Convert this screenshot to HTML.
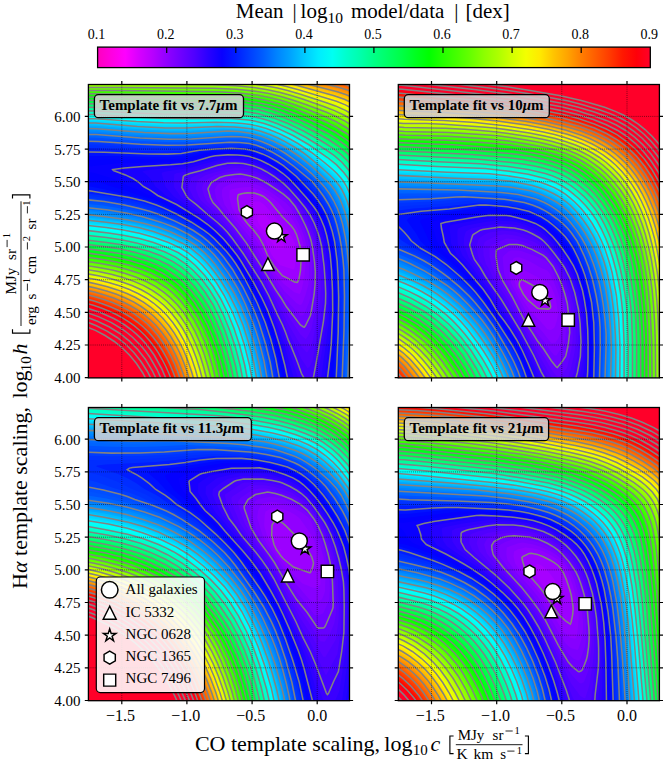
<!DOCTYPE html>
<html><head><meta charset="utf-8"><style>html,body{margin:0;padding:0;background:#fff;}svg{display:block;}</style></head><body>
<svg width="665" height="761" viewBox="0 0 665 761" font-family='"Liberation Serif", serif'>
<rect width="665" height="761" fill="#fff"/>
<defs><linearGradient id="cb" x1="0" x2="1" y1="0" y2="0"><stop offset="0.000" stop-color="#ff00bf"/><stop offset="0.025" stop-color="#ff00e0"/><stop offset="0.050" stop-color="#fe00ff"/><stop offset="0.075" stop-color="#d700ff"/><stop offset="0.100" stop-color="#b700ff"/><stop offset="0.125" stop-color="#9100ff"/><stop offset="0.150" stop-color="#7000ff"/><stop offset="0.175" stop-color="#5000ff"/><stop offset="0.200" stop-color="#2a00ff"/><stop offset="0.225" stop-color="#0900ff"/><stop offset="0.250" stop-color="#001dff"/><stop offset="0.275" stop-color="#003eff"/><stop offset="0.300" stop-color="#005eff"/><stop offset="0.325" stop-color="#0084ff"/><stop offset="0.350" stop-color="#00a5ff"/><stop offset="0.375" stop-color="#00cbff"/><stop offset="0.400" stop-color="#00ecff"/><stop offset="0.425" stop-color="#00fff2"/><stop offset="0.450" stop-color="#00ffcc"/><stop offset="0.475" stop-color="#00ffac"/><stop offset="0.500" stop-color="#00ff86"/><stop offset="0.525" stop-color="#00ff66"/><stop offset="0.550" stop-color="#00ff46"/><stop offset="0.575" stop-color="#00ff20"/><stop offset="0.600" stop-color="#00ff00"/><stop offset="0.625" stop-color="#26ff00"/><stop offset="0.650" stop-color="#46ff00"/><stop offset="0.675" stop-color="#67ff00"/><stop offset="0.700" stop-color="#8dff00"/><stop offset="0.725" stop-color="#adff00"/><stop offset="0.750" stop-color="#d3ff00"/><stop offset="0.775" stop-color="#f3ff00"/><stop offset="0.800" stop-color="#ffea00"/><stop offset="0.825" stop-color="#ffc400"/><stop offset="0.850" stop-color="#ffa400"/><stop offset="0.875" stop-color="#ff7e00"/><stop offset="0.900" stop-color="#ff5e00"/><stop offset="0.925" stop-color="#ff3d00"/><stop offset="0.950" stop-color="#ff1800"/><stop offset="0.975" stop-color="#ff0009"/><stop offset="1.000" stop-color="#ff0029"/></linearGradient><clipPath id="c0"><rect x="88.4" y="84.5" width="261.1" height="293.4"/></clipPath><clipPath id="c1"><rect x="398.3" y="84.5" width="261.1" height="293.4"/></clipPath><clipPath id="c2"><rect x="88.4" y="407.5" width="261.1" height="293.2"/></clipPath><clipPath id="c3"><rect x="398.3" y="407.5" width="261.1" height="293.2"/></clipPath></defs>
<rect x="97.6" y="47.1" width="552.7" height="20.5" fill="url(#cb)" stroke="#000" stroke-width="1.3"/>
<text x="96.6" y="39" font-size="14" text-anchor="middle">0.1</text>
<path d="M166.7 47.1V52.9" stroke="#000" stroke-width="1.2"/>
<text x="165.7" y="39" font-size="14" text-anchor="middle">0.2</text>
<path d="M235.8 47.1V52.9" stroke="#000" stroke-width="1.2"/>
<text x="234.8" y="39" font-size="14" text-anchor="middle">0.3</text>
<path d="M304.9 47.1V52.9" stroke="#000" stroke-width="1.2"/>
<text x="303.9" y="39" font-size="14" text-anchor="middle">0.4</text>
<path d="M373.9 47.1V52.9" stroke="#000" stroke-width="1.2"/>
<text x="372.9" y="39" font-size="14" text-anchor="middle">0.5</text>
<path d="M443.0 47.1V52.9" stroke="#000" stroke-width="1.2"/>
<text x="442" y="39" font-size="14" text-anchor="middle">0.6</text>
<path d="M512.1 47.1V52.9" stroke="#000" stroke-width="1.2"/>
<text x="511.1" y="39" font-size="14" text-anchor="middle">0.7</text>
<path d="M581.2 47.1V52.9" stroke="#000" stroke-width="1.2"/>
<text x="580.2" y="39" font-size="14" text-anchor="middle">0.8</text>
<text x="649.3" y="39" font-size="14" text-anchor="middle">0.9</text>
<g font-size="21">
<text x="235.8" y="18" font-size="21">Mean</text>
<text x="292.6" y="18" font-size="21">|</text>
<text x="300.6" y="18" font-size="21">log</text>
<text x="327.6" y="22.9" font-size="15.5">10</text>
<text x="351" y="18" font-size="21">model/data</text>
<text x="454.2" y="18" font-size="21">|</text>
<text x="465.4" y="18" font-size="21">[dex]</text>
</g>
<g clip-path="url(#c0)">
<g>
<path d="M84.4 80.5H354.4V382.5H84.4Z" fill="#bc00ff"/>
<path d="M84.4 80.5L354.4 80.5L354.4 382.5L84.4 382.5ZM266.4 225L266.2 226.5L267.4 228L268.4 228.3L268.8 227.5L268.2 226.5Z" fill="#b100ff"/>
<path d="M84.4 80.5L354.4 80.5L354.4 382.5L84.4 382.5ZM259.4 213.6L258.6 214.5L257.3 218.5L257.2 219.5L258.7 223.5L265.4 232.4L270.4 240.6L276.4 248.7L284.4 248.8L284.4 246.5L280.3 233.5L277.1 228.5L265.4 214.9L263.4 213.6Z" fill="#a700ff"/>
<path d="M84.4 80.5L354.4 80.5L354.4 382.5L84.4 382.5ZM255.4 201.4L249.4 202.4L248.6 203.5L247.9 213.5L251.4 221.5L259.4 231.1L263.2 236.5L265.8 241.5L271.4 254.2L273.4 257.5L280.4 265.3L293.4 269.6L294.4 268.5L295 266.5L295.8 253.5L294.9 243.5L292.4 237.7L288.2 231.5L279.4 222.3L264.4 204.8L259.4 201.5Z" fill="#9c00ff"/>
<path d="M84.4 80.5L354.4 80.5L354.4 382.5L84.4 382.5ZM242.4 193.4L238.4 194.7L237.5 198.5L239 209.5L244.3 219.5L254.7 231.5L259.2 237.5L263 244.5L269.4 258.9L274.4 266.6L282.4 275.7L294.4 281.9L297.4 282.3L299 278.5L300.5 270.5L301.1 258.5L300.9 250.5L297.8 238.5L294.4 230.1L291.4 226L282.2 216.5L270.6 202.5L263.5 196.5L254.4 193L247.4 192.9Z" fill="#9100ff"/>
<path d="M84.4 80.5L354.4 80.5L354.4 382.5L84.4 382.5ZM241.4 187.4L232.4 189.1L229.6 190.5L229.4 197.5L231.8 207.5L238.5 218.5L242.5 223.5L251.6 233.5L256 239.5L259.4 245.5L267.1 261.5L274.4 272.5L283.4 283.6L294.4 292.3L299.4 294.1L300.4 293.1L301.9 288.5L304.5 276.5L305.6 264.5L305.8 257.5L304.4 248.6L301.4 236.6L297.2 227.5L291.4 217.7L278.2 202.5L273.6 198.5L261.4 190.8L254.4 188.2L250.4 187.1Z" fill="#8600ff"/>
<path d="M84.4 80.5L354.4 80.5L354.4 382.5L84.4 382.5ZM241.4 181.4L237.4 182.1L229.4 184.4L223.4 187.5L221.9 190.5L222.1 196.5L224.5 204.5L233.3 217.5L251.8 239.5L255.5 245.5L265.4 263.8L274.4 277.7L284.4 291.2L296.4 302.9L299.4 304.7L300.4 304.9L301.4 304.6L302.4 303.1L305.3 295.5L308.4 284.5L308.9 277.5L309 260.5L307.3 249.5L304.5 237.5L301.9 230.5L297.7 221.5L290.4 207.8L285.5 202.5L268.3 190.5L260.4 186.1L247.4 181.7Z" fill="#7b00ff"/>
<path d="M84.4 80.5L354.4 80.5L354.4 382.5L84.4 382.5ZM230.4 178.4L226.4 179.7L217.6 184.5L214.7 189.5L215.6 196.5L218.7 203.5L249.1 241.5L270.4 276.5L285.4 299L300.4 315.7L303.4 315.3L309 302.5L310.3 297.5L312 281.5L312 263.5L310.3 250.5L307.6 238.5L303 226.5L294 208.5L291.5 204.5L287.4 200.2L271.4 189.2L259.4 182.4L251.4 179.5L244.4 177.8L237.4 177.7Z" fill="#7000ff"/>
<path d="M84.4 80.5L354.4 80.5L354.4 382.5L84.4 382.5ZM234.4 174.5L221.4 176.9L211.3 182.5L208.1 188.5L210.4 197.5L212.9 202.5L218.6 208.5L224.2 215.5L235.4 228.3L246.4 243.1L286.4 306.8L300.4 324.9L303.4 326.9L304.4 327.1L310.4 315.5L311.1 312.5L314.1 294.5L315.2 278.5L315.3 271.5L314.6 262.5L312.5 247.5L310.1 237.5L305.4 225.5L300.5 215.5L295.2 206.5L289.4 199.4L283.4 194.2L267.4 183.5L257.4 178.2L250.4 176L243.4 174.5L240.4 174.1Z" fill="#6500ff"/>
<path d="M84.4 80.5L354.4 80.5L354.4 382.5L84.4 382.5ZM232.4 171.5L223.4 173L214.6 175.5L205.4 180.5L203 184.5L202 188.5L204.3 196.5L207.1 201.5L213.4 207.6L230.7 226.5L238.6 236.5L262.5 272.5L281.6 304.5L287.4 315.1L300.4 334.5L305.4 339.1L306.4 338.4L308.2 335.5L311.4 329.1L316 305.5L318.1 287.5L318.3 278.5L316.2 252.5L314.2 241.5L309.9 229.5L303.4 216.5L296.8 205.5L287.4 194.7L278.4 187.5L265.4 179.1L256.4 174.7L249.4 172.7L242.4 171.4L237.4 171Z" fill="#5a00ff"/>
<path d="M84.4 80.5L354.4 80.5L354.4 382.5L84.4 382.5ZM231.4 168.4L221.4 170.4L207.4 174.5L204.9 175.5L198.4 179.5L197.2 181.5L195.7 188.5L198.6 196.5L201.1 200.5L209.4 208.1L228.4 227.5L237.3 238.5L244.1 249.5L254.3 263.5L263.8 278.5L281.6 310.5L287.4 322.4L301.4 346.6L306.4 352.3L307.4 352.1L311.4 345.8L312.6 341.5L318.2 312.5L320.1 299.5L321 288.5L320 265.5L318.8 253.5L316.7 242.5L312.7 230.5L306.4 217.5L299.7 206.5L288.4 193.2L278.4 184.8L266.4 176.5L255.4 171.3L248.4 169.5L242.4 168.5L235.4 168Z" fill="#5000ff"/>
<path d="M84.4 80.5L354.4 80.5L354.4 382.5L84.4 382.5ZM231.4 165.5L218.4 168.1L198.4 174.3L191.6 177.5L191 178.5L190 182.5L189.1 187.5L189.3 188.5L192.8 196.5L195 199.5L202.4 205.8L210.3 213.5L221.4 223.3L230.4 232.8L235.6 239.5L254 266.5L262.2 279.5L267.7 289.5L282.4 318.2L287.4 329.8L297.4 349.9L301.4 359L307.4 368.1L309.4 367L312.4 361.2L319.6 324.5L323.5 296.5L323.1 276.5L321.4 257.6L319.5 245.5L315.4 231.6L309.4 218.5L302.7 207.5L289.4 191.7L282.4 185.3L268.8 175.5L262.4 171.8L255.3 168.5L244.4 166.1Z" fill="#4500ff"/>
<path d="M84.4 80.5L354.4 80.5L354.4 382.5L312 382.5L315.9 364.5L323.4 321.6L325.5 304.5L325.7 295.5L324.2 267.5L321.6 246.5L319.7 238.5L317.2 230.5L314.3 223.5L310.3 215.5L303.5 205.5L289.4 189.2L283.4 183.4L274.1 176.5L262.5 169.5L253.4 165.8L243.4 163.5L234.4 163L227.4 163.3L217.4 165.4L200.4 170.7L189.7 173.5L184.5 175.5L183.4 176.5L183.2 177.5L181.9 187.5L186.2 195.5L188.4 198.5L214 219.5L221.9 226.5L227.6 232.5L242.5 252.5L255.6 272.5L266.7 291.5L281.4 322.5L297.2 361.5L301.4 373.3L306.5 382.5L84.4 382.5Z" fill="#3a00ff"/>
<path d="M84.4 80.5L354.4 80.5L354.4 382.5L316.7 382.5L323.4 341.8L325.8 324.5L327.4 311.5L327.6 299.5L326.3 271.5L323.8 248.5L320.4 233.5L317.9 226.5L314.4 218.5L308 208.5L299.1 197.5L287.4 184.6L279.4 177.7L268.4 170.5L256.4 164.8L246.4 162L235.4 160.6L222.4 161.7L213.4 163.8L193.4 169.9L176.4 173.3L174.2 174.5L173.9 180.5L174.2 187.5L181.4 197.5L208.3 217.5L222.1 229.5L232.4 241.6L244 257.5L261.9 286.5L270.4 303.5L284.3 336.5L299.6 382.5L84.4 382.5Z" fill="#2f00ff"/>
<path d="M84.4 80.5L354.4 80.5L354.4 382.5L320.5 382.5L328.7 323.5L329.3 309.5L329.1 291.5L327.9 268.5L325.7 248.5L321.4 230.5L318.4 222.1L315.5 216.5L308.9 206.5L298 193.5L286.4 181.1L278.4 174.5L265.4 166.8L253.4 161.7L242.4 159.3L230.4 158.5L220.4 159.5L190.4 167.8L165.5 171.5L162.2 172.5L161.6 173.5L165.4 186.5L173.8 196.5L203.4 216.4L217.3 227.5L222.4 232.6L229.4 240.5L238.4 252.1L243.4 259.4L261.5 289.5L270.6 308.5L284 343.5L295.1 382.5L84.4 382.5Z" fill="#2400ff"/>
<path d="M84.4 80.5L354.4 80.5L354.4 382.5L324 382.5L329.4 340.1L330.2 330.5L331 310.5L330.6 285.5L329.1 261.5L326.9 245.5L322.7 228.5L321 223.5L317.4 216L311.2 206.5L299.4 192.5L287.3 179.5L278.4 172.2L264.4 164.2L252.7 159.5L242.4 157.4L230.4 156.7L217.4 157.6L196.4 163.5L185.4 166.1L159.4 168.7L145.4 170.5L142.2 171.5L147.2 175.5L150.4 178.8L153.2 182.5L155.4 186.5L160.5 190.5L165.6 195.5L186.4 207.6L202.4 218.2L214.4 227.5L226.3 239.5L239 255.5L244.8 264.5L260.4 291.3L265.4 301.1L269.9 311.5L275.4 325.7L283.5 350.5L291.3 382.5L84.4 382.5Z" fill="#1900ff"/>
<path d="M84.4 80.5L354.4 80.5L354.4 382.5L327 382.5L330.4 353.6L332 330.5L332.7 305.5L332 278.5L330.2 254.5L327.6 239.5L324.4 227.5L318.4 213.9L312 204.5L296.4 186.5L286.6 176.5L277.4 169.4L264.4 162.2L253.4 157.7L244.4 155.7L231.4 154.8L214.4 155.9L194.4 161.5L183.4 163.6L142.4 166.4L112.7 169.5L113.5 170.5L125.4 174.9L133.4 178.8L138.4 182L143.5 186.5L150.4 190.3L157.7 195.5L176.6 204.5L198.4 217.9L207.8 224.5L214.9 230.5L223.4 238.8L232.5 249.5L241.2 261.5L253.4 282.2L262.1 298.5L267.4 309.9L274.4 328.5L280 346.5L284.9 365.5L288.4 382.5L84.4 382.5Z" fill="#0900ff"/>
<path d="M84.4 80.5L354.4 80.5L354.4 382.5L329.9 382.5L332.7 350.5L334.3 315.5L333.8 282.5L331.7 253.5L329.6 240.5L327.6 231.5L322.6 218.5L319.7 212.5L316.4 207.2L304.2 192.5L293.2 180.5L287.4 174.9L274.4 165.5L265.4 160.6L258.4 157.5L250.4 155L243.4 153.7L229.4 153L211.4 154.2L191.4 159.7L179.4 161.5L163.4 162.3L117.4 163.2L91.4 166.2L84.4 166.4ZM84.4 172.5L84.4 171.9L87.4 172L94.4 173.1L111.4 178.3L119.4 181.5L129.1 186.5L138.4 190.1L146.8 194.5L161.4 199.9L170.4 203.9L190.4 215.2L202.4 222.9L210.4 228.9L220.8 238.5L232.4 251.7L240.4 262.9L254.6 287.5L264.5 307.5L270.4 322.3L276.1 339.5L281.4 359.5L286.1 382.5L84.4 382.5Z" fill="#0400ff"/>
<path d="M84.4 80.5L354.4 80.5L354.4 382.5L332.3 382.5L334.9 340.5L335.8 311.5L335.2 279.5L333.2 253.5L330.2 235.5L327.6 226.5L324.4 218.1L321.7 212.5L317.4 205.5L307.6 193.5L295.6 180.5L289.4 174.5L277.4 165.5L271.4 161.7L262.4 157.3L254.4 154.4L246.4 152.5L238.4 151.6L229.4 151.4L211.4 152.4L205.4 153.1L187.4 157.9L173.4 159.3L84.4 160.1ZM84.4 179.5L84.4 178.9L88.4 179.3L97.4 181.3L108.6 185.5L124.4 190.1L136.7 194.5L152.4 199L165.4 204L185.4 214.5L199.4 223.1L210.8 231.5L218.5 238.5L230.4 251.6L239.4 264.1L253.8 289.5L263.1 308.5L269.1 323.5L275.2 342.5L280.3 363.5L283.9 382.5L84.4 382.5Z" fill="#0007ff"/>
<path d="M84.4 80.5L354.4 80.5L354.4 382.5L334.4 382.5L336.7 334.5L337.2 309.5L336.7 279.5L335 255.5L332.5 238.5L329.8 228.5L326.7 219.5L324.2 213.5L320.8 207.5L316.4 201L312 195.5L293.4 175.9L280.3 165.5L271.4 159.9L263.4 156L254.4 152.7L246.4 150.8L231.4 149.9L212.4 150.7L202.4 151.7L185.4 155.6L170.4 156.8L152.4 156.9L110.4 156L84.4 156.1ZM84.4 186.5L84.4 186L91.4 186.7L105.4 189.4L120.4 193.5L142.4 198.3L159.4 203.8L167.4 207.3L179.4 213.4L194.4 222L207.4 230.9L216.2 238.5L228.4 251.5L236.6 262.5L248.3 282.5L258.6 302.5L266.6 321.5L273.1 341.5L277.2 357.5L282.1 382.5L84.4 382.5Z" fill="#0012ff"/>
<path d="M84.4 80.5L354.4 80.5L354.4 382.5L336.1 382.5L338.1 335.5L338.7 306.5L338.1 275.5L336.4 253.5L333.5 236.5L331.1 227.5L328 218.5L322.4 206.8L313.4 194.2L296.5 176.5L287.4 168.8L280.4 163.6L271.4 158.2L264.4 154.7L255.9 151.5L247.4 149.4L235.4 148.4L218.4 148.8L199.4 150.3L181.4 153.4L166.4 154.2L147.4 154L104.4 152.2L84.4 152ZM84.4 190.5L91.4 191L128.4 197.3L143.4 200.8L156.4 205L176.4 214L191.4 222.2L204.4 230.6L214.4 238.9L226.5 251.5L235.6 263.5L245.1 279.5L257.4 303.5L265.2 322.5L270.8 339.5L275.7 358.5L280.2 382.5L84.4 382.5Z" fill="#001dff"/>
<path d="M84.4 80.5L354.4 80.5L354.4 382.5L337.6 382.5L339.6 334.5L340.2 303.5L339.4 271.5L337.4 249L333.8 231.5L328.6 215.5L321.7 202.5L313.4 191.3L298.9 176.5L288.4 167.6L282.4 163.1L273.1 157.5L264.4 153L256.4 150L248.4 148L238.4 146.9L225.4 146.9L198.4 148.8L177.4 151L162.4 151.4L139.4 150.8L99.4 148.2L84.4 148ZM84.4 193.5L102.4 195.2L123.8 198.5L141.4 202.4L155.4 206.9L174.4 215L194.4 226L205.4 233.2L216.4 243L227.1 254.5L235.8 266.5L245.1 282.5L257.1 306.5L265 326.5L270 342.5L274.9 362.5L278.4 382.5L84.4 382.5Z" fill="#002dff"/>
<path d="M84.4 80.5L354.4 80.5L354.4 382.5L339.1 382.5L341 335.5L341.6 305.5L341.1 275.5L339.4 252.5L335.9 233.5L330.7 216.5L327.4 209.2L323.6 202.5L318.4 194.7L313.4 188.4L305.7 180.5L299.1 174.5L290.8 167.5L282.4 161.4L272.5 155.5L263.4 151L256.7 148.5L249.4 146.7L240.4 145.5L227.4 145.4L183.4 148.4L166.4 148.7L147.4 148.3L102.3 145.5L84.4 145.1ZM84.4 196.5L84.4 195.5L91.4 196.1L117.4 199.5L136.4 203.3L152.4 208.1L171.4 215.6L193.4 227.1L204.4 234.4L214.8 243.5L225.4 254.7L234.7 267.5L245.7 286.5L256 307.5L261.9 322.5L268.7 343.5L273.3 362.5L276.8 382.5L84.4 382.5Z" fill="#0033ff"/>
<path d="M84.4 80.5L354.4 80.5L354.4 382.5L340.6 382.5L342.7 327.5L343 289.5L341.7 260.5L338.3 237.5L334.2 221.5L329.4 209.6L322.3 197.5L313.4 185.6L307.2 179.5L296.8 170.5L281.4 159.1L271.7 153.5L263.4 149.5L257.4 147.1L249.4 145.1L240.4 143.9L228.4 143.8L188.4 146.5L168.4 147L142.4 146.1L98.4 143.4L84.4 143.1ZM84.4 198.5L84.4 197.5L94.4 198.4L122.4 202.4L140.4 206.5L159.1 212.5L174.4 219L194.4 229.4L203.4 235.5L214.4 245.2L225 256.5L234.3 269.5L244.7 287.5L254.8 308.5L261.1 324.5L267.4 344.6L271.5 361.5L275.3 382.5L84.4 382.5Z" fill="#003eff"/>
<path d="M84.4 80.5L354.4 80.5L354.4 382.5L342 382.5L344.2 324.5L344.4 285.5L343.4 262.5L341.5 247.5L339.4 235.4L335.3 219.5L330.4 207.9L323 195.5L312.4 181.8L294.4 166.7L280.4 156.8L271.4 151.7L263.4 148L256.4 145.3L249.4 143.6L239.4 142.4L229.4 142.3L187.4 145L166.4 145.3L140.4 144.3L98.4 141.5L84.4 141.2ZM84.4 200.5L84.4 199.5L93.4 200.3L119.4 203.9L136.4 207.6L157.4 213.8L173.4 220.5L192.4 230L202.2 236.5L213.7 246.5L223.9 257.5L232.4 269.2L242.6 286.5L251.4 304.5L259.2 323.5L265.7 344.5L270.2 362.5L273.7 382.5L84.4 382.5Z" fill="#004eff"/>
<path d="M84.4 80.5L354.4 80.5L354.4 382.5L343.5 382.5L345.7 322.5L345.8 283.5L345.4 270.5L344.5 260.5L340.9 235.5L337.3 220.5L332.4 208.2L329.4 202.5L324.4 194.6L314.9 182.5L310.4 178L298.4 168.1L288.5 160.5L280.4 155.1L272 150.5L263.4 146.5L256.4 143.8L250.4 142.3L240.4 141L231.4 140.8L186.4 143.6L165.4 143.6L139.4 142.5L97.4 139.6L84.4 139.3ZM84.4 201.5L103.4 203.5L121.9 206.5L143.4 211.4L157.4 215.7L177.4 224L191.4 231.1L201.4 237.7L212.4 247.2L222.9 258.5L231.4 270.2L241.7 287.5L250.4 305.5L257.7 323.5L262.8 339.5L268.4 361.4L272.2 382.5L84.4 382.5Z" fill="#0053ff"/>
<path d="M84.4 80.5L354.4 80.5L354.4 382.5L344.9 382.5L347.1 322.5L347.3 282.5L345.6 258.5L342.6 236.5L338.8 220.5L333.7 207.5L326.9 195.5L317.7 183.5L311.4 177L303.8 170.5L291.4 160.9L281.4 154.1L273.1 149.5L263.4 145L256.4 142.4L249.4 140.7L239.4 139.5L230.4 139.4L191.4 141.9L171.4 142.2L140.4 140.9L97.4 137.8L84.4 137.5ZM84.4 203.5L103.4 205.5L123.4 208.9L140.4 212.5L155.4 216.9L174.4 224.3L189.4 231.6L201.4 239.5L211.4 248.1L221.8 259.5L230.4 271.3L240.7 288.5L249.3 306.5L256.9 325.5L262 341.5L267.3 363.5L270.7 382.5L84.4 382.5Z" fill="#0064ff"/>
<path d="M84.4 80.5L354.4 80.5L354.4 382.5L346.4 382.5L348.4 324.5L348.8 286.5L347.4 263.3L344.4 239.2L340.8 222.5L336.3 209.5L329.4 196.5L320.5 184.5L311.4 175.2L305.4 169.9L293.4 160.6L283.4 153.7L275.4 149.1L265.7 144.5L256.4 141.1L249.4 139.3L240.4 138.2L231.4 138L191.4 140.4L170.4 140.7L141.4 139.4L97.4 136.2L84.4 135.9ZM84.4 205.5L102.9 207.5L128.4 211.6L144.4 215.4L159.4 220.2L175.4 226.3L189.4 233.3L200.4 240.5L210.4 249L220 259.5L228.8 271.5L238.6 287.5L247 304.5L255.3 325.5L260.5 341.5L265 359.5L269.2 382.5L84.4 382.5Z" fill="#0069ff"/>
<path d="M84.4 80.5L354.4 80.5L354.4 382.5L347.8 382.5L349.7 326.5L350.2 291.5L348.7 264.5L345.7 239.5L342.5 223.5L337.5 208.5L330.7 195.5L326.5 189.5L322.4 184.5L307.1 169.5L297 161.5L285.4 153.4L277.4 148.6L267.4 143.8L258.4 140.4L250.4 138.2L242.4 137L232.4 136.6L190.4 139L168.4 139.2L140.4 137.9L97.4 134.7L84.4 134.4ZM84.4 207.5L106.4 209.8L126.4 213L141.4 216.4L160.4 222.1L175.4 227.8L188.4 234.3L199.4 241.5L209.4 250L218.2 259.5L227.4 271.9L237.1 287.5L245.5 304.5L252.4 321.5L259.4 342.6L264.1 361.5L267.8 382.5L84.4 382.5Z" fill="#0074ff"/>
<path d="M84.4 80.5L354.4 80.5L354.4 382.5L349.1 382.5L351.1 327.5L351.5 297.5L350.2 268.5L347.3 241.5L344.1 224.5L339.1 208.5L332.6 195.5L328.5 189.5L324.4 184.5L308.4 168.8L296.7 159.5L287.4 153L277.4 147.1L270 143.5L260.4 139.7L251.4 137.1L241.4 135.5L232.4 135.2L189.4 137.7L166.4 137.7L138.4 136.4L96.4 133.1L84.4 132.9ZM84.4 209.5L101.4 210.9L123.4 214.2L145.4 219.2L159.4 223.3L174.4 229L187.4 235.4L197.4 241.7L208 250.5L217.4 260.7L228.8 276.5L237.2 290.5L244.6 305.5L252.1 324.5L258.5 344.5L263.1 363.5L266.3 382.5L84.4 382.5Z" fill="#0084ff"/>
<path d="M84.4 80.5L354.4 80.5L354.4 382.5L350.5 382.5L352.4 329.5L352.7 301.5L351.5 271.5L348.7 242.5L345.7 225.5L343.3 216.5L340.6 208.5L337.6 201.5L334.4 195.4L331.2 190.5L326.4 184.5L308.4 167L297.5 158.5L287.4 151.5L277.2 145.5L268.5 141.5L257.7 137.5L250.4 135.6L240.4 134.2L231.4 133.8L189.4 136.3L166.4 136.3L138.4 135L96.4 131.6L84.4 131.4ZM84.4 211.5L84.4 210.9L95.4 212L120.4 215.5L142.4 220L158.4 224.5L173.4 230.1L188.4 237.6L198.4 244.1L207.1 251.5L217.1 262.5L227.8 277.5L236.3 291.5L243.4 306L250.7 324.5L257.4 345.5L261.8 363.5L265.1 382.5L84.4 382.5Z" fill="#008fff"/>
<path d="M84.4 80.5L354.4 80.5L354.4 382.5L351.9 382.5L353.6 331.5L353.8 300.5L352.7 271.5L350.2 244.5L347.3 226.5L342.4 209L336.3 195.5L332.4 189.5L328.4 184.5L308.7 165.5L299.4 158.2L289.7 151.5L280.4 145.9L271.5 141.5L261.4 137.5L252.4 134.9L242.4 133.2L230.4 132.4L188.4 134.9L163.4 134.8L136.4 133.4L96.4 130.2L84.4 129.9ZM84.4 213.5L84.4 212.6L90.4 213.1L119.4 217L139.4 220.8L156.4 225.3L171.4 230.8L186.4 238L196.4 244.3L205.4 251.7L215.4 262.5L226.9 278.5L234.8 291.5L242.3 306.5L250.1 326.5L255.9 345.5L260.7 364.5L263.8 382.5L84.4 382.5Z" fill="#0095ff"/>
<path d="M84.4 80.5L354.4 80.5L354.4 281.8L352.5 254.5L349.9 233.5L346.2 216.5L341.4 202.4L336.4 192.6L329.5 183.5L311.9 166.5L302.4 158.8L287.3 148.5L274.4 141.5L259 135.5L252.4 133.7L245.4 132.4L228.4 131.1L190.4 133.4L168.4 133.5L138.4 132.1L95.4 128.6L84.4 128.5ZM84.4 214.5L99.4 215.8L124.4 219.3L141.4 222.7L156.4 226.8L170.4 231.9L185.4 238.9L195.4 245.1L204.4 252.6L214.4 263.4L226 279.5L233.9 292.5L240.9 306.5L247.3 322.5L253.5 341.5L259.1 363.5L262.5 382.5L84.4 382.5ZM354.4 348.5L354.4 348L354.4 382.5L353.3 382.5Z" fill="#00a0ff"/>
<path d="M84.4 80.5L354.4 80.5L354.4 263L352.5 243.5L349.9 226.5L345.5 209.5L340.3 196.5L334.8 187.5L327.7 179.5L310.4 163.4L297.3 153.5L284.4 145.4L270.4 138.5L256.4 133.5L243.4 131L226.4 129.9L189.4 132L167.4 132.1L137.4 130.7L95.4 127.2L84.4 127ZM84.4 216.5L84.4 215.8L90.4 216.4L122.4 220.4L140.4 223.9L155.4 227.9L169.4 232.9L184.4 239.8L194.4 246L203.5 253.5L213.4 264.3L224.5 279.5L232.5 292.5L240 307.5L246.4 323.5L252.5 342.5L257.8 363.5L261.2 382.5L84.4 382.5Z" fill="#00aaff"/>
<path d="M84.4 80.5L354.4 80.5L354.4 249.1L352 230.5L348.2 213.5L344.2 201.5L338.4 190L335.2 185.5L330.8 180.5L315.9 166.5L304.4 156.9L292 148.5L278.4 140.9L266.4 135.6L253.4 131.6L242.4 129.8L223.4 128.7L188.4 130.7L166.4 130.7L135.4 129.1L95.4 125.8L84.4 125.6ZM84.4 217.5L101.4 218.9L122.4 221.7L139.4 225L154.4 229L167.4 233.6L183.4 240.8L193.4 246.9L202.4 254.3L211.4 263.9L221.6 277.5L231.4 293.3L239 308.5L245.4 324.5L251.5 343.5L256.9 365.5L259.9 382.5L84.4 382.5Z" fill="#00bbff"/>
<path d="M84.4 80.5L354.4 80.5L354.4 238.7L351.5 221.5L347.8 207.5L343.4 196.2L338.4 187.2L334.7 182.5L329.4 176.9L311.4 160.8L302.4 153.8L289.4 145.5L275.4 138.1L264.4 133.7L252.4 130.2L240.6 128.5L221.4 127.6L187.4 129.3L165.4 129.3L136.4 127.8L95.4 124.4L84.4 124.3ZM84.4 219.5L84.4 218.6L118.4 222.5L136.4 225.7L152.4 229.8L169.4 235.9L182 241.5L192.1 247.5L201.4 255.1L211.1 265.5L220.9 278.5L229.5 292.5L238.1 309.5L244.5 325.5L250.5 344.5L255.8 366.5L258.7 382.5L84.4 382.5Z" fill="#00c6ff"/>
<path d="M84.4 80.5L354.4 80.5L354.4 230.3L351.2 214.5L347.9 203.5L342.7 191.5L337.6 183.5L328 173.5L309.5 157.5L299.8 150.5L286.5 142.5L272.4 135.5L262.4 131.8L252.4 129.1L240.4 127.4L217.4 126.5L185.4 128L164.4 127.9L137.4 126.6L95.4 123.1L84.4 123ZM84.4 220.5L84.4 219.9L92.4 220.6L120.4 224.1L137.4 227.3L152.4 231.3L169.4 237.2L182.4 243.2L191.4 248.6L200.4 256L210.3 266.5L220.1 279.5L228.7 293.5L236.7 309.5L243.2 325.5L248.9 343.5L253.8 362.5L257.4 382.5L84.4 382.5Z" fill="#00cbff"/>
<path d="M84.4 80.5L354.4 80.5L354.4 223.5L351.5 210.5L347.4 198.3L343.3 189.5L337.4 180.9L327.4 170.9L308.4 155L299.1 148.5L284.4 140L272.4 134.3L261.8 130.5L251.4 127.9L240.4 126.4L219.4 125.4L182.4 126.7L163.4 126.5L138.4 125.3L96.4 122L84.4 121.8ZM84.4 221.5L84.4 221.2L100.4 222.8L121.4 225.6L137.4 228.7L151.7 232.5L167.4 237.9L181.4 244.1L190.4 249.5L199.4 256.9L208.6 266.5L219.3 280.5L228.4 295.5L235.8 310.5L242.2 326.5L248 344.5L253 364.5L256.2 382.5L84.4 382.5Z" fill="#00d6ff"/>
<path d="M84.4 80.5L354.4 80.5L354.4 217.1L351 204.5L346.5 192.5L342.4 185.1L337.4 178.5L326.9 168.5L308.4 153.4L298.4 146.6L283.4 138.2L271.4 132.7L261.4 129.3L251.4 126.8L239.4 125.3L218.4 124.4L185.4 125.3L163.4 125.2L139.4 124.1L95.4 120.9L84.4 120.7ZM84.4 222.5L106.4 224.8L124.4 227.5L139.4 230.6L155.4 235L169.4 240.1L182.4 246.1L190.4 251.1L199.4 258.7L209.4 269.4L218.4 281.3L227.4 296.3L234.4 310.5L240.9 326.5L246.7 344.5L252 365.5L255 382.5L84.4 382.5Z" fill="#00e1ff"/>
<path d="M84.4 80.5L354.4 80.5L354.4 211.9L350.7 199.5L346.6 189.5L342.4 182.4L336.4 175.2L325.7 165.5L307.4 151.1L297.2 144.5L282.4 136.4L270.4 131.1L260.4 127.9L250.4 125.6L239.4 124.2L217.4 123.3L183.4 124.2L161.4 123.9L134.4 122.6L95.4 119.8L84.4 119.7ZM84.4 224.5L84.4 223.8L90.4 224.4L120.4 228.1L136.4 231.3L153.4 235.8L167.4 240.7L181.4 247L189.4 252L198.4 259.5L208.4 270.1L217.1 281.5L225.4 295.2L233.1 310.5L240 327.5L245.5 344.5L250.8 365.5L253.9 382.5L84.4 382.5Z" fill="#00f1ff"/>
<path d="M84.4 80.5L354.4 80.5L354.4 207.2L350.4 194.9L346.6 186.5L342.4 179.9L336.4 173L325.6 163.5L307.4 149.6L296.2 142.5L281.1 134.5L269.4 129.6L259.4 126.5L250.4 124.5L238.4 123.1L216.4 122.3L182.4 123L162.4 122.8L135.4 121.5L95.4 118.8L84.4 118.6ZM84.4 225.5L84.4 225.1L97.4 226.4L120.4 229.5L138.4 233.1L153.4 237.1L167.4 242.1L180.4 248L188.4 252.9L197.4 260.3L207.9 271.5L216.3 282.5L224.2 295.5L232.2 311.5L239.1 328.5L244.4 345L249.6 365.5L252.7 382.5L84.4 382.5Z" fill="#00fcff"/>
<path d="M84.4 80.5L354.4 80.5L354.4 202.7L350.5 191.5L345.9 182.5L339.4 174L331.6 166.5L312.3 151.5L296.9 141.5L281.4 133.4L265.4 127.1L250.4 123.5L232.4 121.7L214.4 121.2L181.4 121.8L162.4 121.6L135.4 120.4L95.4 117.7L84.4 117.6ZM84.4 226.5L103.4 228.4L121.4 231L138.8 234.5L153.4 238.4L167.5 243.5L179.4 249L188.4 254.5L196.4 261.1L207.2 272.5L215.4 283.4L222.8 295.5L230.9 311.5L237.4 327.5L243.3 345.5L248.4 365.5L251.5 382.5L84.4 382.5Z" fill="#00fffd"/>
<path d="M84.4 80.5L354.4 80.5L354.4 198.4L350.1 187.5L345.6 179.5L338.4 170.7L330.4 163.5L310.4 148.6L295.4 139.3L281.4 132.2L265.4 126L250.4 122.4L232.4 120.7L212.4 120.2L180.4 120.7L161.4 120.5L135.4 119.3L95.4 116.7L84.4 116.5ZM84.4 228.5L84.4 227.6L117.4 231.7L135.4 235L150.4 238.9L165.4 244L177.4 249.4L186.4 254.7L195.4 262L205.5 272.5L214.4 284L222 296.5L230 312.5L236.4 328.1L242.4 346.5L247.2 365.5L250.4 382.5L84.4 382.5Z" fill="#00fff2"/>
<path d="M84.4 80.5L354.4 80.5L354.4 194.4L349.6 183.5L344.4 175.5L337.4 167.6L329 160.5L309.4 146.5L294.5 137.5L280.2 130.5L264.4 124.6L249.4 121.2L232.4 119.7L213.4 119.2L161.4 119.3L135.4 118.2L95.4 115.6L84.4 115.5ZM84.4 229.5L84.4 228.9L91.4 229.7L120.4 233.5L136.4 236.5L150.4 240.2L164.4 245L177.4 250.9L186.4 256.3L194.4 262.8L204.4 273.1L213.2 284.5L221.2 297.5L228.7 312.5L235.3 328.5L241.1 346.5L246 365.5L249.2 382.5L84.4 382.5Z" fill="#00ffe7"/>
<path d="M84.4 80.5L354.4 80.5L354.4 190.8L350 181.5L343.8 172.5L336.4 164.6L327.5 157.5L308.6 144.5L293.1 135.5L278.4 128.6L263.4 123.3L248.4 120.1L231.4 118.6L160.4 118.2L95.4 114.6L84.4 114.5ZM84.4 230.5L103.4 232.3L123.4 235.2L139.2 238.5L153.4 242.5L167.4 247.6L178.4 252.8L187.2 258.5L195.4 265.5L204.8 275.5L213.1 286.5L220.4 298.5L227.9 313.5L234 328.5L239.6 345.5L244.8 365.5L248 382.5L84.4 382.5Z" fill="#00ffd7"/>
<path d="M84.4 80.5L354.4 80.5L354.4 187.4L349.8 178.5L343.9 170.5L336.4 162.6L328.6 156.5L309.3 143.5L293.6 134.5L279.4 127.8L263.4 122.2L248.4 119.1L231.4 117.6L160.4 117.1L96.4 113.7L84.4 113.5ZM84.4 231.5L106.4 233.9L123.4 236.5L138.4 239.6L152.4 243.5L166.3 248.5L176.9 253.5L185.4 258.8L194.4 266.3L203.4 275.7L211.6 286.5L219.4 299.1L226.6 313.5L233.1 329.5L238.4 345.5L243.6 365.5L246.9 382.5L84.4 382.5Z" fill="#00ffcc"/>
<path d="M84.4 80.5L354.4 80.5L354.4 184.3L349.4 175.5L343.4 167.7L335.4 159.8L328.2 154.5L308.3 141.5L292.1 132.5L278.4 126.3L262.4 120.9L248.4 118L231.4 116.6L163.4 116.1L96.4 112.8L84.4 112.6ZM84.4 233.5L84.4 232.7L118.4 236.9L134.4 240L150.4 244.2L164.4 249.1L175.4 254.1L184.4 259.7L193.4 267.1L202.4 276.5L210.9 287.5L218.8 300.5L225.7 314.5L232.2 330.5L237.5 346.5L242.7 366.5L245.7 382.5L84.4 382.5Z" fill="#00ffc7"/>
<path d="M84.4 80.5L354.4 80.5L354.4 181.4L349.4 173.2L342.4 164.6L334.8 157.5L326.2 151.5L306.4 139L290.5 130.5L276.7 124.5L261.4 119.5L247.4 116.9L230.4 115.5L163.4 115.1L97.4 111.9L84.4 111.7ZM84.4 234.5L84.4 233.9L119.4 238.3L136.4 241.7L151.4 245.8L164.4 250.4L175.2 255.5L183.4 260.6L192.4 268L201.4 277.2L209.4 287.6L217.4 300.5L224.4 314.4L231 330.5L236.3 346.5L241.3 365.5L244.6 382.5L84.4 382.5Z" fill="#00ffbc"/>
<path d="M84.4 80.5L354.4 80.5L354.4 178.8L349.1 170.5L342.2 162.5L334.4 155.6L325.6 149.5L306.1 137.5L290.4 129.3L277 123.5L261.4 118.5L246.4 115.8L230.4 114.5L162.4 114.1L97.4 111L84.4 110.8ZM84.4 235.5L84.4 235.1L98.4 236.6L119.4 239.6L136.4 243L151.4 247.1L163.7 251.5L174.4 256.5L183.4 262.2L192.2 269.5L200.8 278.5L209.2 289.5L216.6 301.5L223.4 315L229.7 330.5L235.4 347.5L240.1 365.5L243.4 382.5L84.4 382.5Z" fill="#00ffb1"/>
<path d="M84.4 80.5L354.4 80.5L354.4 176.3L348.4 167.5L342 160.5L333.4 153.2L323.3 146.5L304.4 135.2L289.1 127.5L275.4 121.8L260.4 117.2L245.4 114.7L229.4 113.5L162.4 113.1L98.4 110.1L84.4 109.9ZM84.4 236.5L102.4 238.3L120.4 241L136.4 244.2L151.4 248.3L163.4 252.7L173.5 257.5L182.9 263.5L191.4 270.5L200.4 279.9L208.4 290.4L215.8 302.5L222.3 315.5L228.5 330.5L234.2 347.5L239.2 366.5L242.3 382.5L84.4 382.5Z" fill="#00ffa1"/>
<path d="M84.4 80.5L354.4 80.5L354.4 173.8L348.5 165.5L341.8 158.5L333.4 151.6L322.5 144.5L303.4 133.4L288.4 126L275.4 120.7L260.4 116.2L245.4 113.7L229.4 112.5L162.4 112L98.4 109.2L84.4 109ZM84.4 237.5L105.4 239.9L122.4 242.5L137.4 245.7L150.4 249.3L162.4 253.7L172.6 258.5L182.1 264.5L190.6 271.5L199.4 280.7L207.4 291.2L215 303.5L221.4 316.2L227.6 331.5L233.2 348.5L238 366.5L241.2 382.5L84.4 382.5Z" fill="#00ff97"/>
<path d="M84.4 80.5L354.4 80.5L354.4 171.4L348.4 163.4L341.5 156.5L332.4 149.3L321.6 142.5L302.4 131.6L287.4 124.4L274.4 119.3L259.4 115L245.4 112.7L229.4 111.5L162.4 111L99.4 108.4L84.4 108.1ZM84.4 239.5L84.4 238.6L117.4 242.8L133.4 245.9L148.4 249.9L161.1 254.5L171.4 259.3L180.4 264.9L189.4 272.1L198.4 281.4L206.1 291.5L213.6 303.5L220.2 316.5L226.8 332.5L232 348.5L236.8 366.5L240 382.5L84.4 382.5Z" fill="#00ff91"/>
<path d="M84.4 80.5L354.4 80.5L354.4 169.2L348.4 161.5L341.1 154.5L332.4 147.8L320.7 140.5L302.4 130.4L287.4 123.3L273.4 117.9L259.4 114L244.4 111.6L228.4 110.5L161.4 110L84.4 107.3ZM84.4 240.5L84.4 239.8L118.4 244.2L134.4 247.4L148.4 251.2L160.4 255.6L171.4 260.8L180.4 266.5L189 273.5L197.6 282.5L205.3 292.5L212.8 304.5L219.4 317.5L225.2 331.5L230.5 347.5L235.4 365.5L238.9 382.5L84.4 382.5Z" fill="#00ff81"/>
<path d="M84.4 80.5L354.4 80.5L354.4 167L348.3 159.5L340.4 152.3L331.4 145.6L319.6 138.5L301.4 128.6L286.4 121.8L272.4 116.5L259.4 113L244.4 110.6L228.4 109.5L161.4 109L84.4 106.4ZM84.4 241.5L84.4 240.9L117.4 245.2L133.4 248.4L147.4 252.2L159.4 256.5L170.4 261.7L179.6 267.5L188.2 274.5L196.4 283L204.4 293.3L212 305.5L218.4 318.1L223.9 331.5L229.3 347.5L234.5 366.5L237.8 382.5L84.4 382.5Z" fill="#00ff76"/>
<path d="M84.4 80.5L354.4 80.5L354.4 164.9L348.4 157.8L340.2 150.5L330.4 143.5L318.4 136.4L301.4 127.4L286.4 120.7L272.4 115.5L259.4 112L244.4 109.6L228.4 108.5L161.4 108L84.4 105.5ZM84.4 242.5L84.4 242L94.4 243.1L118.4 246.5L133.4 249.5L147.4 253.4L159.4 257.9L170.4 263.2L179.4 268.9L187.4 275.5L195.4 283.8L203.4 294.1L210.6 305.5L217.4 318.7L223.1 332.5L228.4 348.5L233.3 366.5L236.6 382.5L84.4 382.5Z" fill="#00ff6c"/>
<path d="M84.4 80.5L354.4 80.5L354.4 162.8L347.4 155.1L338.4 147.5L329.4 141.4L315.5 133.5L300.4 125.7L285.4 119.2L272.4 114.5L258.4 110.8L243.4 108.5L227.4 107.5L160.4 107L84.4 104.6ZM84.4 243.5L84.4 243L97.4 244.6L118.4 247.6L133.4 250.7L146.4 254.4L159.4 259.2L169.4 264.1L178.4 269.8L186.6 276.5L194.4 284.5L202.4 294.8L209.8 306.5L216.5 319.5L222.3 333.5L227.3 348.5L231.9 365.5L235.5 382.5L84.4 382.5Z" fill="#00ff61"/>
<path d="M84.4 80.5L354.4 80.5L354.4 160.8L347.4 153.4L338.4 146L329.4 140L314.2 131.5L299.4 124.1L284.4 117.7L271.4 113.2L258.4 109.8L244.4 107.7L227.4 106.5L163.4 106L84.4 103.7ZM84.4 244.5L84.4 244.1L99.4 245.9L118.4 248.8L132.4 251.7L145.9 255.5L158.4 260.1L168.4 265L177.4 270.6L185.9 277.5L194.4 286.5L202.4 297L209.4 308.2L215.4 319.9L221.1 333.5L226.1 348.5L230.7 365.5L234.3 382.5L84.4 382.5Z" fill="#00ff56"/>
<path d="M84.4 80.5L354.4 80.5L354.4 158.9L349.3 153.5L342.5 147.5L334.4 141.7L326.4 136.8L298.6 122.5L284.1 116.5L271.4 112.2L261.1 109.5L251.4 107.6L232.4 105.7L164.4 105.1L84.4 102.9ZM84.4 245.5L84.4 245.2L100.4 247.2L118.4 249.9L132.4 252.9L145.4 256.6L157.4 261L167.4 265.9L176.5 271.5L185.1 278.5L193.4 287.2L201.4 297.7L208.2 308.5L214.4 320.5L219.8 333.5L224.9 348.5L229.6 365.5L233.2 382.5L84.4 382.5Z" fill="#00ff4b"/>
<path d="M84.4 80.5L354.4 80.5L354.4 157L349 151.5L342.4 145.9L334.4 140.2L326.5 135.5L298.4 121.3L283.4 115.2L270.4 110.9L260.4 108.4L250.2 106.5L231.4 104.7L164.4 104.1L84.4 102ZM84.4 246.5L102.4 248.5L119.4 251.3L133.4 254.4L146.4 258.2L157.7 262.5L167.8 267.5L176.4 273L184.3 279.5L192.4 288L200.5 298.5L207.4 309.5L213.6 321.5L219 334.5L224 349.5L228.7 366.5L232.1 382.5L84.4 382.5Z" fill="#00ff41"/>
<path d="M84.4 80.5L354.4 80.5L354.4 155.2L348.7 149.5L342.4 144.3L334.4 138.8L326.4 134L297.4 119.7L283.4 114.2L270.4 110L260.4 107.5L249.4 105.5L230.4 103.7L164.4 103.1L84.4 101.1ZM84.4 247.5L102.4 249.6L118.4 252.2L132.4 255.3L145.4 259.1L156.9 263.5L167 268.5L175.4 273.9L183.4 280.4L191.4 288.7L199 298.5L206 309.5L212.4 321.8L218.2 335.5L222.9 349.5L227.5 366.5L230.9 382.5L84.4 382.5Z" fill="#00ff36"/>
<path d="M84.4 80.5L354.4 80.5L354.4 153.4L348.4 147.6L342.1 142.5L333.4 136.7L325.4 132.2L297.1 118.5L282.4 112.8L269.4 108.7L249.4 104.6L230.4 102.8L163.4 102.1L84.4 100.3ZM84.4 248.5L103.4 250.9L118.4 253.4L133.4 256.8L145.4 260.4L156.4 264.6L166.4 269.6L175.4 275.5L182.7 281.5L190.4 289.5L198.2 299.5L205.2 310.5L211.5 322.5L216.9 335.5L221.7 349.5L226.1 365.5L229.8 382.5L84.4 382.5Z" fill="#00ff2b"/>
<path d="M84.4 80.5L354.4 80.5L354.4 151.6L348.4 145.9L342.4 141.2L333.7 135.5L325.4 130.8L296.4 117.1L282.4 111.8L269.4 107.8L249.4 103.7L230.4 101.9L163.4 101.2L84.4 99.4ZM84.4 249.5L104.4 252.1L118.4 254.5L132.4 257.7L144.4 261.3L155.4 265.5L165.4 270.5L174.4 276.3L181.9 282.5L189.7 290.5L197.5 300.5L204.4 311.5L210.6 323.5L215.7 335.5L220.5 349.5L225 365.5L228.7 382.5L84.4 382.5Z" fill="#00ff20"/>
<path d="M84.4 80.5L354.4 80.5L354.4 149.8L348.7 144.5L342.1 139.5L333.4 133.9L324.4 129L295.4 115.6L281.6 110.5L269.4 106.8L259.4 104.6L248.4 102.7L228.4 100.9L164.4 100.3L84.4 98.6ZM84.4 251.5L84.4 250.5L112.4 254.6L128.4 257.9L142.4 261.9L154.4 266.4L164.4 271.4L173.4 277.2L181.1 283.5L188.9 291.5L196.4 301.1L203.4 312.1L209.3 323.5L214.9 336.5L219.4 349.7L223.8 365.5L227.6 382.5L84.4 382.5Z" fill="#00ff16"/>
<path d="M84.4 80.5L354.4 80.5L354.4 148.1L348.4 142.7L341.4 137.5L333.4 132.5L323.4 127.2L295.4 114.5L281.4 109.4L268.4 105.6L247.4 101.7L226.4 99.9L164.4 99.3L84.4 97.8ZM84.4 252.5L84.4 251.6L113.4 255.9L128.4 259.1L141.4 262.8L153.4 267.3L163.4 272.3L172.4 278L180.3 284.5L188.1 292.5L195.4 301.7L202.3 312.5L208.4 324.2L213.6 336.5L218.5 350.5L222.7 365.5L226.5 382.5L84.4 382.5Z" fill="#00ff0b"/>
<path d="M84.4 80.5L354.4 80.5L354.4 146.3L348.4 141.1L341.4 136L332.4 130.6L323.4 125.9L294.4 113L280.4 108.1L268.4 104.7L247.4 100.8L226.4 99L84.4 97ZM84.4 253.5L84.4 252.6L113.4 257L128.4 260.2L141.4 264L152.4 268.2L162.4 273.1L171.4 278.9L179.4 285.4L187.4 293.6L194.5 302.5L201.4 313.4L207.4 324.8L212.8 337.5L217.3 350.5L221.5 365.5L225.4 382.5L84.4 382.5Z" fill="#00ff00"/>
<path d="M84.4 80.5L354.4 80.5L354.4 144.6L348.4 139.5L340.4 133.9L331.4 128.7L322.4 124.2L293.4 111.6L280.4 107.1L268.4 103.8L247.4 99.9L226.4 98.1L84.4 96.2ZM84.4 254.5L84.4 253.7L113.4 258.1L128.4 261.4L141.4 265.3L152.4 269.6L162.3 274.5L171.4 280.4L178.8 286.5L186.6 294.5L193.7 303.5L200.1 313.5L206.4 325.5L211.6 337.5L216.4 351.5L220.4 365.7L224.2 382.5L84.4 382.5Z" fill="#0bff00"/>
<path d="M84.4 80.5L354.4 80.5L354.4 143L347.8 137.5L340.4 132.5L331.7 127.5L321.5 122.5L293.3 110.5L279.4 105.8L267.4 102.6L246.4 98.9L225.4 97.2L84.4 95.4ZM84.4 255.5L84.4 254.8L113.4 259.2L127.4 262.3L140.4 266.2L151.4 270.4L161.4 275.5L170.4 281.3L178 287.5L185.8 295.5L192.9 304.5L199.3 314.5L205.4 326.1L210.4 337.7L214.9 350.5L219.2 365.5L223.1 382.5L84.4 382.5Z" fill="#16ff00"/>
<path d="M84.4 80.5L354.4 80.5L354.4 141.3L347.4 135.7L339.5 130.5L330.4 125.5L320.4 120.8L292.4 109.1L279.4 104.8L267.4 101.7L246.4 98L225.4 96.3L84.4 94.6ZM84.4 256.5L84.4 255.8L113.4 260.3L127.4 263.5L140.4 267.4L151.4 271.8L160.7 276.5L169.4 282.1L177.4 288.7L185 296.5L192.1 305.5L198.5 315.5L204.3 326.5L209.5 338.5L214.1 351.5L218.1 365.5L222 382.5L84.4 382.5Z" fill="#20ff00"/>
<path d="M84.4 80.5L354.4 80.5L354.4 139.7L347.4 134.2L339.4 129.1L330.4 124.2L319.4 119.1L291.4 107.7L278.4 103.6L266.4 100.5L246.4 97.2L224.4 95.4L84.4 93.8ZM84.4 257.5L84.4 256.8L112.4 261.2L126.4 264.4L139.4 268.3L150.4 272.7L160 277.5L168.4 282.9L176.4 289.5L184.3 297.5L191.4 306.5L197.7 316.5L203.4 327.3L208.4 338.8L212.9 351.5L216.9 365.5L220.9 382.5L84.4 382.5Z" fill="#2bff00"/>
<path d="M84.4 80.5L354.4 80.5L354.4 138L347.4 132.7L339.1 127.5L329.6 122.5L318.6 117.5L291.4 106.7L278.4 102.6L266.4 99.6L246.4 96.3L224.4 94.5L84.4 92.9ZM84.4 258.5L84.4 257.9L112.4 262.4L126.4 265.6L139.4 269.6L150.4 274L159.4 278.6L167.4 283.8L175.7 290.5L183.4 298.4L189.9 306.5L196.4 316.5L202.2 327.5L207.4 339.4L211.7 351.5L215.8 365.5L219.8 382.5L84.4 382.5Z" fill="#36ff00"/>
<path d="M84.4 80.5L354.4 80.5L354.4 136.4L347.4 131.2L338.4 125.7L328.4 120.6L316.7 115.5L290.4 105.3L277.4 101.4L265.4 98.5L245.4 95.3L224.4 93.7L84.4 92.1ZM84.4 259.5L84.4 258.9L88.6 259.5L113.4 263.7L127.4 267L139.4 270.8L150.4 275.3L159.4 280.1L167.6 285.5L175.4 292L182.7 299.5L189.4 307.9L195.6 317.5L201.4 328.5L206.6 340.5L210.9 352.5L214.6 365.5L218.7 382.5L84.4 382.5Z" fill="#41ff00"/>
<path d="M84.4 80.5L354.4 80.5L354.4 134.8L347.4 129.8L338.4 124.4L328.7 119.5L317.1 114.5L289.4 104L276.4 100.1L265 97.5L244.4 94.3L221.4 92.7L84.4 91.3ZM84.4 260.5L84.4 259.9L112.4 264.6L126.4 267.9L138.4 271.7L149.4 276.2L158.4 280.9L166.8 286.5L174.4 292.8L181.4 299.9L188.4 308.6L194.8 318.5L200.4 329.1L205.4 340.5L209.7 352.5L213.5 365.5L217.6 382.5L84.4 382.5Z" fill="#4cff00"/>
<path d="M84.4 80.5L354.4 80.5L354.4 133.3L346.4 127.7L337.4 122.5L317.5 113.5L288.4 102.6L276.4 99.2L264.4 96.5L243.4 93.3L220.4 91.8L84.4 90.5ZM84.4 261.5L84.4 261L90.4 261.9L112.4 265.7L125.4 268.8L137.4 272.6L147.4 276.6L156.9 281.5L165.4 287L173.4 293.5L180.4 300.6L187.5 309.5L193.4 318.5L199.3 329.5L204.4 341.1L208.8 353.5L212.6 366.5L216.5 382.5L84.4 382.5Z" fill="#56ff00"/>
<path d="M84.4 80.5L354.4 80.5L354.4 131.7L346.4 126.3L337.4 121.1L327.6 116.5L315.4 111.5L287.4 101.3L275.4 98L263.4 95.4L242.4 92.4L219.4 90.9L84.4 89.7ZM84.4 262.5L84.4 262L91.4 263.1L112.4 266.8L125.4 270L137.4 273.8L147.4 277.9L156.4 282.6L164.4 287.8L172.6 294.5L180.4 302.5L186.7 310.5L192.6 319.5L198.4 330.3L203.3 341.5L207.6 353.5L211.4 366.3L215.4 382.5L84.4 382.5Z" fill="#61ff00"/>
<path d="M84.4 80.5L354.4 80.5L354.4 130.2L346.4 124.8L337.4 119.8L328.2 115.5L315.8 110.5L287.4 100.3L275.4 97L263.4 94.5L242.4 91.5L218.4 90L84.4 88.9ZM84.4 263.5L84.4 263L92.4 264.2L111.4 267.7L124.4 270.9L136.4 274.7L146.4 278.8L155.4 283.5L164.4 289.4L171.8 295.5L179.4 303.2L186 311.5L191.8 320.5L197.4 330.9L202.1 341.5L206.5 353.5L210 365.5L214.3 382.5L84.4 382.5Z" fill="#6cff00"/>
<path d="M84.4 80.5L354.4 80.5L354.4 128.7L346.4 123.4L337.4 118.5L328.4 114.3L316.2 109.5L286.4 99L274.4 95.9L262.4 93.4L241.4 90.5L217.4 89.1L84.4 88.2ZM84.4 264.5L84.4 264.1L92.4 265.3L111.4 268.8L124.4 272L136.4 275.9L146.4 280.1L155.4 284.9L163.4 290.2L171 296.5L178.4 304L185.2 312.5L191 321.5L196.4 331.5L201.3 342.5L205.4 353.8L209.2 366.5L213.2 382.5L84.4 382.5Z" fill="#77ff00"/>
<path d="M84.4 80.5L354.4 80.5L354.4 127.2L345.5 121.5L336.4 116.7L326.4 112.3L311.2 106.5L285.4 97.8L273.4 94.7L261.4 92.3L240.4 89.6L216.4 88.3L84.4 87.4ZM84.4 265.5L84.4 265.1L93.4 266.5L111.4 269.9L124.4 273.2L135.4 276.8L145.4 281L154.4 285.8L163 291.5L170.4 297.6L177.4 304.7L183.7 312.5L189.6 321.5L195.4 332.1L200 342.5L204.4 354.5L208 366.5L212.1 382.5L84.4 382.5Z" fill="#82ff00"/>
<path d="M84.4 80.5L354.4 80.5L354.4 125.7L346.4 120.6L338.4 116.3L329.4 112.3L316.9 107.5L300.4 101.5L285.4 96.8L273.4 93.7L261.4 91.4L240.4 88.7L216.4 87.4L84.4 86.6ZM84.4 266.5L84.4 266.1L93.4 267.5L111.4 271L124.4 274.4L135.4 278.1L145.4 282.4L154.4 287.2L162.4 292.6L169.5 298.5L176.4 305.5L182.9 313.5L188.8 322.5L194.4 332.7L199.2 343.5L203.3 354.5L206.9 366.5L211 382.5L84.4 382.5Z" fill="#8dff00"/>
<path d="M84.4 80.5L354.4 80.5L354.4 124.3L345.4 118.6L335.4 113.6L308.4 103.3L283.4 95.2L260.4 90.3L239.4 87.8L215.4 86.5L84.4 85.8ZM84.4 267.5L84.4 267.1L92.4 268.4L110.4 271.9L123.4 275.2L134.4 278.9L144.4 283.2L153.4 288.1L161.4 293.4L168.7 299.5L175.6 306.5L182.1 314.5L188 323.5L193.5 333.5L198.4 344.5L202.4 355.4L209.8 382.5L84.4 382.5Z" fill="#97ff00"/>
<path d="M84.4 80.5L354.4 80.5L354.4 122.8L345.4 117.3L335.4 112.3L305.4 101.1L281.4 93.8L259.4 89.3L239.4 86.9L215.4 85.7L84.4 85ZM84.4 268.5L84.4 268.1L92.4 269.4L109.4 272.7L122.4 276.1L133.4 279.8L143.4 284.1L152.4 288.9L160.4 294.2L168 300.5L174.9 307.5L181.3 315.5L187.2 324.5L192.4 333.9L197.2 344.5L201.3 355.5L208.8 382.5L84.4 382.5Z" fill="#a2ff00"/>
<path d="M84.4 80.5L354.4 80.5L354.4 121.3L345.4 115.9L335.4 111L303.7 99.5L280.4 92.5L258.4 88.2L238.4 86L214.4 84.8L84.4 84.2ZM84.4 269.5L84.4 269.1L93.4 270.6L110.4 274.1L122.4 277.3L133.4 281.1L143.4 285.4L152.4 290.3L160 295.5L167.2 301.5L174.1 308.5L180.4 316.4L186.4 325.4L191.4 334.5L195.9 344.5L200.1 355.5L203.5 366.5L207.7 382.5L84.4 382.5Z" fill="#adff00"/>
<path d="M84.4 80.5L354.4 80.5L354.4 119.9L345.4 114.5L335.4 109.7L303.8 98.5L280.4 91.6L258.4 87.3L238.4 85.1L214.4 84L84.4 83.4ZM84.4 270.5L84.4 270.1L93.4 271.6L110.4 275.2L122.4 278.5L133.4 282.3L142.9 286.5L151.4 291.2L159.3 296.5L166.4 302.5L173.3 309.5L179.4 317.1L185.4 326.1L190.6 335.5L195.1 345.5L199.3 356.5L206.6 382.5L84.4 382.5Z" fill="#b8ff00"/>
<path d="M84.4 80.5L354.4 80.5L354.4 118.4L345.4 113.1L335.4 108.4L302.4 97L279.4 90.4L257.4 86.3L237.4 84.2L213.4 83.1L84.4 82.6ZM84.4 271.5L84.4 271.1L93.4 272.7L109.4 276L121.4 279.3L132.4 283.2L142.2 287.5L150.4 292L158.4 297.4L165.4 303.2L172.4 310.4L178.4 317.8L184.3 326.5L189.4 335.8L193.9 345.5L198.1 356.5L205.5 382.5L84.4 382.5Z" fill="#c3ff00"/>
<path d="M84.4 80.5L354.4 80.5L354.4 116.9L345.4 111.8L335.4 107.2L301.4 95.6L278.4 89.2L256.4 85.3L237.4 83.4L215.4 82.3L84.4 81.8ZM84.4 272.5L84.4 272.1L92.4 273.5L108.4 276.9L120.4 280.2L131.4 284L140.4 288L149.4 292.8L157.4 298.2L164.4 304L171.4 311.1L177.4 318.5L183.4 327.4L188.4 336.4L193.1 346.5L196.9 356.5L200.4 367.5L204.4 382.5L84.4 382.5Z" fill="#cdff00"/>
<path d="M84.4 80.5L354.4 80.5L354.4 115.5L345.4 110.4L335.4 105.9L301.1 94.5L277.4 88.1L255.4 84.3L235.4 82.4L212.4 81.4L88.4 81L84.4 81ZM84.4 273.5L84.4 273.2L92.4 274.6L108.4 278L120.4 281.4L131.4 285.3L140.4 289.3L148.4 293.7L156.4 299L163.4 304.8L170.1 311.5L176.4 319.2L182 327.5L187.1 336.5L191.8 346.5L195.7 356.5L199.3 367.5L203.3 382.5L84.4 382.5Z" fill="#d8ff00"/>
<path d="M208.1 80.5L354.4 80.5L354.4 114L343.4 108.1L331.4 103.2L299.4 93L279.4 87.6L263.4 84.5L248.4 82.6L230.4 81.2ZM84.4 274.5L84.4 274.2L93.4 275.8L108.4 279.1L120.2 282.5L130.4 286.2L139.4 290.2L147.4 294.5L155.4 299.9L162.4 305.6L169.3 312.5L175.4 319.9L181.3 328.5L186.3 337.5L191 347.5L194.9 357.5L202.2 382.5L84.4 382.5Z" fill="#e3ff00"/>
<path d="M232.4 80.5L354.4 80.5L354.4 112.6L344.4 107.2L333.4 102.7L289.4 89.1L275.4 85.8L262.4 83.5L248.4 81.7ZM84.4 275.5L93.4 276.8L108.4 280.2L119.7 283.5L130.4 287.4L139.4 291.5L148.3 296.5L155.5 301.5L162.4 307.3L169.4 314.5L175.1 321.5L180.5 329.5L185.5 338.5L190.2 348.5L194.1 358.5L201.2 382.5L84.4 382.5Z" fill="#eeff00"/>
<path d="M244.5 80.5L354.4 80.5L354.4 111.1L345.4 106.3L335.4 102.2L295.4 89.8L270.4 83.9L258.4 82ZM84.4 276.5L93.4 277.9L108.4 281.4L119.4 284.6L129.4 288.3L138.4 292.3L146.4 296.8L154.4 302.2L161.4 308.1L167.8 314.5L173.5 321.5L179.4 330.1L184.4 338.9L189 348.5L192.9 358.5L200.1 382.5L84.4 382.5Z" fill="#f9ff00"/>
<path d="M253.2 80.5L354.4 80.5L354.4 109.7L345.4 104.9L336.4 101.3L299.4 89.9L275.4 84ZM84.4 277.5L94.4 279.2L108.4 282.5L119.4 285.8L129.3 289.5L138.4 293.7L146.4 298.2L153.4 303L160.4 308.9L167 315.5L172.8 322.5L178.3 330.5L183.4 339.5L187.7 348.5L191.7 358.5L195.4 369.5L199 382.5L84.4 382.5Z" fill="#fffb00"/>
<path d="M260.2 80.5L354.4 80.5L354.4 108.3L342.4 102.3L327.4 97.1L288.4 86L273.4 82.7ZM84.4 278.5L93.4 280L107.4 283.3L118.4 286.6L128.4 290.4L137.4 294.5L145.4 299L152.4 303.8L159.4 309.6L165.4 315.6L171.4 322.7L176.8 330.5L182.1 339.5L186.5 348.5L190.5 358.5L194.3 369.5L197.9 382.5L84.4 382.5Z" fill="#fff000"/>
<path d="M266 80.5L354.4 80.5L354.4 106.8L343.4 101.4L329.4 96.5L292.4 86.1ZM84.4 279.5L94.4 281.3L107.4 284.5L118.4 287.8L128.1 291.5L136.4 295.4L144.4 299.9L151.4 304.6L158.5 310.5L165.4 317.4L171.2 324.5L176.4 332.1L181.3 340.5L185.7 349.5L189.7 359.5L196.9 382.5L84.4 382.5Z" fill="#ffe500"/>
<path d="M271 80.5L354.4 80.5L354.4 105.4L344.4 100.5L331.4 96L295.4 85.9ZM84.4 280.5L94.4 282.3L107.1 285.5L117.4 288.7L127.4 292.5L136 296.5L143.4 300.7L150.5 305.5L157.7 311.5L163.8 317.5L169.7 324.5L175.3 332.5L180 340.5L184.4 349.5L188.5 359.5L192.3 370.5L195.8 382.5L84.4 382.5Z" fill="#ffda00"/>
<path d="M275.7 80.5L354.4 80.5L354.4 104L344.4 99.2L333.4 95.4L297.4 85.4ZM84.4 281.5L94.4 283.4L106.6 286.5L117.4 289.9L126.8 293.5L135.4 297.5L143.4 302.1L150.4 307L157 312.5L163 318.5L168.9 325.5L174.4 333.4L179.2 341.5L183.6 350.5L187.7 360.5L194.7 382.5L84.4 382.5Z" fill="#ffcf00"/>
<path d="M280.3 80.5L354.4 80.5L354.4 102.6L344.4 97.9L334.4 94.5L297.7 84.5ZM84.4 282.5L94.5 284.5L106.4 287.6L116.4 290.7L126.4 294.6L134.6 298.5L142.4 303L149.4 307.8L156.2 313.5L162.4 319.7L168.1 326.5L173.4 334.1L178.4 342.5L182.8 351.5L186.5 360.5L193.6 382.5L84.4 382.5Z" fill="#ffc400"/>
<path d="M284.7 80.5L354.4 80.5L354.4 101.2L345.4 97L335.4 93.6L300.4 84.2ZM84.4 283.5L106.4 288.7L116.4 291.9L125.6 295.5L134 299.5L141.4 303.8L148.4 308.6L155.4 314.4L161.5 320.5L167.3 327.5L172.4 334.7L177 342.5L181.4 351.2L185.4 360.6L192.5 382.5L84.4 382.5Z" fill="#ffba00"/>
<path d="M289 80.5L354.4 80.5L354.4 99.8L345.4 95.7L336.4 92.6ZM84.4 285.5L84.4 284.5L100.4 288.2L112.4 291.7L123.4 295.8L132.4 300L140.3 304.5L147.5 309.5L154.4 315.2L160.7 321.5L166.4 328.3L171.5 335.5L176.2 343.5L180.4 351.8L184.5 361.5L191.4 382.5L84.4 382.5Z" fill="#ffaf00"/>
<path d="M293.2 80.5L354.4 80.5L354.4 98.5L346.4 94.8L337.4 91.7ZM84.4 286.5L84.4 285.6L101.3 289.5L113.4 293.2L123.4 297.1L131.4 300.9L139.5 305.5L146.8 310.5L153.4 316L159.4 321.9L165 328.5L170 335.5L174.9 343.5L179.4 352.3L183.3 361.5L190.4 382.5L84.4 382.5Z" fill="#ffa400"/>
<path d="M297.4 80.5L354.4 80.5L354.4 97.1L346.4 93.5L337.4 90.5ZM84.4 287.5L84.4 286.6L100.4 290.4L112.4 294.1L122.4 297.9L130.4 301.7L138.4 306.2L145.4 311L152.4 316.8L158.4 322.7L164.2 329.5L169.4 336.7L174.1 344.5L178.4 352.9L182.4 362.2L189.3 382.5L84.4 382.5Z" fill="#ff9900"/>
<path d="M301.5 80.5L354.4 80.5L354.4 95.7L347.1 92.5L338.4 89.6ZM84.4 288.5L84.4 287.7L100.4 291.5L112.4 295.3L122.4 299.2L130.4 303L138.1 307.5L145.3 312.5L151.4 317.5L157.4 323.4L162.7 329.5L167.8 336.5L172.7 344.5L177.4 353.5L181.3 362.5L188.2 382.5L84.4 382.5Z" fill="#ff8e00"/>
<path d="M305.8 80.5L354.4 80.5L354.4 94.4L347.4 91.3L339.4 88.7ZM84.4 289.5L84.4 288.7L100.4 292.6L111.4 296.1L121.4 300L129.4 303.9L137.4 308.5L144.4 313.3L150.6 318.5L156.4 324.2L161.9 330.5L167 337.5L171.9 345.5L180.1 362.5L187.1 382.5L84.4 382.5Z" fill="#ff8400"/>
<path d="M310.1 80.5L354.4 80.5L354.4 93.1L347.4 90.1L339.4 87.5ZM84.4 290.5L84.4 289.8L100.4 293.8L111.4 297.3L121.4 301.3L129.4 305.2L136.7 309.5L143.4 314.1L149.9 319.5L156 325.5L161.1 331.5L166.2 338.5L170.6 345.5L174.8 353.5L178.9 362.5L186 382.5L84.4 382.5Z" fill="#ff7900"/>
<path d="M314.6 80.5L354.4 80.5L354.4 91.8L348.4 89.2L340.4 86.6ZM84.4 291.5L84.4 290.8L100.4 294.9L111.4 298.5L120.4 302.1L128.4 306L136 310.5L143.1 315.5L149.1 320.5L155.2 326.5L160.3 332.5L165.4 339.4L169.8 346.5L174 354.5L178.1 363.5L184.8 382.5L84.4 382.5Z" fill="#ff6e00"/>
<path d="M319.2 80.5L354.4 80.5L354.4 90.5L348.4 88L341.4 85.7ZM84.4 292.5L84.4 291.9L101.4 296.3L111.4 299.7L120.4 303.4L128.4 307.4L135.4 311.6L142.4 316.5L148.4 321.5L154.4 327.5L159.4 333.3L164.4 340.1L169 347.5L176.9 363.5L183.7 382.5L84.4 382.5Z" fill="#ff6300"/>
<path d="M324.2 80.5L354.4 80.5L354.4 89.2L342.4 84.9ZM84.4 293.5L84.4 293L101.4 297.5L111.4 300.9L119.9 304.5L127.4 308.2L134.6 312.5L141.4 317.3L147.4 322.3L153.4 328.2L158.4 334L167.6 347.5L175.7 363.5L182.6 382.5L84.4 382.5Z" fill="#ff5800"/>
<path d="M329.2 80.5L354.4 80.5L354.4 87.9L344.4 84.3ZM84.4 294.5L84.4 294L87.4 294.7L101 298.5L110.4 301.8L119.4 305.5L133.9 313.5L140.4 318.1L146.4 323.1L152 328.5L157.2 334.5L166.4 347.7L174.4 363.5L181.5 382.5L84.4 382.5Z" fill="#ff4e00"/>
<path d="M334.2 80.5L354.4 80.5L354.4 86.7L345.7 83.5ZM84.4 295.5L84.4 295.1L89.4 296.3L101.4 299.8L110.4 303L119.4 306.8L133.4 314.6L140.2 319.5L146.1 324.5L156.5 335.5L161.4 342.1L166.1 349.5L173.6 364.5L180.4 382.5L84.4 382.5Z" fill="#ff4300"/>
<path d="M338.9 80.5L354.4 80.5L354.4 85.5L347.4 82.9ZM84.4 296.5L89.6 297.5L101.4 301L118.4 307.7L132.5 315.5L139.4 320.4L145.4 325.5L155.7 336.5L164.7 349.5L172.4 364.5L179.2 382.5L84.4 382.5Z" fill="#ff3800"/>
<path d="M343.2 80.5L354.4 80.5L354.4 84.2ZM84.4 297.5L90.4 298.8L101.4 302.1L118.4 309L132.4 316.9L144.4 326.3L154.9 337.5L163.9 350.5L171.6 365.5L178.1 382.5L84.4 382.5Z" fill="#ff2d00"/>
<path d="M347.2 80.5L354.4 80.5L354.4 83ZM84.4 298.5L101.4 303.3L117.4 309.8L131.4 317.7L143.4 327L153.4 337.6L162.5 350.5L170.4 365.5L177 382.5L84.4 382.5Z" fill="#ff2200"/>
<path d="M350.7 80.5L354.4 80.5L354.4 81.8ZM84.4 299.5L101.4 304.5L117.4 311.1L130.4 318.5L142.4 327.8L152.6 338.5L161.4 351L169.1 365.5L175.8 382.5L84.4 382.5Z" fill="#ff1800"/>
<path d="M354 80.5L354.4 80.7ZM84.4 301.5L84.4 300.6L96.4 304L106.4 307.5L115.4 311.4L129.4 319.3L141.3 328.5L151.4 339L160.3 351.5L167.8 365.5L174.7 382.5L84.4 382.5Z" fill="#ff0d00"/>
<path d="M84.4 302.5L84.4 301.7L96.4 305.1L105.7 308.5L114.9 312.5L128.4 320.1L140.4 329.3L150.4 339.7L159.4 352.3L167.1 366.5L173.5 382.5L84.4 382.5Z" fill="#ff0200"/>
<path d="M84.4 303.5L84.4 302.8L97 306.5L114.4 313.6L127.4 320.9L139.4 330.1L149.4 340.5L158.1 352.5L165.8 366.5L172.4 382.5L84.4 382.5Z" fill="#ff0009"/>
<path d="M84.4 304.5L84.4 303.9L96.4 307.5L113.6 314.5L126.4 321.7L138.4 330.9L148.4 341.2L157.4 353.5L165 367.5L171.2 382.5L84.4 382.5Z" fill="#ff0013"/>
<path d="M84.4 305.5L84.4 305L97.4 309L113.4 315.7L126.4 323.2L137.4 331.6L147.4 341.9L155.9 353.5L163.4 366.8L170 382.5L84.4 382.5Z" fill="#ff001e"/>
<path d="M84.4 306.5L84.4 306.1L98.2 310.5L113.4 317L126.2 324.5L137.4 333.3L147.1 343.5L155.2 354.5L162.4 367.5L168.9 382.5L84.4 382.5Z" fill="#ff0029"/>
<path d="M84.4 307.5L88.4 308.4L98.4 311.8L113.4 318.3L125.5 325.5L136.4 334.1L146.4 344.5L154.4 355.5L161.4 368L167.7 382.5L84.4 382.5Z" fill="#ff0029"/>
</g>
<path d="M242.4 193.4L238.4 194.7L238 195.5L237.5 198.5L239 209.5L244.3 219.5L247.4 223.5L254.7 231.5L259.2 237.5L263 244.5L267.2 254.5L269.4 258.9L274.4 266.6L282.4 275.7L287.4 278.1L294.4 281.9L297.4 282.3L298.4 280.5L299 278.5L300.5 270.5L301.1 258.5L300.9 250.5L300.1 246.5L297.8 238.5L296.5 234.5L294.4 230.1L291.4 226L282.2 216.5L270.6 202.5L268.6 200.5L263.5 196.5L260.4 195L254.4 193L247.4 192.9ZM234.4 174.5L225.4 175.8L221.4 176.9L219.8 177.5L211.3 182.5L208.1 188.5L208.1 189.5L210.4 197.5L212.9 202.5L218.6 208.5L224.2 215.5L235.4 228.3L246.4 243.1L265.1 272.5L275.4 289.5L281.5 298.5L286.4 306.8L300.4 324.9L303.4 326.9L304.4 327.1L305.5 325.5L310.4 315.5L311.1 312.5L314.1 294.5L315.1 284.5L315.2 278.5L315.3 271.5L314.6 262.5L312.5 247.5L311.3 241.5L310.1 237.5L308 231.5L305.4 225.5L300.5 215.5L295.2 206.5L289.4 199.4L283.4 194.2L267.4 183.5L262.4 180.7L257.4 178.2L250.4 176L243.4 174.5L240.4 174.1ZM312 382.5L312.4 381.8L313.4 377.5L315.9 364.5L323.4 321.6L325.5 303.5L325.7 293.5L325.2 281.5L324.1 266.5L321.6 246.5L319.4 237.3L316.8 229.5L313.9 222.5L309.7 214.5L305 207.5L298.5 199.5L289.4 189.2L283.4 183.4L274.1 176.5L266.4 171.7L261.4 169L253.4 165.8L243.4 163.5L235.4 163L227.4 163.3L216.9 165.5L200.4 170.7L189.7 173.5L184.5 175.5L183.4 176.5L183.2 177.5L181.9 187.5L186.8 196.5L188.4 198.5L196.4 204.7L206.5 213.5L217.5 222.5L222.9 227.5L227.4 232.3L232.4 238.5L243.2 253.5L261.1 281.5L268.7 295.5L277.4 314.6L282.3 324.5L285.4 332L288.4 340.4L291.6 347.5L297.2 361.5L301.4 373.3L306.5 382.5M327 382.5L330.4 353.6L331.4 341.6L332.7 311.5L332.5 290.5L331.6 270.5L330.2 254.5L328.4 243.4L326.7 235.5L324.4 227.5L321.1 219.5L317.1 211.5L313.6 206.5L306.2 197.5L297.3 187.5L288.8 178.5L283 173.5L276.4 168.8L268.4 164.2L261.4 160.8L255.4 158.4L249.4 156.5L243.4 155.5L237.4 155L227.4 154.9L215.4 155.7L210.4 156.8L193.4 161.8L182.4 163.7L170.4 164.7L142.4 166.4L124.4 168L112.7 169.5L113.5 170.5L125.4 174.9L133.4 178.8L138.4 182L143.5 186.5L150.4 190.3L157.7 195.5L176.6 204.5L198.4 217.9L207.8 224.5L214.9 230.5L223.4 238.8L232.5 249.5L237.2 255.5L241.2 261.5L253.4 282.2L262.1 298.5L267.4 309.9L274.4 328.5L280 346.5L284.9 365.5L288.4 382.5M84.4 190.2L92.4 191.2L129.4 197.5L144.4 201.1L156.4 205L163.4 207.9L176.4 214L191.4 222.2L204.4 230.6L209.5 234.5L214.4 238.9L226.5 251.5L231.3 257.5L235.6 263.5L240 270.5L245.1 279.5L253.5 295.5L257.4 303.5L265.2 322.5L270.8 339.5L275.7 358.5L280.2 382.5M336.1 382.5L338.2 332.5L338.7 297.5L338.1 277.5L337.2 261.5L334.6 241.5L332.3 231.5L329.1 221.5L326.4 214.5L322.4 206.8L317.5 199.5L313.4 194.2L296.5 176.5L283.4 165.7L277.1 161.5L268.4 156.6L262.4 153.9L256.4 151.7L250.4 150L244.4 149L231.4 148.3L215.4 149L199.4 150.3L181.4 153.4L167.4 154.1L148.4 154L104.4 152.2L84.4 152M84.4 199.5L104.4 201.6L124.4 204.9L138.4 208.2L150.4 211.5L158.4 214.2L174.4 220.9L185.4 226.2L193.3 230.5L202.4 236.6L208.4 241.6L213.7 246.5L218.7 251.5L223.9 257.5L232.4 269.2L242.6 286.5L251.4 304.5L255.7 314.5L259.2 323.5L265.7 344.5L270.2 362.5L273.7 382.5M342 382.5L344 330.5L344.5 296.5L343.9 269.5L343 259.5L341.4 246.5L339.4 235.5L337 225.5L334.9 218.5L331.7 210.5L328 203.5L323.7 196.5L318.6 189.5L312.1 181.5L294.1 166.5L286.4 160.8L280.4 156.8L271.4 151.7L263.4 148L256.4 145.3L249.4 143.6L239.4 142.4L229.4 142.3L187.4 145L166.4 145.3L140.4 144.3L98.4 141.5L84.4 141.2M84.4 207.4L108.4 210.1L127.4 213.2L142.4 216.7L161.4 222.4L175.4 227.8L188.7 234.5L199.4 241.5L209.4 250L213.9 254.5L218.2 259.5L227.4 271.9L233 280.5L237.1 287.5L241.3 295.5L245.5 304.5L252.4 321.5L256.4 332.8L259.4 342.6L264.1 361.5L267.8 382.5M347.8 382.5L349.7 326.5L350.2 291.5L349.8 279.5L348.5 262.5L346.9 247.5L345.2 236.5L342.7 224.5L340.4 216.5L337.5 208.5L333.6 200.5L329.4 193.5L325 187.5L320.5 182.5L311.4 173.3L303.4 166.5L295.7 160.5L285.6 153.5L278.4 149.2L269.4 144.7L261.6 141.5L254.4 139.2L247.4 137.6L240.4 136.8L231.4 136.6L221.4 137L191.4 139L169.4 139.2L140.4 137.9L96.4 134.6L84.4 134.4M84.4 214.2L107.4 216.9L127.4 219.8L143.4 223.2L157.4 227.1L171.4 232.3L186.4 239.4L195.9 245.5L204.4 252.6L209.4 257.6L214.4 263.4L226 279.5L233.9 292.5L240.9 306.5L247.3 322.5L253.5 341.5L259.1 363.5L262.5 382.5M354.4 281.8L352.2 251.5L350.8 239.5L349 228.5L346.9 219.5L344.7 211.5L342.2 204.5L339.2 197.5L335 190.5L330.4 184.5L324.6 178.5L313 167.5L306.4 161.8L299.3 156.5L292 151.5L284 146.5L273.4 141.1L260.4 135.9L250.4 133.3L238.4 131.6L227.4 131.1L190.4 133.4L170.4 133.6L144.4 132.5L96.4 128.7L84.4 128.5M353.3 382.5L354.4 348M84.4 219.9L106.4 222.2L124.4 224.8L139.4 227.8L153.4 231.6L169.4 237.2L182.4 243.2L191.4 248.6L200.4 256L205.4 261L210.3 266.5L215.8 273.5L220.1 279.5L228.7 293.5L236.7 309.5L243.2 325.5L248.9 343.5L253.8 362.5L257.4 382.5M354.4 230.3L351.2 214.5L349.4 207.9L347.2 201.5L344.4 194.9L341.7 189.5L339.1 185.5L335.9 181.5L330.1 175.5L322.4 168.5L310.4 158.3L302.8 152.5L295.1 147.5L285.4 141.9L277.4 137.8L270.4 134.7L261.4 131.5L252.4 129.1L244.4 127.9L234.4 127L217.4 126.5L185.4 128L165.4 128L137.4 126.6L95.4 123.1L84.4 123M354.4 207.2L350.2 194.5L346 185.5L343.4 181.3L340.4 177.4L336.9 173.5L332.7 169.5L324.4 162.5L311.5 152.5L297.9 143.5L289 138.5L281.1 134.5L273.4 131.2L266.4 128.6L258.4 126.2L250.4 124.5L242.4 123.5L233.4 122.8L215.4 122.3L183.4 123L163.4 122.8L136.4 121.6L95.4 118.8L84.4 118.6M84.4 225.1L106.4 227.5L123.4 230L139.4 233.3L154.4 237.4L168.4 242.5L180.4 248L188.4 252.9L197.6 260.5L202.4 265.3L207.9 271.5L216.3 282.5L224.2 295.5L232.2 311.5L239.1 328.5L244.4 345L249.6 365.5L252.7 382.5M354.4 190.8L350 181.5L347.4 177.3L343.8 172.5L336.4 164.6L327.5 157.5L308.6 144.5L293.1 135.5L278.4 128.6L270.4 125.5L263.4 123.3L255.4 121.3L248.4 120.1L231.4 118.6L214.4 118.2L183.4 118.5L160.4 118.2L135.4 117.1L95.4 114.6L84.4 114.5M84.4 230.2L108.4 233L124.4 235.4L139.4 238.6L153.4 242.5L167.4 247.6L178.4 252.8L187.2 258.5L195.4 265.5L204.8 275.5L213.1 286.5L220.4 298.5L227.9 313.5L234 328.5L239.6 345.5L244.8 365.5L248 382.5M354.4 178.8L349.1 170.5L342.2 162.5L334.4 155.6L325.6 149.5L306.1 137.5L290.4 129.3L277 123.5L268.4 120.5L261.4 118.5L254.4 117L246.4 115.8L230.4 114.5L214.4 114.2L180.4 114.3L162.4 114.1L139.4 113.2L97.4 111L84.4 110.8M84.4 235.1L106.4 237.6L122.4 240.1L137.4 243.2L152.4 247.4L164.4 251.8L175.4 257.1L184.4 263L192.4 269.7L201.4 279.1L209.2 289.5L216.6 301.5L223.6 315.5L229.7 330.5L235.4 347.5L240.1 365.5L243.4 382.5M354.4 169.2L348.4 161.5L341.1 154.5L332.4 147.8L320.7 140.5L302.4 130.4L287.4 123.3L273.4 117.9L259.4 114L252.4 112.7L244.4 111.6L228.4 110.5L161.4 110L100.4 107.5L84.4 107.3M84.4 239.8L106.4 242.4L121.4 244.7L136.4 247.9L149.4 251.5L161.4 256L172.4 261.4L181.4 267.2L189 273.5L197.6 282.5L205.3 292.5L212.8 304.5L219.4 317.5L225.2 331.5L230.5 347.5L235.4 365.5L238.9 382.5M354.4 160.8L347.4 153.4L338.4 146L329.4 140L314.2 131.5L299.4 124.1L284.4 117.7L271.4 113.2L258.4 109.8L244.4 107.7L227.4 106.5L163.4 106L103.4 104L84.4 103.7M84.4 244.1L105.4 246.7L120.4 249.1L134.4 252.2L146.4 255.7L158.4 260.1L168.4 265L177.4 270.6L185.9 277.5L194.4 286.5L202.4 297L209.4 308.2L215.4 319.9L221.1 333.5L226.1 348.5L230.7 365.5L234.3 382.5M354.4 153.4L346.4 145.9L336.4 138.6L326.4 132.7L310.1 124.5L297.4 118.6L282.4 112.8L270.4 109L257.4 106L242.4 103.7L225.4 102.6L164.4 102.2L107.4 100.5L84.4 100.3M84.4 248.4L105.4 251.2L119.4 253.6L133.4 256.8L145.4 260.4L156.4 264.6L166.4 269.6L175.4 275.5L182.7 281.5L190.4 289.5L198.2 299.5L205.2 310.5L211.5 322.5L216.9 335.5L221.7 349.5L226.1 365.5L229.8 382.5M354.4 146.3L346.3 139.5L335.8 132.5L324.6 126.5L309.6 119.5L295.4 113.4L282.4 108.7L270.4 105.2L257.4 102.4L239.4 99.9L221.4 98.8L164.4 98.4L111.4 97.2L84.4 97M84.4 252.6L103.4 255.3L117.4 257.7L130.4 260.7L142.4 264.4L153.4 268.7L163 273.5L171.4 278.9L179.6 285.5L187.4 293.6L194.5 302.5L201.4 313.4L207.4 324.8L212.8 337.5L217.3 350.5L221.5 365.5L225.4 382.5M354.4 139.7L346.4 133.5L335.4 126.8L324.8 121.5L308.7 114.5L293.4 108.4L281.5 104.5L269.4 101.2L256.4 98.6L238.4 96.3L220.4 95.3L84.4 93.8M84.4 256.8L102.7 259.5L116.4 262.1L129.4 265.2L140.4 268.7L151.4 273.1L160.4 277.7L168.4 282.9L176.4 289.5L184.3 297.5L191.4 306.5L197.7 316.5L203.4 327.3L208.4 338.8L212.9 351.5L216.9 365.5L220.9 382.5M354.4 133.3L346.1 127.5L335.5 121.5L326.4 117.2L309.4 110.3L293.9 104.5L282.4 100.8L270.4 97.7L256.4 95L238.4 92.9L218.4 91.7L116.4 90.6L84.4 90.5M84.4 261L102.4 263.8L115.4 266.3L127.4 269.4L138.4 272.9L148.4 277.1L157.4 281.8L166.1 287.5L173.4 293.5L180.4 300.6L187.5 309.5L193.4 318.5L199.3 329.5L204.4 341.1L208.8 353.5L212.6 366.5L216.5 382.5M354.4 127.2L345.4 121.4L335.4 116.2L326.4 112.3L306.4 104.7L292.4 99.9L280.8 96.5L268.4 93.6L255.4 91.3L236.4 89.3L213.4 88.2L120.4 87.4L84.4 87.4M84.4 265.1L100.4 267.7L113.4 270.3L125.4 273.5L136.4 277.2L146.4 281.5L155.4 286.4L163.4 291.8L170.4 297.6L177.4 304.7L183.7 312.5L189.6 321.5L195.4 332.1L200 342.5L204.4 354.5L208 366.5L212.1 382.5M354.4 121.3L344.7 115.5L334.4 110.6L324.4 106.7L302.4 99.1L291.1 95.5L280.2 92.5L267.4 89.7L255.4 87.8L235.4 85.8L212.4 84.8L124.4 84.2L84.4 84.2M84.4 269.1L98.4 271.5L111.4 274.3L123.1 277.5L133.4 281.1L143.4 285.4L152.4 290.3L160 295.5L167.2 301.5L174.1 308.5L180.4 316.4L186.4 325.4L191.4 334.5L195.9 344.5L200.1 355.5L203.5 366.5L207.7 382.5M354.4 115.5L345.4 110.4L335.4 105.9L326.4 102.7L301.1 94.5L288.4 90.8L277.4 88.1L266.4 85.9L255.4 84.3L235.4 82.4L212.4 81.4L131.4 80.9L84.4 81M84.4 273.2L98.4 275.7L110.4 278.5L121.4 281.7L131.9 285.5L141.4 289.8L149.4 294.3L157 299.5L164.2 305.5L171 312.5L177.3 320.5L182.7 328.5L187.7 337.5L192.3 347.5L196.1 357.5L199.6 368.5L203.3 382.5M354.4 109.7L345.4 104.9L336.4 101.3L299.4 89.9L287.4 86.7L275.4 84L264.4 82L253.2 80.5M84.4 277.3L97.4 279.8L109.4 282.7L119.4 285.8L129.4 289.5L138.4 293.7L146.4 298.2L153.4 303L160.4 308.9L167 315.5L172.8 322.5L178.3 330.5L183.4 339.5L187.7 348.5L191.7 358.5L195.4 369.5L199 382.5M354.4 104L344.4 99.2L333.4 95.4L297.4 85.4L275.7 80.5M84.4 281.4L96.4 283.9L107.4 286.7L117.4 289.9L127.4 293.7L135.4 297.5L143.4 302.1L150.4 307L157 312.5L163 318.5L168.9 325.5L174.4 333.4L179.2 341.5L183.6 350.5L187.7 360.5L191.4 371.2L194.7 382.5M354.4 98.5L346.4 94.8L337.4 91.7L293.2 80.5M84.4 285.6L95.4 288L106.4 291L116.4 294.3L125.4 298L133.4 301.9L141.1 306.5L148.1 311.5L154 316.5L159.9 322.5L165.4 329L170.7 336.5L175.4 344.4L179.5 352.5L183.4 361.7L187 371.5L190.4 382.5M354.4 93.1L347.4 90.1L339.4 87.5L310.1 80.5M84.4 289.8L94.4 292.1L104.4 295L113.4 298L122.4 301.8L130.4 305.8L137.4 309.9L144.4 314.9L150.4 320L156 325.5L161.4 331.9L166.4 338.8L171.2 346.5L175.4 354.6L179.3 363.5L182.7 372.5L186 382.5M354.4 87.9L344.4 84.3L329.2 80.5M84.4 294L94.4 296.6L103.4 299.3L112.4 302.5L120.4 306L127.4 309.6L134.4 313.8L140.9 318.5L146.9 323.5L152.4 328.9L157.4 334.7L162.4 341.5L166.8 348.5L171.2 356.5L174.9 364.5L178.4 373.4L181.5 382.5M354.4 83L347.2 80.5M84.4 298.4L93.4 300.8L102.4 303.7L110.4 306.7L118.4 310.3L125.4 314L131.4 317.7L137.4 322L143.4 327L148.4 331.9L153.4 337.6L157.9 343.5L162.5 350.5L166.5 357.5L170.4 365.5L173.7 373.5L177 382.5M84.4 302.8L93.4 305.3L101.4 308.1L109.4 311.3L116.3 314.5L122.4 317.8L128.4 321.6L134.4 325.9L139.8 330.5L145 335.5L149.4 340.5L154.1 346.5L158.4 352.9L162.2 359.5L165.8 366.5L169.3 374.5L172.4 382.5M84.4 307.2L100.3 312.5L113.7 318.5L119.4 321.6L125.5 325.5L131 329.5L136.4 334.1L141.4 338.9L146.4 344.5L150.4 349.7L154.4 355.5L161.4 368L167.7 382.5M84.4 311.7L98.4 316.6L111.4 322.6L122.7 329.5L128.1 333.5L132.8 337.5L141.6 346.5L145.7 351.5L150 357.5L157 369.5L162.9 382.5M84.4 316.3L97.4 321.2L109.4 327L119.9 333.5L129.4 341.1L137.7 349.5L145.4 359.3L152.2 370.5L158 382.5M84.4 321L96.4 325.7L107.4 331.3L117.1 337.5L125.9 344.5L133.8 352.5L141 361.5L147.4 371.5L153.1 382.5M84.4 325.8L95.4 330.4L105.1 335.5L114.3 341.5L122.4 348L129.9 355.5L136.5 363.5L142.5 372.5L148 382.5" fill="none" stroke="#828282" stroke-width="1.55"/>
<path d="M121.8 84.5V377.9M186.9 84.5V377.9M252.1 84.5V377.9M317.2 84.5V377.9M88.4 345.0H349.5M88.4 312.4H349.5M88.4 279.7H349.5M88.4 247.0H349.5M88.4 214.4H349.5M88.4 181.7H349.5M88.4 149.1H349.5M88.4 116.4H349.5" fill="none" stroke="#000" stroke-width="0.9" stroke-dasharray="0.9 1.2" stroke-opacity="0.6"/>
</g>
<rect x="88.4" y="84.5" width="261.1" height="293.4" fill="none" stroke="#000" stroke-width="1.3"/>
<path d="M121.8 84.5V80.9M121.8 377.9V381.5M186.9 84.5V80.9M186.9 377.9V381.5M252.1 84.5V80.9M252.1 377.9V381.5M317.2 84.5V80.9M317.2 377.9V381.5M88.4 377.7H84.8M349.5 377.7H353.1M88.4 345.0H84.8M349.5 345.0H353.1M88.4 312.4H84.8M349.5 312.4H353.1M88.4 279.7H84.8M349.5 279.7H353.1M88.4 247.0H84.8M349.5 247.0H353.1M88.4 214.4H84.8M349.5 214.4H353.1M88.4 181.7H84.8M349.5 181.7H353.1M88.4 149.1H84.8M349.5 149.1H353.1M88.4 116.4H84.8M349.5 116.4H353.1" stroke="#000" stroke-width="1.2"/>
<text x="80.4" y="383.1" font-size="15" text-anchor="end">4.00</text>
<text x="80.4" y="350.4" font-size="15" text-anchor="end">4.25</text>
<text x="80.4" y="317.8" font-size="15" text-anchor="end">4.50</text>
<text x="80.4" y="285.1" font-size="15" text-anchor="end">4.75</text>
<text x="80.4" y="252.4" font-size="15" text-anchor="end">5.00</text>
<text x="80.4" y="219.8" font-size="15" text-anchor="end">5.25</text>
<text x="80.4" y="187.1" font-size="15" text-anchor="end">5.50</text>
<text x="80.4" y="154.5" font-size="15" text-anchor="end">5.75</text>
<text x="80.4" y="121.8" font-size="15" text-anchor="end">6.00</text>
<rect x="94.4" y="94.7" width="149.1" height="23" rx="4" ry="4" fill="#d3d3d3" fill-opacity="0.85" stroke="#000" stroke-width="1.3"/>
<text x="99.6" y="110.2" font-size="15" font-weight="bold">Template fit vs 7.7<tspan font-style="italic">μ</tspan>m</text>
<path d="M281.30 230.40L282.69 234.68L287.20 234.68L283.55 237.33L284.94 241.62L281.30 238.97L277.66 241.62L279.05 237.33L275.40 234.68L279.91 234.68Z" fill="#fff" stroke="#000" stroke-width="1.45" stroke-linejoin="miter"/>
<path d="M267.90 257.80L261.60 270.40L274.20 270.40Z" fill="#fff" stroke="#000" stroke-width="1.45" stroke-linejoin="miter"/>
<path d="M246.90 205.65L252.44 208.85L252.44 215.25L246.90 218.45L241.36 215.25L241.36 208.85Z" fill="#fff" stroke="#000" stroke-width="1.45" stroke-linejoin="miter"/>
<path d="M296.90 248.60L309.30 248.60L309.30 261.00L296.90 261.00Z" fill="#fff" stroke="#000" stroke-width="1.45" stroke-linejoin="miter"/>
<circle cx="274.4" cy="231.1" r="8.0" fill="#fff" stroke="#000" stroke-width="1.5"/>
<g clip-path="url(#c1)">
<g>
<path d="M394.3 80.5H664.3V382.5H394.3Z" fill="#9c00ff"/>
<path d="M394.3 80.5L664.3 80.5L664.3 382.5L394.3 382.5ZM521.3 279.7L520.3 280.6L519.5 282.5L519.5 286.5L523.3 294.1L527.3 299.5L538.3 308.5L548.3 309.1L550.3 308L550.7 306.5L549.3 300.5L546.1 294.5L541.3 290.5L534.8 286.5L525.3 281.2L522.3 279.8Z" fill="#9100ff"/>
<path d="M394.3 80.5L664.3 80.5L664.3 382.5L394.3 382.5ZM518.3 268.9L515.1 273.5L514.5 280.5L516.1 286.5L524.3 302.3L531.3 312.4L540.3 321L547.3 329.2L550.3 330L551.3 329.7L554.3 327.7L554.9 326.5L556.6 321.5L558 314.5L555.8 298.5L553.7 292.5L551.3 287.1L549.3 284.2L547.3 282.5L522.3 269.1L520.3 268.6Z" fill="#8600ff"/>
<path d="M394.3 80.5L664.3 80.5L664.3 382.5L394.3 382.5ZM515.3 257.5L513.5 258.5L509.7 264.5L509.5 265.5L509.4 276.5L511.3 283.5L512.7 286.5L526.3 312.2L533.3 322.5L542.3 331.6L551.3 342.9L555.3 342.8L558.3 338.4L559.9 334.5L562.3 327.6L563.1 321.5L562 311.5L560 299.5L557.3 290.5L553.3 280.5L549.3 273L547.3 270.6L540.3 267.6L528.3 260.5L519.3 257.2Z" fill="#7b00ff"/>
<path d="M394.3 80.5L664.3 80.5L664.3 382.5L394.3 382.5ZM511.3 250.3L508.5 251.5L503.1 256.5L502.6 257.5L504.1 273.5L507.2 282.5L515.3 296.8L527.3 319.9L535.3 331.5L543.2 340.5L551.3 351.9L554.3 355.3L556.3 355.8L564.3 343.4L565.3 338.5L566.5 325.5L565.4 313.5L563.7 301.5L560.5 290.5L555.9 278.5L549.7 265.5L547.3 262.4L545.3 260.7L535.3 256.1L521.3 251.1L518.3 250.4Z" fill="#7000ff"/>
<path d="M394.3 80.5L664.3 80.5L664.3 382.5L394.3 382.5ZM509.3 244.4L498.3 249L496.3 250.5L496 256.5L498 269.5L502.5 280.5L512 296.5L524 319.5L528.3 326.8L537.3 340.7L543.3 348.5L551.3 360.7L556.3 367L557.3 367.5L562.3 361.4L565.9 355.5L568.1 345.5L569.7 332.5L569.2 319.5L567.3 303.5L564.7 293.5L561.3 283.4L557.8 275.5L553.1 266.5L546.3 257.9L543.3 255.3L532.3 249.6L522.3 245.5L517.3 244.4Z" fill="#6500ff"/>
<path d="M394.3 80.5L664.3 80.5L664.3 382.5L394.3 382.5ZM506.3 238.4L490.8 245.5L489.4 247.5L489.6 256.5L491.8 266.5L498 279.5L509.3 297.2L529.3 333.6L538.3 348.4L544.5 357.5L552.3 370.8L556.3 375.8L558.3 377.1L559.3 376.7L563.5 372.5L566.3 369.1L567.3 366.9L571.5 348.5L572.8 338.5L572.6 324.5L570.8 305.5L568.6 296.5L565.6 287.5L561.3 277L557.1 268.5L552.3 261.8L544.3 252.4L538.3 248.2L523.3 241.8L516.3 239.5Z" fill="#5a00ff"/>
<path d="M394.3 80.5L664.3 80.5L664.3 382.5L564.3 382.5L567.3 379.5L570.9 368.5L574.5 352.5L575.6 344.5L575.8 339.5L575.3 319.5L573.8 307.5L570.5 294.5L565.3 280.1L562 272.5L558.5 266.5L548.3 253.3L543.3 247.9L535.3 242.4L524.3 238.1L515.3 235.4L504.3 234.2L497.3 235.5L486.3 240.8L484.5 242.5L483 247.5L483.7 255.5L485.7 263.5L489.8 270.5L493.6 278.5L506.9 298.5L539.3 355.9L551.3 376.4L555.5 382.5L394.3 382.5Z" fill="#5000ff"/>
<path d="M394.3 80.5L664.3 80.5L664.3 382.5L570.6 382.5L574.3 370.4L577.5 355.5L578.2 348.5L578.4 328.5L576.8 312.5L574.9 302.5L571.6 290.5L566.1 275.5L561.8 267.5L557.6 261.5L547.3 248.5L542.3 243.4L532.3 237.1L527.3 235L514.3 231.5L502.3 230.5L489 232.5L484.3 234.8L479.3 238.1L476.5 245.5L477.8 255.5L479.9 261.5L484.5 268.5L488.8 276.5L503.8 298.5L521.9 329.5L534.3 351.5L540.3 363.9L550.9 382.5L394.3 382.5Z" fill="#4500ff"/>
<path d="M394.3 80.5L664.3 80.5L664.3 382.5L574.6 382.5L577.3 372.9L580.3 357.5L581 342.5L580.6 331.5L579.3 315.5L577.5 304.5L574.3 291.3L569.3 276.9L564.4 267.5L557.3 257.4L546.3 243.8L540.3 238.3L532.3 233.8L525.3 230.5L513.3 227.9L500.3 227.1L482.3 229.6L479.7 230.5L473.2 234.5L472.5 235.5L469.8 244.5L472.5 254.5L474.4 259.5L480.2 267.5L490.1 283.5L501.3 299.5L520.3 330.7L533.7 355.5L541.3 372.1L547.2 382.5L394.3 382.5Z" fill="#3a00ff"/>
<path d="M394.3 80.5L664.3 80.5L664.3 382.5L578.2 382.5L581.3 369.6L582.6 361.5L582.9 343.5L581.7 320.5L580.3 308.6L576.9 292.5L573.3 280.5L568.3 269.9L561.6 259.5L552.3 247.2L544.6 238.5L539.3 234.2L529.3 229.3L519.3 225.5L512.3 224.4L497.3 223.8L473.3 227.9L471.3 228.5L466.3 231.3L465.5 232.5L464.1 237.5L463.8 244.5L468.6 257.5L475.8 266.5L481.5 275.5L492.1 290.5L519.7 333.5L533.5 360.5L541.3 378.3L543.6 382.5L394.3 382.5Z" fill="#2f00ff"/>
<path d="M394.3 80.5L664.3 80.5L664.3 382.5L581.6 382.5L584.1 369.5L584.6 361.5L584.4 336.5L583.2 317.5L581.3 303.7L578.3 289.5L575.8 281.5L571.1 270.5L563.3 258L553.1 244.5L545 235.5L538.3 230.5L527.1 225.5L516.3 222L511.3 221.2L495.3 220.5L479.3 223.1L463.3 226.3L458.1 228.5L457.3 231.5L457.6 243.5L462.5 255.5L471.9 266.5L477.3 274.5L489.3 290.4L504.6 314.5L517.3 333.3L527.8 353.5L534.8 368.5L540.7 382.5L394.3 382.5Z" fill="#2400ff"/>
<path d="M394.3 80.5L664.3 80.5L664.3 382.5L584.4 382.5L585.9 372.5L586.4 354.5L586.1 332.5L584.8 314.5L582.2 298.5L579.8 287.5L576.1 276.5L572 267.5L563.6 254.5L554.3 242.2L547.3 234.4L539.8 228.5L536.3 226.5L528.3 223.4L511.3 218.4L493.3 217.8L478.3 219.7L453.3 224.5L450.1 225.5L449.6 228.5L451.1 243.5L456.6 254.5L467 265.5L485.9 289.5L491.4 297.5L501.1 313.5L514.3 332.2L523.8 349.5L538.3 382.5L394.3 382.5Z" fill="#1900ff"/>
<path d="M394.3 80.5L664.3 80.5L664.3 382.5L586.9 382.5L587.7 370.5L588.1 346.5L587.8 331.5L586.7 315.5L584.3 299.5L582.2 289.5L576.6 272.5L572.7 264.5L564.3 251.4L555.2 239.5L547.3 231.3L541.3 226.8L533.3 222.7L515.3 217.1L506.3 215.4L491.3 215.1L476.3 217L444.3 222.4L441.3 223.3L440.9 223.5L441.5 228.5L444.3 242.5L450.7 253.5L462.3 264.8L484.1 290.5L490.9 300.5L498.3 313.3L511 330.5L516.5 339.5L522.3 350.5L536 382.5L394.3 382.5Z" fill="#0900ff"/>
<path d="M394.3 80.5L664.3 80.5L664.3 382.5L588.7 382.5L589.5 363.5L589.7 340.5L589.1 322.5L588 311.5L585.3 294.5L582.5 284.5L578.3 271.8L572.3 259.5L564.3 247.4L555.9 236.5L547.3 228.5L539.3 223.1L534.3 220.5L529.3 218.7L511.3 214L501.3 212.7L488.3 212.5L439.3 219.4L433.3 221L432 221.5L431.3 222.5L437.2 242.5L443.5 251.5L458.3 264.9L471.2 278.5L480.3 288.9L487.3 298.4L498.3 315.9L510.9 333.5L516.3 342.6L521.4 352.5L533.7 382.5L394.3 382.5Z" fill="#0400ff"/>
<path d="M394.3 80.5L664.3 80.5L664.3 382.5L590.4 382.5L591.3 358.5L591.4 337.5L590.5 319.5L588.8 305.5L586.5 292.5L581.6 275.5L577.6 265.5L572.3 255.2L563.3 241.9L556.3 233.6L546.8 225.5L539.3 220.6L532.3 217.2L516.3 212.8L509.3 211.4L498.3 210.2L488.3 209.9L484.3 210.1L452.3 214.5L433.3 216.5L422.3 219.3L420.6 220.5L420.1 221.5L426.7 235.5L429.1 241.5L436.5 250.5L450.6 261.5L457.3 267.5L475.7 286.5L485.1 298.5L508.8 333.5L515.5 344.5L523.2 360.5L531.5 382.5L394.3 382.5Z" fill="#0007ff"/>
<path d="M394.3 80.5L664.3 80.5L664.3 382.5L592.1 382.5L592.9 359.5L592.8 335.5L592.2 320.5L589.8 301.5L587.2 289.5L583 274.5L578.6 263.5L572.3 250.9L565.3 240.5L560.3 234.5L549.3 224.8L540 218.5L531.3 214.4L517.3 210.8L507.3 209L488.3 207.4L482.3 207.5L452.3 211.6L426.3 214.1L411.3 216.8L409.6 217.5L407.2 219.5L406.8 220.5L415.5 232.5L420.8 241.5L429.1 249.5L443.3 259.1L452.3 266.3L470.2 283.5L480.6 295.5L507.3 334.3L514.2 345.5L522.3 362.1L529.8 382.5L394.3 382.5Z" fill="#0012ff"/>
<path d="M394.3 80.5L664.3 80.5L664.3 382.5L593.7 382.5L594.4 346.5L593.8 321.5L591.2 300.5L585 275.5L581.3 265.5L576.9 255.5L572.3 246.6L567.5 239.5L563.3 234.6L556.3 227.9L549.8 222.5L544 218.5L538.5 215.5L530.3 211.9L520.3 209.2L507.3 206.8L484.3 205L478.3 205.2L446.3 209.3L421.3 211.3L398.4 214.5L394.3 215.4ZM394.3 222.5L404.3 232.3L412.1 241.5L421 248.5L435.3 256.7L446.3 264.5L461.3 277.5L475.7 292.5L483.6 302.5L494.3 317.5L511.7 344.5L520.4 361.5L528.1 382.5L394.3 382.5Z" fill="#001dff"/>
<path d="M394.3 80.5L664.3 80.5L664.3 382.5L595.1 382.5L595.9 347.5L595.4 323.5L592.9 301.5L586.9 276.5L583.8 267.5L579.3 256.6L574.3 246.1L570.5 239.5L565.2 233.5L558.9 227.5L552.3 222.1L545.3 217.2L540.3 214.3L531.3 210.4L519.3 207.1L506.3 204.8L478.3 202.7L447.3 206.3L413.3 208.6L394.3 211ZM394.3 234.5L394.3 234L401.7 240.5L411.1 246.5L428.6 255.5L440.9 263.5L457.3 276.7L472.3 291.6L480.7 301.5L492.3 317.2L510.3 345.4L515.3 354.4L519.3 362.8L526.5 382.5L394.3 382.5Z" fill="#002dff"/>
<path d="M394.3 80.5L664.3 80.5L664.3 382.5L596.5 382.5L597.4 346.5L596.9 323.5L595.8 311.5L594.3 301.5L588.8 277.5L585.8 268.5L581.4 257.5L572.7 239.5L568.7 234.5L561.3 227.2L554.5 221.5L547.3 216.3L538.3 211.3L529.3 207.8L524.3 206.3L506.3 203L478.3 200.8L471.3 200.5L443.3 203.7L405.3 205.9L394.3 207ZM394.3 242.5L394.3 241.5L415.3 251.3L426.3 256.9L435.3 262.4L455 277.5L464.3 286L473.3 295.4L479.3 302.4L491.3 318.2L506.3 341.7L513.1 353.5L517.3 362L521.2 371.5L525 382.5L394.3 382.5Z" fill="#0033ff"/>
<path d="M394.3 80.5L664.3 80.5L664.3 382.5L597.9 382.5L598.9 344.5L598.4 323.5L597.6 313.5L595.8 301.5L590.4 277.5L587.3 268.1L582.8 256.5L579.2 248.5L574.4 239.5L570.3 233.8L564.3 227.5L557.3 221.3L549.3 215.5L539.3 209.7L525.3 204.6L505.3 201.2L493.3 200.2L465.3 198.5L438.3 201.2L394.3 203.1ZM394.3 245.5L404.3 249L416.3 254.3L425.3 259L432.7 263.5L451.7 277.5L461.3 285.9L471.3 295.8L477.3 302.6L489.7 318.5L495.9 327.5L505 342.5L516.3 363.5L520 372.5L523.5 382.5L394.3 382.5Z" fill="#003eff"/>
<path d="M394.3 80.5L664.3 80.5L664.3 382.5L599.4 382.5L600.4 343.5L599.9 323.5L597.4 302.5L592.2 278.5L589.3 269.1L584.9 257.5L580.3 247.3L576 239.5L570.3 231.4L565.3 226L559.2 220.5L551.3 214.6L539.3 207.7L529.3 204.1L520.3 201.8L504.3 199.3L464.3 196.8L431.3 198.7L394.3 199.9ZM394.3 248.5L394.3 247.8L412.3 255L421.4 259.5L430 264.5L448.3 277.3L459.3 286.6L469.6 296.5L486.3 316.3L497.4 332.5L507.3 349.3L513.7 361.5L518.1 371.5L521.9 382.5L394.3 382.5Z" fill="#004eff"/>
<path d="M394.3 80.5L664.3 80.5L664.3 382.5L600.8 382.5L601.8 342.5L601.3 322.5L598.8 302.5L594.1 279.5L591 269.5L587.3 259.5L582.3 248L578.3 240.5L572.9 232.5L568.3 226.7L561.3 219.9L553.3 213.8L542.8 207.5L531.3 203L522.3 200.3L503.3 197.5L463.3 195L394.3 196.7ZM394.3 250.5L394.3 250.2L404.3 254L415.3 258.9L424 263.5L436.3 271.2L451.3 282.2L461.3 290.7L467.3 296.5L484.3 316.1L495.8 332.5L510.3 358L516.1 370.5L520.5 382.5L394.3 382.5Z" fill="#0053ff"/>
<path d="M394.3 80.5L664.3 80.5L664.3 382.5L602.1 382.5L603.3 344.5L603 327.5L600.4 303.5L598 290.5L595.3 278.5L592.3 268.8L588.3 258.1L583.3 246.7L580 240.5L574 231.5L568.3 224.4L562.2 218.5L555.3 212.9L545.3 206.8L535.3 202.5L521.3 198.4L505.3 196.1L461.3 193.3L394.3 193.6ZM394.3 253.5L394.3 252.6L411.3 259.4L419.4 263.5L433.3 271.6L441.3 277L454.3 287L466.3 297.9L482.8 316.5L494.8 333.5L509.3 359.1L514.9 371.5L519 382.5L394.3 382.5Z" fill="#0064ff"/>
<path d="M394.3 80.5L664.3 80.5L664.3 382.5L603.5 382.5L604.7 344.5L604.5 329.5L601.8 303.5L599.3 289.5L596.7 278.5L593.3 267.5L589.2 256.5L584.8 246.5L581 239.5L575 230.5L568.6 222.5L562.3 216.4L554.8 210.5L546.3 205.4L537.3 201.3L523.3 197.2L514.3 195.5L501.3 194L459.3 191.7L394.3 191.2ZM394.3 255.5L394.3 254.8L409.3 260.9L432.3 273.3L452.4 287.5L465.3 299.2L481.3 316.9L487.8 325.5L493.8 334.5L508.4 360.5L513.8 372.5L517.5 382.5L394.3 382.5Z" fill="#0069ff"/>
<path d="M394.3 80.5L664.3 80.5L664.3 382.5L604.9 382.5L606.2 343.5L605.7 328.5L602.8 301.5L600 286.5L597.5 276.5L594.3 266.2L589.9 254.5L586.4 246.5L582 238.5L576 229.5L569.3 221L563.7 215.5L556.3 209.6L548.3 204.5L537.3 199.5L524.3 195.8L514.3 193.8L501.3 192.4L457.3 190.1L394.3 188.8ZM394.3 257.5L394.3 257L409.3 263.3L424.3 270.9L432.3 275.6L452.3 289.5L459.3 295.6L468.2 304.5L482.3 320.5L494 337.5L508.3 363.4L512.3 372.4L516 382.5L394.3 382.5Z" fill="#0074ff"/>
<path d="M394.3 80.5L664.3 80.5L664.3 382.5L606.3 382.5L607.6 343.5L606.9 327.5L604.1 301.5L601.1 285.5L598.9 276.5L595.5 265.5L591 253.5L587.5 245.5L583.6 238.5L577.3 228.9L570.3 219.9L565.3 214.7L558.3 209.1L548.3 202.7L539.4 198.5L529.5 195.5L516.3 192.5L500.3 190.8L456.3 188.6L394.3 187ZM394.3 259.5L403.3 262.9L419.3 270.5L427.3 274.8L439.3 282.3L453.3 292.4L466.3 304.8L480.3 320.3L486.4 328.5L492.4 337.5L498.9 348.5L507.3 364.4L511.3 373.4L514.5 382.5L394.3 382.5Z" fill="#0084ff"/>
<path d="M394.3 80.5L664.3 80.5L664.3 382.5L607.7 382.5L608.9 346.5L608.1 327.5L605 299.5L602.4 285.5L599.7 274.5L596.3 263.6L592.2 252.5L588 243.5L584.6 237.5L578.3 227.8L571.9 219.5L565.3 212.6L560.2 208.5L550.3 202.1L540.3 197.2L530.3 194.1L514.3 190.6L499.3 189.1L455.3 187L394.3 185.3ZM394.3 262.5L394.3 261.5L414.3 270.1L422.8 274.5L436.3 282.3L450.3 292.1L463.9 304.5L478.6 320.5L485.3 329.3L491.3 338.3L498.3 350.1L506.3 365.5L510.3 374.5L513.1 382.5L394.3 382.5Z" fill="#008fff"/>
<path d="M394.3 80.5L664.3 80.5L664.3 382.5L609 382.5L610.2 350.5L609.1 325.5L607.6 309.5L605.7 296.5L603.7 285.5L600.8 273.5L594.1 253.5L590 244.5L585.6 236.5L579.8 227.5L573.3 219L567.4 212.5L561.3 207.3L550.7 200.5L539.3 195.2L530.3 192.4L513.3 188.9L498.3 187.5L453.3 185.5L394.3 183.6ZM394.3 264.5L394.3 263.7L411.3 270.8L434.3 283L448.3 292.5L462.8 305.5L477.5 321.5L484.3 330.4L490.3 339.3L496.5 349.5L503.3 362.4L508.3 373.1L511.8 382.5L394.3 382.5Z" fill="#0095ff"/>
<path d="M394.3 80.5L664.3 80.5L664.3 382.5L610.4 382.5L611.3 349.5L610.2 324.5L608.6 308.5L606.8 295.5L605 285.5L601.8 272.5L595.6 253.5L591.6 244.5L586.6 235.5L580.8 226.5L574.3 217.9L568.3 211.3L562.3 206.1L551.3 199.2L539.3 193.7L529.3 190.6L512.3 187.3L497.3 185.9L394.3 181.9ZM394.3 266.5L394.3 265.9L409.3 271.9L425.3 279.9L434.3 284.9L448.3 294.6L463.7 308.5L478.3 324.8L484.3 332.8L490.7 342.5L497.2 353.5L502.4 363.5L507.3 374.1L510.4 382.5L394.3 382.5Z" fill="#00a0ff"/>
<path d="M394.3 80.5L664.3 80.5L664.3 382.5L611.7 382.5L612.4 348.5L611.2 323.5L609.7 307.5L608 295.5L606.4 286.5L603.2 272.5L599.6 260.5L596.6 252.5L592.6 243.5L587.3 233.9L581.3 224.7L575 216.5L568.5 209.5L562.3 204.2L551.3 197.5L538.3 191.8L526.3 188.4L510.3 185.5L496.3 184.3L394.3 180.2ZM394.3 268.5L394.3 267.8L407.3 273.1L423.1 280.5L433.3 286.1L446.9 295.5L455.3 302.5L462.7 309.5L477.3 325.8L489.7 343.5L500.5 362.5L505.6 373.5L509 382.5L394.3 382.5Z" fill="#00aaff"/>
<path d="M394.3 80.5L664.3 80.5L664.3 382.5L613 382.5L613.6 349.5L612.1 319.5L610.6 305.5L608.3 289.5L603.4 268.5L600.3 258.5L596.3 248.3L592.6 240.5L587.4 231.5L581.4 222.5L575.3 214.7L569.3 208.3L563.3 203.1L553.3 196.9L541.3 191.4L528.5 187.5L512.3 184.4L495.3 182.8L394.3 178.5ZM394.3 270.5L394.3 269.7L410.8 276.5L422.3 281.9L432.3 287.4L440.3 292.6L449.4 299.5L462.3 311.1L476.8 327.5L489.3 345.4L499.6 363.5L504.2 373.5L507.6 382.5L394.3 382.5Z" fill="#00bbff"/>
<path d="M394.3 80.5L664.3 80.5L664.3 382.5L614.2 382.5L614.7 350.5L613 317.5L609.7 290.5L604.4 267.5L601.7 258.5L597 246.5L588.3 230.3L582.5 221.5L576.3 213.7L570.3 207.3L564.3 202.1L554.3 195.7L541.3 189.9L530.2 186.5L512.3 182.9L495.3 181.3L394.3 176.9ZM394.3 272.5L394.3 271.6L410.3 278L421.3 283.1L430.3 288L438.3 293.1L447.3 299.8L461.3 312.1L468.2 319.5L476.3 329.2L489.3 347.8L499.2 365.5L503.3 374.5L506.2 382.5L394.3 382.5Z" fill="#00c6ff"/>
<path d="M394.3 80.5L664.3 80.5L664.3 382.5L615.4 382.5L615.7 348.5L614.2 317.5L611.1 291.5L605.7 267.5L602.3 256.6L598.4 246.5L590 230.5L584.3 221.7L578 213.5L571.5 206.5L565.8 201.5L556.3 195.1L542.3 188.8L531.9 185.5L512.1 181.5L494.3 179.7L454.3 178.3L394.3 175.2ZM394.3 273.5L413.3 280.9L430.3 289.7L446.3 300.8L460.3 313.1L467.3 320.6L475.3 330.3L488.2 348.5L497.8 365.5L501.9 374.5L504.9 382.5L394.3 382.5Z" fill="#00cbff"/>
<path d="M394.3 80.5L664.3 80.5L664.3 382.5L616.6 382.5L616.8 346.5L615.2 315.5L612.3 291.5L606.8 266.5L599.8 246.5L595.5 237.5L590.4 228.5L584.5 219.5L578.3 211.6L572.5 205.5L566.3 200.1L556.4 193.5L542.9 187.5L532.3 184.2L511.3 180.1L493.3 178.2L452.3 176.8L394.3 173.7ZM394.3 275.5L394.3 274.9L410.3 281.2L420.3 285.9L428.3 290.2L444.9 301.5L458.7 313.5L465.4 320.5L472.1 328.5L486.6 348.5L496.4 365.5L500.5 374.5L503.5 382.5L394.3 382.5Z" fill="#00d6ff"/>
<path d="M394.3 80.5L664.3 80.5L664.3 382.5L617.7 382.5L617.9 346.5L616.3 315.5L613.6 292.5L608.3 267.5L601.3 246.7L597 237.5L591.4 227.5L586.2 219.5L580 211.5L573.4 204.5L566.3 198.3L556.3 191.8L543.3 186.2L531.3 182.6L511.3 178.8L500.3 177.3L492.3 176.7L451.3 175.3L394.3 172.3ZM394.3 276.5L413.3 284.1L428.3 292L443.9 302.5L457.8 314.5L470.3 328.5L485.6 349.5L495.5 366.5L499.2 374.5L502.2 382.5L394.3 382.5Z" fill="#00e1ff"/>
<path d="M394.3 80.5L664.3 80.5L664.3 382.5L618.8 382.5L618.9 346.5L617.5 316.5L614.9 293.5L609.8 268.5L602.6 246.5L598.3 237.1L593 227.5L587.3 218.6L581.3 210.8L574.3 203.5L567.3 197.4L555.3 189.7L543.3 184.7L531.3 181.2L511.3 177.5L491.3 175.2L449.3 173.8L394.3 170.9ZM394.3 278.5L394.3 277.9L409.3 283.9L426.3 292.5L442.3 303L456.9 315.5L468.3 328.2L484.3 349.9L494.3 367.1L497.8 374.5L500.9 382.5L394.3 382.5Z" fill="#00f1ff"/>
<path d="M394.3 80.5L664.3 80.5L664.3 382.5L619.8 382.5L619.9 344.5L618.4 314.5L615.7 291.5L612.7 275.5L610.5 266.5L606.8 254.5L603.3 245.1L599 235.5L594 226.5L588.2 217.5L582.3 209.9L575.3 202.5L568.3 196.4L562.8 192.5L556 188.5L545.3 184L530.3 179.7L511.3 176.3L489.3 173.7L447.3 172.3L394.3 169.5ZM394.3 279.5L413.3 287.3L430.2 296.5L444.3 306.3L456 316.5L467.3 329.1L483.3 350.8L493.1 367.5L496.9 375.5L499.5 382.5L394.3 382.5Z" fill="#00fcff"/>
<path d="M394.3 80.5L664.3 80.5L664.3 382.5L620.9 382.5L621 343.5L619.4 312.5L616.4 288.5L613.9 275.5L611.4 265.5L607.3 252.2L604.3 244.2L599.4 233.5L595 225.5L589.3 216.7L583.8 209.5L577.2 202.5L569.3 195.5L558.3 188.3L547.3 183.3L530.3 178.4L514.3 175.6L488.3 172.4L444.3 170.8L394.3 168.1ZM394.3 281.5L394.3 280.8L410.3 287.4L428.3 297L443.3 307.3L455.1 317.5L466.3 329.9L482.3 351.6L491.7 367.5L498.3 382.5L394.3 382.5Z" fill="#00fffd"/>
<path d="M394.3 80.5L664.3 80.5L664.3 382.5L622 382.5L622 343.5L620.6 313.5L619 298.5L617.3 287.5L615.3 276.5L612.3 264.6L608.3 251.5L605.3 243.4L600.3 232.5L596 224.5L590.3 215.7L585.3 209.2L578.1 201.5L570.3 194.6L560.3 187.9L549.3 182.7L533.3 177.9L517.3 174.9L487.3 171.1L442.3 169.4L394.3 166.8ZM394.3 282.5L411.3 289.5L428.3 298.6L442.3 308.2L454.2 318.5L466.3 332L481.3 352.4L490.3 367.5L497 382.5L394.3 382.5Z" fill="#00fff2"/>
<path d="M394.3 80.5L664.3 80.5L664.3 382.5L623 382.5L623.1 346.5L622.2 320.5L620.3 299.5L616.4 276.5L609.9 252.5L603.3 235.8L595.2 220.5L590.3 213.3L584.7 206.5L579 200.5L572.3 194.6L566.3 190.1L560.3 186.4L553.3 182.9L547.3 180.6L529.3 175.7L509.3 172.5L486.3 169.8L440.3 167.9L394.3 165.4ZM394.3 284.5L394.3 283.8L407.3 289.2L426.3 299L440.3 308.4L452.3 318.6L464.3 331.6L479.1 351.5L488.8 367.5L495.7 382.5L394.3 382.5Z" fill="#00ffe7"/>
<path d="M394.3 80.5L664.3 80.5L664.3 382.5L624.1 382.5L624.2 345.5L623.2 319.5L621.4 299.5L617.5 276.5L611.1 252.5L604.5 235.5L596.1 219.5L591.4 212.5L585.6 205.5L579.8 199.5L573.3 193.8L567.3 189.2L561.3 185.5L548.3 179.5L540.3 177.1L529.3 174.5L509.3 171.3L485.3 168.6L394.3 164.1ZM394.3 285.5L408.3 291.2L426.3 300.5L440.3 310.1L452.3 320.4L459.1 327.5L465.1 334.5L477.6 351.5L487.4 367.5L494.4 382.5L394.3 382.5Z" fill="#00ffd7"/>
<path d="M394.3 80.5L664.3 80.5L664.3 382.5L625.2 382.5L625.2 344.5L624.2 318.5L622.4 298.5L618.6 276.5L612.3 252.5L605.8 235.5L601 225.5L596.3 217.2L587.3 205.5L581.6 199.5L575.3 193.8L569.3 189.1L563.3 185.1L556.3 181.5L549.3 178.6L532.3 173.9L509.3 170.2L483.3 167.3L394.3 162.9ZM394.3 287.5L394.3 286.7L404.3 290.9L415.3 296L424.3 300.9L438.7 310.5L451.5 321.5L463.4 334.5L474.7 349.5L485.4 366.5L489.5 374.5L493 382.5L394.3 382.5Z" fill="#00ffcc"/>
<path d="M394.3 80.5L664.3 80.5L664.3 382.5L626.2 382.5L626.3 344.5L625.3 318.5L623.3 297.5L619.8 276.5L613.8 253.5L606.7 234.5L602.3 225.4L597.3 216.4L588.1 204.5L576.3 193L569.3 187.5L563.3 183.7L556.3 180.1L548.3 176.9L534.3 173.1L511.3 169.3L482.3 166.1L394.3 161.6ZM394.3 288.5L394.3 288.1L410.3 295.1L424.3 302.5L438.3 311.9L450.7 322.5L462.3 335.1L473.3 349.5L484.5 367.5L491.7 382.5L394.3 382.5Z" fill="#00ffc7"/>
<path d="M394.3 80.5L664.3 80.5L664.3 382.5L627.3 382.5L627.3 342.5L626.3 316.5L624 294.5L620.7 275.5L615 253.5L611.6 243.5L607.5 233.5L602.7 223.5L598.2 215.5L594.3 210L588.9 203.5L583.2 197.5L576.5 191.5L570 186.5L563.8 182.5L550.3 176.3L535.3 172.1L513.3 168.4L481.3 164.9L394.3 160.5ZM394.3 290.5L394.3 289.6L405.9 294.5L422.3 302.9L436.3 312.1L449.3 322.9L461.3 335.8L471.8 349.5L482.4 366.5L490.3 382.5L394.3 382.5Z" fill="#00ffbc"/>
<path d="M394.3 80.5L664.3 80.5L664.3 382.5L628.3 382.5L628.4 343.5L627.4 317.5L625.4 296.5L621.3 273.5L615.9 252.5L612.3 242.1L607.9 231.5L599.5 215.5L595.3 209.3L589.3 202L583.3 195.8L577.3 190.5L570.7 185.5L564.3 181.4L551.3 175.4L545.3 173.4L536.3 171.2L526.3 169.1L514.3 167.4L480.3 163.7L394.3 159.3ZM394.3 291.5L394.3 291L408.3 297L424.2 305.5L437.4 314.5L449.1 324.5L461.3 337.7L471 350.5L481.3 367L488.9 382.5L394.3 382.5Z" fill="#00ffb1"/>
<path d="M394.3 80.5L664.3 80.5L664.3 382.5L629.3 382.5L629.4 343.5L628.5 317.5L626.6 297.5L622.3 272.8L616.8 251.5L613.3 241.5L609.3 231.7L600.9 215.5L595.3 207.3L590.3 201.3L579.2 190.5L572.9 185.5L566.3 181.1L560.3 177.9L553.3 174.9L545.3 172.2L538.3 170.4L516.3 166.5L479.3 162.5L394.3 158.2ZM394.3 292.5L409.3 298.9L424.3 307.1L437.3 316L448.3 325.5L460.3 338.5L470.2 351.5L480.3 367.8L487.6 382.5L394.3 382.5Z" fill="#00ffa1"/>
<path d="M394.3 80.5L664.3 80.5L664.3 382.5L630.4 382.5L630.5 342.5L629.6 317.5L627.5 296.5L623.3 272.3L617.6 250.5L610.3 231.1L602.2 215.5L596.3 206.7L591.2 200.5L585.3 194.3L579.3 188.9L572.3 183.6L566.3 179.7L561.3 177L554.3 174L545.3 171L538.3 169.2L525.3 166.6L515.3 165.2L478.3 161.3L394.3 157.1ZM394.3 294.5L394.3 293.7L404.3 298L421.3 306.8L434.5 315.5L446.4 325.5L458.3 338L468.3 350.9L479.2 368.5L486.2 382.5L394.3 382.5Z" fill="#00ff97"/>
<path d="M394.3 80.5L664.3 80.5L664.3 382.5L631.4 382.5L631.5 341.5L630.6 315.5L628 292.5L624 270.5L618.5 249.5L615 239.5L610.8 229.5L603 214.5L597.3 206.1L592 199.5L580.3 188.2L574.3 183.5L567.3 178.9L561.3 175.6L555.3 173.1L538.3 168L515.3 164.1L477.3 160.2L394.3 156ZM394.3 295.5L394.3 295.1L406.7 300.5L423.3 309.4L435.1 317.5L445.6 326.5L457.3 338.7L467.3 351.6L477.3 367.5L484.9 382.5L394.3 382.5Z" fill="#00ff91"/>
<path d="M394.3 80.5L664.3 80.5L664.3 382.5L632.5 382.5L632.6 342.5L631.8 317.5L629.1 293.5L625.1 270.5L622 257.5L619.3 248.4L611.6 228.5L607.7 220.5L603.3 212.9L597.5 204.5L592.3 198.1L586.3 191.9L580.2 186.5L574.3 182L567.3 177.5L561.3 174.3L555.3 171.8L538.3 166.8L515.3 163L476.3 159L394.3 154.9ZM394.3 296.5L408.3 302.7L424.3 311.5L435.6 319.5L446.3 328.9L457.3 340.6L467.1 353.5L475.8 367.5L483.5 382.5L394.3 382.5Z" fill="#00ff81"/>
<path d="M394.3 80.5L664.3 80.5L664.3 382.5L633.5 382.5L633.6 342.5L632.8 317.5L630 292.5L625.8 268.5L623.1 257.5L619.8 246.5L612 226.5L607.9 218.5L603.3 210.8L598.2 203.5L592.5 196.5L586.5 190.5L580.3 185.1L574.2 180.5L567.3 176.1L561.3 173L555.3 170.6L538.3 165.7L514.3 161.7L475.3 157.9L394.3 153.8ZM394.3 298.5L394.3 297.7L403.3 301.7L413.3 306.6L422.3 311.7L433.6 319.5L445.1 329.5L456.3 341.4L465.6 353.5L474.4 367.5L482.1 382.5L394.3 382.5Z" fill="#00ff76"/>
<path d="M394.3 80.5L664.3 80.5L664.3 382.5L634.6 382.5L634.7 341.5L633.9 318.5L630.8 290.5L626.4 266.5L620.6 245.5L616.6 234.5L612.3 224.5L608.3 216.8L603.8 209.5L598.9 202.5L593.3 195.7L587.3 189.6L581.3 184.4L574.3 179.2L567.3 174.8L561.3 171.7L555.6 169.5L537.3 164.3L513.3 160.5L474.3 156.7L394.3 152.7ZM394.3 299.5L394.3 299.1L408.3 305.4L422.3 313.1L433.3 320.9L444.3 330.5L454.8 341.5L464.3 353.8L473 367.5L480.8 382.5L394.3 382.5Z" fill="#00ff6c"/>
<path d="M394.3 80.5L664.3 80.5L664.3 382.5L635.6 382.5L635.7 341.5L635 320.5L631.9 291.5L627.5 266.5L621.8 245.5L614 225.5L610 217.5L605.2 209.5L600.3 202.5L594.3 195.1L588.9 189.5L582.1 183.5L575.3 178.5L567.3 173.5L556.2 168.5L537.3 163.2L514.4 159.5L475.3 155.7L394.3 151.7ZM394.3 300.5L408.3 306.8L421.3 314L432.3 321.7L443.3 331.2L454 342.5L463.3 354.5L472.2 368.5L479.4 382.5L394.3 382.5Z" fill="#00ff61"/>
<path d="M394.3 80.5L664.3 80.5L664.3 382.5L636.6 382.5L636.7 341.5L635.9 320.5L632.8 290.5L628.1 264.5L622.3 243.6L614.8 224.5L610.3 215.8L605.3 207.6L600.2 200.5L594.4 193.5L589.3 188.2L582.3 182.2L574.4 176.5L567.3 172.2L561.3 169.3L555.3 167L536.3 161.9L514.3 158.4L475.3 154.7L394.3 150.6ZM394.3 302.5L394.3 301.7L403.3 305.7L419.3 314.1L430.3 321.7L441.8 331.5L452.4 342.5L461.8 354.5L470.8 368.5L478.1 382.5L394.3 382.5Z" fill="#00ff56"/>
<path d="M394.3 80.5L664.3 80.5L664.3 382.5L637.7 382.5L637.8 344.5L636.9 320.5L633.6 289.5L628.9 263.5L623.1 242.5L619.3 232.2L615.3 223L611.3 215.3L606.3 207.1L600.9 199.5L595.3 192.7L589.3 186.6L582.3 180.7L574.9 175.5L567.3 171L560.3 167.7L554.3 165.5L536.3 160.8L515.3 157.4L477.3 153.8L394.3 149.5ZM394.3 303.5L394.3 303L405.3 307.9L420.3 316.2L431.3 324L442.1 333.5L452.3 344.3L461.3 355.9L470 369.5L476.8 382.5L394.3 382.5Z" fill="#00ff4b"/>
<path d="M394.3 80.5L664.3 80.5L664.3 382.5L638.7 382.5L638.7 344.5L637.8 319.5L634.5 288.5L629.8 262.5L623.9 241.5L620.2 231.5L616.3 222.5L612.1 214.5L607.3 206.5L602.3 199.5L596.3 192.2L590.3 186L583.9 180.5L576.3 175.1L568.3 170.3L556.3 165.1L536.3 159.7L516.3 156.4L479.3 152.8L465.3 151.8L394.3 148.4ZM394.3 304.5L406.3 309.7L419.3 317L430.3 324.8L440.3 333.5L450.3 343.9L459.5 355.5L468.3 369.1L475.4 382.5L394.3 382.5Z" fill="#00ff41"/>
<path d="M394.3 80.5L664.3 80.5L664.3 382.5L639.7 382.5L639.7 344.5L638.7 319.5L635.6 289.5L631 263.5L625 241.5L621.4 231.5L617.5 222.5L613.3 214.3L608.3 206L603 198.5L597.2 191.5L591.3 185.4L584.4 179.5L577.3 174.4L569.1 169.5L557.3 164.3L536.3 158.6L518.3 155.6L480.3 151.9L463.3 150.6L394.3 147.3ZM394.3 305.5L408.3 312.1L419.3 318.4L430.5 326.5L440.3 335.1L450 345.5L458.7 356.5L467.1 369.5L474.1 382.5L394.3 382.5Z" fill="#00ff36"/>
<path d="M394.3 80.5L664.3 80.5L664.3 382.5L640.7 382.5L640.6 342.5L639.6 319.5L636.4 288.5L632.1 263.5L626.1 241.5L622.6 231.5L618.3 221.5L613.6 212.5L608.7 204.5L603.3 197L597.9 190.5L592 184.5L585.3 178.7L578 173.5L569.5 168.5L557.3 163.2L536.3 157.6L517.3 154.3L481.3 150.9L462.3 149.5L394.3 146.4ZM394.3 307.5L394.3 306.7L402.3 310.4L417.2 318.5L428.6 326.5L438.9 335.5L448.4 345.5L457.3 356.8L465.7 369.5L472.8 382.5L394.3 382.5Z" fill="#00ff2b"/>
<path d="M394.3 80.5L664.3 80.5L664.3 382.5L641.7 382.5L641.5 340.5L640.5 318.5L637.4 288.5L633.1 263.5L627.3 241.5L623.7 231.5L619.5 221.5L614.9 212.5L610 204.5L604.3 196.5L598.5 189.5L592.3 183.2L585.3 177.3L578.3 172.4L569.9 167.5L557.3 162.1L536.3 156.5L516.3 153.1L481.3 149.8L460.3 148.3L394.3 145.4ZM394.3 308.5L394.3 308L404 312.5L417.3 320L427.9 327.5L438.2 336.5L447.6 346.5L456.3 357.5L464.3 369.6L471.4 382.5L394.3 382.5Z" fill="#00ff20"/>
<path d="M394.3 80.5L664.3 80.5L664.3 382.5L642.7 382.5L642.5 339.5L641.4 318.5L638.3 287.6L634.2 263.5L628 240.5L620.7 221.5L616.3 212.8L611.3 204.4L605.7 196.5L600 189.5L593.3 182.6L586.3 176.7L578.9 171.5L571.3 167.1L564.3 163.7L557.3 161L536.3 155.5L516.3 152.1L482.3 148.8L458.3 147.1L394.3 144.4ZM394.3 309.5L394.3 309.2L404.3 313.9L416.3 320.8L427.2 328.5L437.3 337.3L446.3 346.8L454.8 357.5L462.8 369.5L470.1 382.5L394.3 382.5Z" fill="#00ff16"/>
<path d="M394.3 80.5L664.3 80.5L664.3 382.5L643.7 382.5L643.4 339.5L642.3 317.5L639.1 286.5L635 262.5L628.8 239.5L621.4 220.5L616.8 211.5L612 203.5L606.4 195.5L600.6 188.5L594.3 182L587.3 176.1L580.3 171.1L572.3 166.4L565.3 163L557.3 160L536.3 154.5L515.3 150.9L483.3 147.8L455.3 145.9L394.3 143.4ZM394.3 310.5L406.3 316.3L417.3 322.8L426.6 329.5L436.3 338L445.2 347.5L453.9 358.5L462.3 371L468.8 382.5L394.3 382.5Z" fill="#00ff0b"/>
<path d="M394.3 80.5L664.3 80.5L664.3 382.5L644.6 382.5L644.4 340.5L643.2 316.5L640.1 286.5L635.8 261.5L629.9 239.5L626.3 229.2L622.3 219.8L617.5 210.5L612.7 202.5L607.3 194.8L601.3 187.6L594.3 180.5L588.3 175.4L581.3 170.4L572.9 165.5L565.3 161.9L557.3 158.9L537.3 153.7L514.3 149.7L484.3 146.9L453.3 144.8L394.3 142.4ZM394.3 312.5L394.3 311.6L400.3 314.5L415.3 322.9L425.3 330L435.1 338.5L443.6 347.5L452.4 358.5L460.5 370.5L467.4 382.5L394.3 382.5Z" fill="#00ff00"/>
<path d="M394.3 80.5L664.3 80.5L664.3 382.5L645.6 382.5L645.3 342.5L644 315.5L641.1 286.5L636.6 260.5L631 239.5L627.2 228.5L623.3 219.4L618.8 210.5L614 202.5L608.5 194.5L602.7 187.5L596.3 180.9L590.1 175.5L582.3 169.8L575.1 165.5L567 161.5L559.3 158.5L539.3 153.2L514.3 148.6L487.3 146L451.3 143.6L394.3 141.5ZM394.3 313.5L394.3 312.9L401.8 316.5L415.3 324.3L425.3 331.5L434.3 339.4L442.9 348.5L451.3 359.1L459.3 370.9L466 382.5L394.3 382.5Z" fill="#0bff00"/>
<path d="M394.3 80.5L664.3 80.5L664.3 382.5L646.5 382.5L646.3 343.5L644.9 314.5L641.9 285.5L639.6 270.5L637.4 259.5L631.8 238.5L627.9 227.5L624.1 218.5L619.5 209.5L614.7 201.5L609.1 193.5L603.3 186.5L597.3 180.3L590.6 174.5L582.3 168.5L575.3 164.4L567.3 160.5L559.3 157.5L539.3 152.2L514.3 147.6L487.3 145L449.3 142.5L394.3 140.5ZM394.3 314.5L394.3 314.1L403.1 318.5L415.1 325.5L424.7 332.5L433.3 340.1L441.3 348.5L450 359.5L458.3 371.5L464.7 382.5L394.3 382.5Z" fill="#16ff00"/>
<path d="M394.3 80.5L664.3 80.5L664.3 382.5L647.4 382.5L647.2 342.5L645.7 313.5L642.8 284.5L638.3 259L632.6 237.5L628.7 226.5L624.8 217.5L620.3 208.7L615.4 200.5L610.3 193.2L604.3 185.9L598.1 179.5L591.3 173.6L584.2 168.5L576.3 163.8L568.3 159.9L560.3 156.8L540.3 151.4L513.3 146.5L484.3 143.7L447.3 141.4L394.3 139.5ZM394.3 315.5L405.3 321L414.5 326.5L424.1 333.5L432.3 340.8L440.3 349.2L447.7 358.5L456.1 370.5L463.3 382.5L394.3 382.5Z" fill="#20ff00"/>
<path d="M394.3 80.5L664.3 80.5L664.3 382.5L648.4 382.5L648.1 341.5L646.7 313.5L643.7 284.5L642 272.5L639.2 258.5L633.6 237.5L629.8 226.5L626 217.5L621.5 208.5L616.7 200.5L611.2 192.5L605.4 185.5L599.3 179.2L592.3 173.1L585.3 168L578 163.5L569.9 159.5L562.3 156.5L554.3 153.9L541.3 150.6L512.3 145.4L486.3 142.9L449.3 140.4L394.3 138.5ZM394.3 317.5L394.3 316.6L404.3 321.7L412.4 326.5L422.3 333.6L431.3 341.4L438.9 349.5L446.3 358.6L454.7 370.5L461.9 382.5L394.3 382.5Z" fill="#2bff00"/>
<path d="M394.3 80.5L664.3 80.5L664.3 382.5L649.3 382.5L648.9 340.5L647.5 312.5L644.4 282.5L640 257.5L634.3 236.2L630.5 225.5L626.7 216.5L622.3 207.7L617.3 199.3L611.8 191.5L606 184.5L600.2 178.5L593.3 172.5L586.3 167.4L578.3 162.5L570.3 158.6L562.3 155.4L553.3 152.6L541.3 149.6L510.3 144.2L487.3 141.9L450.3 139.4L394.3 137.5ZM394.3 318.5L394.3 317.8L400.3 320.8L412.3 327.8L421.6 334.5L430.3 342.1L438.2 350.5L445.3 359.3L453.9 371.5L460.6 382.5L394.3 382.5Z" fill="#36ff00"/>
<path d="M394.3 80.5L664.3 80.5L664.3 382.5L650.2 382.5L649.9 340.5L648.4 311.5L645.4 282.5L641 257.5L638.3 246.2L634.8 234.5L631.3 224.6L627.4 215.5L622.9 206.5L618.3 198.8L613.2 191.5L607.3 184.3L600.7 177.5L593.8 171.5L586.9 166.5L578.6 161.5L570.3 157.5L562.5 154.5L553.3 151.6L542.3 148.9L512.3 143.5L489.3 141.1L449.3 138.4L394.3 136.6ZM394.3 319.5L394.3 319.1L401.3 322.6L412.3 329.2L421.3 335.7L429.3 342.8L436.6 350.5L443.9 359.5L452.4 371.5L459.2 382.5L394.3 382.5Z" fill="#41ff00"/>
<path d="M394.3 80.5L664.3 80.5L664.3 382.5L651.1 382.5L650.7 337.5L648.4 300.5L644.6 270.5L641.4 254.5L638.3 242.5L632.8 225.5L625.7 209.5L617.4 195.5L608.1 183.5L601.3 176.5L594.3 170.5L587.3 165.5L579.3 160.7L571.3 156.9L563.3 153.7L553.3 150.6L542.3 147.9L512.3 142.6L489.3 140.1L450.3 137.5L394.3 135.6ZM394.3 320.5L402.5 324.5L412.3 330.5L420.4 336.5L428.3 343.5L435.9 351.5L443.2 360.5L451 371.5L457.8 382.5L394.3 382.5Z" fill="#4cff00"/>
<path d="M394.3 80.5L664.3 80.5L664.3 382.5L652.1 382.5L651.6 337.5L649.4 301.5L645.7 271.5L642.8 256.5L639.6 243.5L633.9 225.5L626.9 209.5L618.8 195.5L609.3 183.2L602.8 176.5L596 170.5L589.2 165.5L580.3 160.1L572.9 156.5L564.3 153.1L553.3 149.6L543.3 147.2L514.3 141.9L490.3 139.2L450.3 136.5L394.3 134.6ZM394.3 321.5L403.7 326.5L412.3 331.9L420.3 337.9L427.7 344.5L435.2 352.5L442.3 361.3L449.5 371.5L456.4 382.5L394.3 382.5Z" fill="#56ff00"/>
<path d="M394.3 80.5L664.3 80.5L664.3 382.5L653 382.5L652.5 337.5L650.4 301.5L646.7 271.5L644 257.5L640.7 243.5L635 225.5L628.1 209.5L620.1 195.5L615.1 188.5L610.2 182.5L603.4 175.5L596.4 169.5L589.3 164.3L581.3 159.5L574.3 156L565.3 152.4L554.3 148.9L544.3 146.4L517.8 141.5L492.3 138.3L451.3 135.5L394.3 133.7ZM394.3 323.5L394.3 322.7L410.3 331.9L418.3 337.7L426.3 344.8L433.6 352.5L441 361.5L448.1 371.5L455 382.5L394.3 382.5Z" fill="#61ff00"/>
<path d="M394.3 80.5L664.3 80.5L664.3 382.5L653.9 382.5L653.4 336.5L651.3 301.5L647.6 271.5L645 257.5L641.9 244.5L636.1 225.5L628.8 208.5L620.3 193.8L610.7 181.5L604.3 174.9L597.3 168.9L589.9 163.5L582.3 158.9L574.3 154.9L565.3 151.4L554.3 147.9L544.3 145.4L517.3 140.5L490.3 137.2L450.3 134.5L404.3 133.3L394.3 132.7ZM394.3 324.5L394.3 323.9L399.3 326.6L410.7 333.5L418.6 339.5L426.3 346.4L432.9 353.5L440.2 362.5L446.6 371.5L453.6 382.5L394.3 382.5Z" fill="#6cff00"/>
<path d="M394.3 80.5L664.3 80.5L664.3 382.5L654.8 382.5L654.3 336.5L652.2 301.5L650.6 285.5L648.6 271.5L646 257.5L643 244.5L637.1 225.5L629.9 208.5L621.4 193.5L612.2 181.5L605.4 174.5L598.6 168.5L591.3 163.2L583.6 158.5L575.3 154.3L567.3 151.1L556.2 147.5L545.3 144.7L516.3 139.4L487.3 135.9L449.3 133.4L404.3 132.4L394.3 131.7ZM394.3 325.5L394.3 325.1L400.3 328.4L410.3 334.6L418.1 340.5L425.3 347.1L432.2 354.5L439.3 363.3L445.9 372.5L452.2 382.5L394.3 382.5Z" fill="#77ff00"/>
<path d="M394.3 80.5L664.3 80.5L664.3 382.5L655.7 382.5L655.2 336.5L653.2 301.5L649.7 272.5L647.2 258.5L644.2 245.5L638.6 226.5L631.1 208.5L622.3 192.9L612.8 180.5L606.3 173.8L599.3 167.7L592.1 162.5L584.3 157.7L576.3 153.7L568.3 150.4L557.3 146.8L546.3 144L532.3 141.1L515.3 138.3L484.3 134.7L448.3 132.4L404.3 131.4L394.3 130.7ZM394.3 326.5L402.3 330.8L410.3 336L417.5 341.5L424.3 347.7L430.7 354.5L438 363.5L450.9 382.5L394.3 382.5Z" fill="#82ff00"/>
<path d="M394.3 80.5L664.3 80.5L664.3 382.5L656.6 382.5L656.1 336.5L654.1 301.5L650.7 272.5L645.2 245.5L639.3 225.5L631.8 207.5L627.3 199L622.7 191.5L613.3 179.5L606.4 172.5L599.4 166.5L592.3 161.4L584.3 156.6L576.3 152.7L568.3 149.4L557.3 145.9L546.3 143L531.3 139.9L513.3 137.1L481.3 133.5L447.3 131.3L403.3 130.4L394.3 129.8ZM394.3 328.5L394.3 327.6L407.7 335.5L415.3 341.2L422.4 347.5L429.3 354.7L436.3 363.2L443 372.5L449.5 382.5L394.3 382.5Z" fill="#8dff00"/>
<path d="M394.3 80.5L664.3 80.5L664.3 382.5L657.5 382.5L656.9 335.5L655 301.5L651.8 273.5L649.1 258.5L646.3 245.7L640.4 225.5L633 207.5L628.3 198.6L624 191.5L614.3 179L608 172.5L601.1 166.5L594.3 161.5L586.2 156.5L578.3 152.5L569.3 148.8L558.3 145.2L547.3 142.3L532.3 139.2L516.3 136.6L499.3 134.2L483.3 132.7L446.3 130.3L403.3 129.4L394.3 128.7ZM394.3 329.5L394.3 328.8L408.3 337.3L415.2 342.5L421.8 348.5L428.4 355.5L435 363.5L448.1 382.5L394.3 382.5Z" fill="#97ff00"/>
<path d="M394.3 80.5L664.3 80.5L664.3 382.5L658.4 382.5L657.8 335.5L656 301.5L652.7 273.5L647.5 246.5L641.4 225.5L634.1 207.5L625.2 191.5L620.3 184.5L615.3 178.5L609.3 172.2L602.3 166.1L594.7 160.5L587.3 155.9L578.5 151.5L569.3 147.7L548.3 141.5L533.3 138.4L518.3 135.9L498.3 133.2L484.3 131.8L447.3 129.3L404.3 128.4L394.3 127.7ZM394.3 330.5L394.3 330.1L398.7 332.5L408.1 338.5L414.6 343.5L421.2 349.5L427.7 356.5L434.3 364.5L446.7 382.5L394.3 382.5Z" fill="#a2ff00"/>
<path d="M394.3 80.5L664.3 80.5L664.3 382.5L659.3 382.5L658.7 335.5L656.9 301.5L653.6 273.5L648.5 246.5L642.5 225.5L635.3 207.5L626.5 191.5L621.3 184.1L615.9 177.5L609.3 170.8L602.3 164.7L595.1 159.5L587.3 154.8L578.6 150.5L569.3 146.7L548.3 140.6L518.3 135L497.3 132.1L484.3 130.9L447.3 128.3L404.3 127.4L394.3 126.7ZM394.3 331.5L400.3 334.7L408.3 340L414.3 344.7L420.5 350.5L432.8 364.5L445.3 382.5L394.3 382.5Z" fill="#adff00"/>
<path d="M394.3 80.5L664.3 80.5L664.3 382.5L660.2 382.5L659.6 335.5L657.7 300.5L654.4 272.5L649.5 246.5L643.6 225.5L635.9 206.5L631.9 198.5L627.1 190.5L622.2 183.5L616.4 176.5L610.3 170.2L603.3 164.2L595.4 158.5L587.3 153.7L578.3 149.3L568.7 145.5L547.3 139.4L517.3 133.9L484.3 129.9L447.3 127.3L404.3 126.5L394.3 125.7ZM394.3 333.5L394.3 332.5L405.3 339.2L412.3 344.5L418.9 350.5L431.3 364.5L444 382.5L394.3 382.5Z" fill="#b8ff00"/>
<path d="M394.3 80.5L664.3 80.5L664.3 382.5L661.1 382.5L660.6 336.5L658.8 302.5L655.7 274.5L650.7 247.5L644.6 225.5L637.1 206.5L633.1 198.5L628.3 190.4L622.8 182.5L617.3 175.9L610.3 168.8L603.3 162.8L595.8 157.5L587.3 152.5L578.3 148.3L568.6 144.5L547.3 138.4L518.3 133.2L484.3 129L447.3 126.3L403.3 125.4L394.3 124.7ZM394.3 334.5L394.3 333.7L405.3 340.6L411.7 345.5L418.3 351.5L430.6 365.5L442.6 382.5L394.3 382.5Z" fill="#c3ff00"/>
<path d="M394.3 80.5L664.3 80.5L664.3 382.5L661.9 382.5L661.4 333.5L659.3 297.3L656.1 271.5L651.9 248.5L646 226.5L642.4 216.5L638.2 206.5L633.7 197.5L629.3 190L624.1 182.5L618.3 175.4L611.6 168.5L604.6 162.5L596.3 156.6L588.3 151.9L579.3 147.6L569.3 143.7L559.3 140.6L547.3 137.5L519.3 132.4L485.3 128.1L444.3 125.2L403.3 124.4L394.3 123.7ZM394.3 335.5L394.3 335L405.3 341.9L411.3 346.6L417.7 352.5L429.1 365.5L441.2 382.5L394.3 382.5Z" fill="#cdff00"/>
<path d="M394.3 80.5L664.3 80.5L664.3 382.5L662.8 382.5L662.3 333.5L660.3 298.5L657.2 272.5L652.9 248.5L647 226.5L643.5 216.5L639.3 206.4L634.9 197.5L630.2 189.5L624.6 181.5L618.9 174.5L612.3 167.7L605 161.5L597.3 156.1L588.3 150.8L579.3 146.6L569.3 142.7L559.3 139.6L546.3 136.3L517.3 131.2L484.3 127.1L444.3 124.3L403.3 123.4L394.3 122.7ZM394.3 336.5L398.3 338.6L405.6 343.5L417.1 353.5L428.4 366.5L439.8 382.5L394.3 382.5Z" fill="#d8ff00"/>
<path d="M394.3 80.5L664.3 80.5L664.3 382.5L663.7 382.5L663.2 335.5L661.4 301.5L658.4 274.5L654.1 249.5L648.1 226.5L644.3 215.7L640 205.5L635.5 196.5L630.8 188.5L625.3 180.6L619.4 173.5L612.5 166.5L605.4 160.5L597.3 154.8L589.3 150.2L580.3 146L570.3 142.1L560.3 138.9L547.3 135.6L520.3 130.7L486.3 126.3L446.3 123.4L403.3 122.3L394.3 121.6ZM394.3 337.5L406.3 345.4L416.5 354.5L426.9 366.5L438.4 382.5L394.3 382.5Z" fill="#e3ff00"/>
<path d="M394.3 80.5L664.3 80.5L664.3 345L663 311.5L660.6 284.5L656.6 257.5L651.3 234L644.5 213.5L640.7 204.5L636.3 195.7L631.4 187.5L626.5 180.5L620.8 173.5L615.3 167.7L608.3 161.5L601.3 156.3L593.7 151.5L585.3 147.1L576.3 143.3L566.3 139.8L544.3 134L516.3 129.2L484.3 125.2L445.3 122.4L403.3 121.3L394.3 120.6ZM394.3 339.5L394.3 338.7L403.2 344.5L414.9 354.5L425.4 366.5L437 382.5L394.3 382.5Z" fill="#eeff00"/>
<path d="M394.3 80.5L664.3 80.5L664.3 318.8L662.4 292.5L658.7 264.5L654.3 241.9L648.8 222.5L641.8 204.5L633.3 188.5L628.6 181.5L623.3 174.7L618.3 169.2L612.3 163.5L606.2 158.5L599 153.5L592.2 149.5L584.1 145.5L574.3 141.5L564.3 138.2L543.3 132.9L515.3 128.1L483.3 124.1L445.3 121.4L403.3 120.3L394.3 119.5ZM394.3 340.5L394.3 339.9L403.3 345.9L414.3 355.5L424.7 367.5L435.6 382.5L394.3 382.5Z" fill="#f9ff00"/>
<path d="M394.3 80.5L664.3 80.5L664.3 304.3L661.5 277.5L657.9 254.5L653.3 234L647.3 215.2L640.1 198.5L631.3 183.6L621.3 170.8L610.4 160.5L603.8 155.5L596.3 150.7L581.3 143.3L561.3 136.3L540.3 131.3L512.3 126.7L481.3 123L445.3 120.5L404.3 119.3L394.3 118.5ZM394.3 341.5L397.3 343.1L403.6 347.5L413.7 356.5L423.2 367.5L434.2 382.5L394.3 382.5Z" fill="#fffb00"/>
<path d="M394.3 80.5L664.3 80.5L664.3 294.4L661.2 268.5L657.3 246.5L652.3 227L646.3 209.8L639.2 194.5L630.4 180.5L620.6 168.5L609.6 158.5L596.3 149.5L581.3 142.2L561.3 135.4L540.3 130.4L511.3 125.7L480.3 122L445.3 119.5L404.3 118.2L394.3 117.5ZM394.3 342.5L404.3 349.5L413 357.5L422.3 368.2L432.8 382.5L394.3 382.5Z" fill="#fff000"/>
<path d="M394.3 80.5L664.3 80.5L664.3 285.8L661 261.5L657.1 241.5L652.3 223.5L646 206.5L638.7 191.5L630.3 178.5L620.3 166.7L609.3 156.9L602.3 152L595.3 147.8L580.3 140.8L561.3 134.4L539.3 129.3L510.3 124.6L478.3 120.8L444.3 118.5L404.3 117.2L394.3 116.4ZM394.3 344.5L394.3 343.8L401.3 348.6L411.5 357.5L420.3 367.6L431.4 382.5L394.3 382.5Z" fill="#ffe500"/>
<path d="M394.3 80.5L664.3 80.5L664.3 278.1L661.1 256.5L656.9 236.5L651.6 218.5L645.3 202.3L638.1 188.5L629.3 175.5L619.3 164.2L608.3 154.9L594.9 146.5L579.3 139.4L560.3 133.2L538.3 128.2L509.3 123.6L476.3 119.7L444.3 117.5L404.3 116.1L394.3 115.3ZM394.3 345.5L394.3 345.1L402 350.5L410.9 358.5L419.6 368.5L430 382.5L394.3 382.5Z" fill="#ffda00"/>
<path d="M394.3 80.5L664.3 80.5L664.3 271.2L660.7 249.5L656.3 230.5L650.9 213.5L644.6 198.5L636.9 184.5L628.3 172.5L618.3 161.8L607.3 152.9L593.3 144.5L578.3 138L560.3 132.2L537.3 127.1L508.3 122.5L474.3 118.6L444.3 116.5L404.3 115.1L394.3 114.3ZM394.3 346.5L402.3 352.1L410.3 359.5L418.1 368.5L428.6 382.5L394.3 382.5Z" fill="#ffcf00"/>
<path d="M394.3 80.5L664.3 80.5L664.3 264.8L660.7 244.5L656.2 226.5L650.9 210.5L644.3 195.5L636.9 182.5L628 170.5L618.3 160.4L607.1 151.5L593.4 143.5L578.3 137L560.3 131.3L537.3 126.1L507.3 121.5L472.3 117.5L444.3 115.6L405.3 114L394.3 113.2ZM394.3 348.5L394.3 347.7L400.3 352L409.3 360.1L416.6 368.5L427.2 382.5L394.3 382.5Z" fill="#ffc400"/>
<path d="M394.3 80.5L664.3 80.5L664.3 258.9L660.5 239.5L655.7 221.5L650 205.5L643.4 191.5L635.4 178.5L626.8 167.5L617.3 158.1L606.3 149.7L592.3 141.9L576.3 135.3L558.3 129.9L535.3 124.8L505.3 120.3L471.3 116.5L444.3 114.6L405.3 113L394.3 112.1ZM394.3 349.5L394.3 349L400.3 353.4L408.3 360.7L415.9 369.5L425.8 382.5L394.3 382.5Z" fill="#ffba00"/>
<path d="M394.3 80.5L664.3 80.5L664.3 253.5L660.3 234.5L655.4 217.5L649.8 202.5L643.3 189.2L635.3 176.5L626.4 165.5L617.1 156.5L606.3 148.5L592.3 140.8L576.3 134.3L558.3 128.9L535.3 123.9L505.3 119.4L472.3 115.7L445.3 113.7L394.3 111ZM394.3 350.5L401.3 355.6L408.3 362.3L414.4 369.5L424.3 382.5L394.3 382.5Z" fill="#ffaf00"/>
<path d="M394.3 80.5L664.3 80.5L664.3 248.4L660.3 230.5L655.5 214.5L649.6 199.5L642.9 186.5L635.1 174.5L626 163.5L616.3 154.5L605.3 146.7L591.3 139.3L575.3 133L557.3 127.8L534.3 122.8L505.7 118.5L472.3 114.7L446.3 112.8L394.3 109.9ZM394.3 352.5L394.3 351.7L401.3 357.1L406.9 362.5L413 369.5L422.9 382.5L394.3 382.5Z" fill="#ffa400"/>
<path d="M394.3 80.5L664.3 80.5L664.3 243.7L659.9 225.5L655.1 210.5L649.3 196.5L642.4 183.5L634.3 171.6L625.5 161.5L616.3 153.2L605.3 145.5L591.3 138.2L575.3 132L557.3 126.8L534.3 121.9L505.3 117.5L473.3 113.9L448.3 111.9L394.3 108.8ZM394.3 353.5L394.3 353L399.3 356.9L406.3 363.5L412.3 370.5L421.5 382.5L394.3 382.5Z" fill="#ff9900"/>
<path d="M394.3 80.5L664.3 80.5L664.3 239.3L660 222.5L655 207.5L649 193.5L642.3 181.4L634.3 169.9L625.3 159.8L615.9 151.5L605.3 144.3L591.3 137.2L575.3 131.1L557.3 125.9L534.3 121L506.3 116.8L474.3 113.1L450.3 111.1L394.3 107.7ZM394.3 354.5L400.3 359.2L405.7 364.5L420.1 382.5L394.3 382.5Z" fill="#ff8e00"/>
<path d="M394.3 80.5L664.3 80.5L664.3 235.1L659.8 218.5L654.5 203.5L648.6 190.5L641.7 178.5L633.7 167.5L624.4 157.5L614.9 149.5L604.3 142.6L590.3 135.7L573.4 129.5L555.3 124.5L532.3 119.8L505.3 115.7L473.3 112.1L448.3 110L394.3 106.6ZM394.3 356.5L394.3 355.8L399.3 359.8L404.3 364.6L418.7 382.5L394.3 382.5Z" fill="#ff8400"/>
<path d="M394.3 80.5L664.3 80.5L664.3 231.1L659.9 215.5L654.4 200.5L648.2 187.5L641.3 176L633.3 165.4L624.3 155.9L615.3 148.5L604.3 141.4L590 134.5L573.3 128.5L555.3 123.6L531.3 118.7L505.3 114.8L474.3 111.2L448.3 109L394.3 105.5ZM394.3 357.5L398.4 360.5L404.3 366.3L417.2 382.5L394.3 382.5Z" fill="#ff7900"/>
<path d="M394.3 80.5L664.3 80.5L664.3 227.2L659.6 211.5L654.3 197.8L648.3 185.5L641.3 174.1L633.3 163.8L624.3 154.5L615.3 147.2L604.3 140.3L589.3 133.2L572.3 127.3L554.3 122.5L529.5 117.5L504.3 113.8L474.3 110.3L445.3 107.9L394.3 104.4ZM394.3 359.5L394.3 358.6L403 366.5L415.8 382.5L394.3 382.5Z" fill="#ff6e00"/>
<path d="M394.3 80.5L664.3 80.5L664.3 223.6L659.6 208.5L654.3 195.3L647.8 182.5L640.7 171.5L632.7 161.5L623.6 152.5L614.3 145.2L603.3 138.6L588.3 131.8L571.3 126L553.3 121.4L528.3 116.4L503.3 112.8L474.3 109.4L394.3 103.3ZM394.3 360.5L394.3 360.1L402.3 367.5L414.4 382.5L394.3 382.5Z" fill="#ff6300"/>
<path d="M394.3 80.5L664.3 80.5L664.3 220.1L659.5 205.5L654.1 192.5L647.8 180.5L640.6 169.5L632.3 159.5L623.3 150.8L614.3 144L603.3 137.5L589.3 131.2L571.3 125.1L553.3 120.5L527.3 115.4L502.3 111.7L473.3 108.4L394.3 102.2ZM394.3 362.5L394.3 361.5L401.3 368L413 382.5L394.3 382.5Z" fill="#ff5800"/>
<path d="M394.3 80.5L664.3 80.5L664.3 216.8L659.4 202.5L653.8 189.5L647.3 177.7L640.3 167.4L632.3 158L623.3 149.5L613.9 142.5L603.3 136.4L589.3 130.2L571.3 124.1L553.3 119.6L527.3 114.5L503.3 110.9L473.3 107.5L394.3 101ZM394.3 363.5L394.3 363L401.1 369.5L411.6 382.5L394.3 382.5Z" fill="#ff4e00"/>
<path d="M394.3 80.5L664.3 80.5L664.3 213.5L659.3 199.5L653.4 186.5L646.5 174.5L639.4 164.5L631.3 155.4L622.5 147.5L613.3 140.9L602.3 134.7L587.3 128.4L569.3 122.6L552.3 118.4L526.3 113.4L502.3 109.9L472.3 106.5L394.3 100ZM394.3 365.5L394.3 364.5L399.5 369.5L410.2 382.5L394.3 382.5Z" fill="#ff4300"/>
<path d="M394.3 80.5L664.3 80.5L664.3 210.4L659.3 196.9L653.5 184.5L647.1 173.5L639.3 162.8L631.3 153.9L622.3 146L613 139.5L602 133.5L587.3 127.4L569.3 121.7L552.3 117.6L526.3 112.5L503.3 109.1L473.3 105.7L394.3 98.9ZM394.3 366.5L394.3 366L399.8 371.5L408.7 382.5L394.3 382.5Z" fill="#ff3800"/>
<path d="M394.3 80.5L664.3 80.5L664.3 207.4L659.3 194.4L653.3 181.9L646.4 170.5L639.3 161.1L631.3 152.5L622.3 144.7L613.3 138.5L602.2 132.5L587.3 126.4L569.3 120.7L552.3 116.7L525.3 111.5L504.3 108.4L473.3 104.7L394.3 97.8ZM394.3 368.5L394.3 367.6L399.3 372.6L407.3 382.5L394.3 382.5Z" fill="#ff2d00"/>
<path d="M394.3 80.5L664.3 80.5L664.3 204.4L659.1 191.5L653.3 179.8L646.9 169.5L639.3 159.5L631.3 151L622.3 143.4L612.3 136.7L601.3 131L586.3 125.1L568.3 119.5L551.3 115.6L524.3 110.4L501.3 107.1L474.3 103.9L394.3 96.8ZM394.3 369.5L394.3 369.2L398.3 373.2L405.9 382.5L394.3 382.5Z" fill="#ff2200"/>
<path d="M394.3 80.5L664.3 80.5L664.3 201.6L659.3 189.5L653.2 177.5L646.3 166.8L639 157.5L630.3 148.6L621.5 141.5L612.3 135.5L601.3 130L586.3 124.1L568.3 118.6L551.3 114.7L523.3 109.4L500.3 106.1L474.3 103L394.3 95.7ZM394.3 371.5L394.3 370.8L404.5 382.5L394.3 382.5Z" fill="#ff1800"/>
<path d="M394.3 80.5L664.3 80.5L664.3 198.8L659 186.5L653.2 175.5L646.3 165L638.6 155.5L630.3 147.2L621.3 140.1L612.3 134.4L601.3 128.9L586.3 123.1L567.6 117.5L550.3 113.6L522.3 108.3L476.3 102.3L394.3 94.7ZM394.3 372.5L403.1 382.5L394.3 382.5Z" fill="#ff0d00"/>
<path d="M394.3 80.5L664.3 80.5L664.3 196.1L658.7 183.5L652.6 172.5L645.7 162.5L638.2 153.5L629.9 145.5L620.9 138.5L611.3 132.7L600.5 127.5L585.3 121.8L567.3 116.5L550.3 112.7L521.3 107.3L473.3 101.1L394.3 93.6ZM394.3 374.5L394.3 374.1L401.6 382.5L394.3 382.5Z" fill="#ff0200"/>
<path d="M394.3 80.5L664.3 80.5L664.3 193.5L658.8 181.5L652.5 170.5L645.5 160.5L637.7 151.5L629.3 143.6L620.3 136.9L611.3 131.5L600.3 126.3L584.3 120.5L566.3 115.3L548.8 111.5L519.3 106.1L473.3 100.2L394.3 92.6ZM394.3 376.5L394.3 375.8L400.2 382.5L394.3 382.5Z" fill="#ff0009"/>
<path d="M394.3 80.5L664.3 80.5L664.3 191L658.9 179.5L652.5 168.5L645.3 158.6L638.2 150.5L630.3 143.1L621.3 136.3L611.5 130.5L600.3 125.3L584.3 119.5L566.3 114.4L548.3 110.5L518.3 105.1L473.3 99.3L394.3 91.6ZM394.3 377.5L398.7 382.5L394.3 382.5Z" fill="#ff0013"/>
<path d="M394.3 80.5L664.3 80.5L664.3 188.5L658.4 176.5L652.3 166.4L645.3 156.9L637.3 148.1L629.3 140.9L620.3 134.4L610.3 128.7L599.3 123.9L583.3 118.3L565.3 113.2L546.3 109.2L517.3 104L473.3 98.4L394.3 90.6ZM394.3 379.5L394.3 379.2L397.2 382.5L394.3 382.5Z" fill="#ff001e"/>
<path d="M394.3 80.5L664.3 80.5L664.3 186.1L658.5 174.5L652.3 164.5L645.3 155.3L637.3 146.6L629.2 139.5L620.3 133.2L610.3 127.6L599.3 122.8L583.3 117.3L565.3 112.3L543.3 107.8L516.3 103L473.3 97.5L394.3 89.6ZM394.3 381.5L394.3 380.9L395.7 382.5L394.3 382.5Z" fill="#ff0029"/>
<path d="M394.3 80.5L664.3 80.5L664.3 183.7L658.5 172.5L652.1 162.5L644.3 152.5L636.6 144.5L628.3 137.5L619.5 131.5L610.3 126.5L598.5 121.5L581.3 115.7L564.3 111.2L539.3 106.2L515.3 102L473.3 96.6L394.3 88.7Z" fill="#ff0029"/>
</g>
<path d="M521.3 279.7L520.3 280.6L519.5 282.5L519.2 284.5L519.5 286.5L523.3 294.1L527.3 299.5L537.3 308L538.3 308.5L548.3 309.1L549.3 308.8L550.3 308L550.7 306.5L549.3 300.5L548.3 298.1L546.1 294.5L541.3 290.5L534.8 286.5L525.3 281.2L522.3 279.8ZM509.3 244.4L498.3 249L496.3 250.5L496 256.5L498 269.5L502.5 280.5L512 296.5L524 319.5L528.3 326.8L532.3 332.6L537.3 340.7L543.3 348.5L551.3 360.7L556.3 367L557.3 367.5L562.3 361.4L565.3 356.9L565.9 355.5L568.1 345.5L569.7 332.5L569.2 319.5L567.3 303.5L564.7 293.5L561.3 283.4L557.8 275.5L553.1 266.5L546.3 257.9L543.3 255.3L532.3 249.6L522.3 245.5L517.3 244.4ZM574.6 382.5L577.4 372.5L580.4 356.5L581 341.5L580.1 323.5L578.5 309.5L574.7 292.5L570 278.5L564.4 267.5L560.3 261.5L554.3 253.5L548.3 246.1L544.3 241.7L541.3 239.1L539 237.5L532.3 233.8L527.5 231.5L523.3 230L514.3 228.1L500.3 227.1L482.6 229.5L480.3 230.2L473.2 234.5L472.5 235.5L469.8 244.5L469.8 245.5L472.5 254.5L474.4 259.5L480.2 267.5L485.4 276.5L490.1 283.5L501.3 299.5L520.2 330.5L533.7 355.5L541.3 372.1L547.2 382.5M586.9 382.5L587.7 371.5L588 357.5L588 342.5L587.7 329.5L586.5 313.5L584.3 299.5L582.5 290.5L577.3 274.3L573.3 265.5L568.4 257.5L563.3 250L557.7 242.5L552.6 236.5L545.2 229.5L542.3 227.4L535.3 223.4L527.1 220.5L518.3 217.9L510.3 216L506.3 215.4L489.3 215.3L476.3 217L445.3 222.2L440.9 223.5L441.5 228.5L443.3 236.5L444.3 242.5L450 252.5L450.7 253.5L456.2 258.5L462.3 264.8L483.3 289.5L490.3 299.5L498.3 313.3L504.7 321.5L510.3 329.5L516.5 339.5L522.3 350.5L528.1 363.5L536 382.5M394.3 222.4L404.3 232.3L408 236.5L411 240.5L412.1 241.5L421 248.5L435.3 256.7L446.3 264.5L461.3 277.5L470.3 286.5L475.7 292.5L483.6 302.5L494.3 317.5L511.7 344.5L516.6 353.5L520.4 361.5L524 370.5L528.1 382.5M593.7 382.5L594.4 347.5L593.8 322.5L591.6 302.5L588 286.5L585 275.5L582.5 268.5L578.3 258.4L573.3 248.3L569.3 242L565.1 236.5L559.3 230.6L553.5 225.5L548.3 221.4L541.3 216.9L529.3 211.6L517 208.5L507.3 206.8L486.3 205.1L479.3 205.1L449.3 209L421.3 211.3L398.4 214.5L394.3 215.4M394.3 247.8L402.3 250.7L414.3 255.9L423.3 260.5L430.3 264.7L442.3 272.8L448.3 277.3L459.3 286.6L469.6 296.5L475 302.5L486.3 316.3L492.2 324.5L497.4 332.5L507.3 349.3L513.7 361.5L518.1 371.5L521.9 382.5M599.4 382.5L600.3 347.5L600.1 327.5L599.4 317.5L598 306.5L596.3 296.5L593.9 285.5L592.2 278.5L588.3 266.3L584.3 256L579.3 245.3L576.7 240.5L571.3 232.7L567.3 228L562.7 223.5L557.3 219L551.1 214.5L545.3 210.9L539.3 207.7L532.3 205.1L524.3 202.6L509.3 200L504.3 199.3L489.3 198.2L464.3 196.8L456.3 197L431.3 198.7L394.3 199.9M394.3 257L403.1 260.5L410.3 263.8L424.3 270.9L433.3 276.3L446.3 285L453.3 290.3L459.3 295.6L468.2 304.5L476.5 313.5L482.3 320.5L488.3 328.7L494 337.5L502.1 351.5L508.3 363.4L512.3 372.4L516 382.5M604.9 382.5L606.1 346.5L606.1 333.5L605 319.5L603.4 305.5L601.6 294.5L599.4 283.5L596.3 272.5L593.7 264.5L589.5 253.5L585.9 245.5L582 238.5L576.3 229.9L570.6 222.5L565.9 217.5L560.3 212.6L555.3 208.9L549.3 205.1L544.4 202.5L535.3 198.8L518.3 194.4L501.3 192.4L458.3 190.1L394.3 188.8M394.3 265.9L403.3 269.3L412.3 273.4L426.5 280.5L435.3 285.5L442.3 290.1L448.3 294.6L457.3 302.3L463.7 308.5L471.3 316.5L478.3 324.8L484.3 332.8L490.7 342.5L497.2 353.5L502.4 363.5L507.3 374.1L510.4 382.5M610.4 382.5L611.3 353.5L611.2 343.5L610.5 328.5L609.3 314.5L607.8 302.5L605.4 287.5L603.3 278.2L600.4 267.5L596.7 256.5L593.4 248.5L590 241.5L584.8 232.5L579.3 224.4L573.3 216.8L567.4 210.5L562.3 206.1L556.3 202L549.3 198.1L542.3 194.9L535.3 192.2L531.3 191.1L513.3 187.4L497.3 185.9L436.3 183.3L394.3 181.9M394.3 273.3L414.3 281.4L422.8 285.5L430.3 289.7L437.3 294.2L446.3 300.8L454.3 307.5L460.3 313.1L467.3 320.6L475.3 330.3L480.7 337.5L488.2 348.5L493.3 357L497.8 365.5L501.9 374.5L504.9 382.5M615.4 382.5L615.8 350.5L615.3 334.5L614.4 320.5L613.2 307.5L611.2 292.5L607 272.5L604.3 262.5L600.8 252.5L597.5 244.5L593.3 236.2L588.2 227.5L582.3 218.9L576.3 211.5L570.5 205.5L565.8 201.5L559.3 196.9L553.3 193.5L546.3 190.3L540.3 188.1L532.3 185.6L512.3 181.5L503.3 180.4L494.3 179.7L454.3 178.3L394.3 175.2M394.3 279.4L404.3 283.3L413.8 287.5L421.6 291.5L430.2 296.5L437.3 301.1L444.3 306.3L450.3 311.3L456 316.5L461.7 322.5L467.3 329.1L478.2 343.5L483.3 350.8L488.3 358.8L493.1 367.5L496.9 375.5L499.5 382.5M619.8 382.5L620 346.5L618.7 318.5L616.4 295.5L612.1 272.5L609 261.5L605.1 249.5L601.3 240.5L597.4 232.5L592.2 223.5L586.3 214.9L581.1 208.5L575.2 202.5L570.3 198.1L565.3 194.2L559.6 190.5L554.3 187.6L547.3 184.7L540.3 182.3L531.3 179.9L523.3 178.3L507.3 175.8L489.3 173.7L447.3 172.3L394.3 169.5M394.3 285.2L409.3 291.6L419.1 296.5L426.3 300.5L434.3 305.7L440.3 310.1L446.3 314.9L452.3 320.4L459.1 327.5L465.1 334.5L471.3 342.5L477.6 351.5L483.3 360.4L487.4 367.5L491.3 375.2L494.4 382.5M624.1 382.5L624.1 342.5L622.9 314.5L621.6 301.5L620.3 291.5L618.6 281.5L616.1 270.5L612.9 258.5L609.7 248.5L605.8 238.5L601.2 228.5L596.3 219.7L591.4 212.5L585.6 205.5L579.3 199L573.3 193.8L567.7 189.5L563.1 186.5L556.3 182.9L550.3 180.3L544.3 178.3L528.3 174.3L509.3 171.3L485.3 168.6L437.3 166.5L394.3 164.1M394.3 291L411.3 298.4L425.3 306.2L438.3 315.2L449.1 324.5L455.8 331.5L461.3 337.7L471 350.5L481.3 367L485.7 375.5L488.9 382.5M628.3 382.5L628.3 341.5L627.2 314.5L626.4 304.5L624.8 292.5L622.4 278.5L620 267.5L616.5 254.5L613.6 245.5L609.2 234.5L604.6 224.5L600.2 216.5L595.3 209.3L589.3 202L583.3 195.8L577.3 190.5L571.3 185.9L565.3 182L559.3 178.8L552.3 175.8L545.3 173.4L528.3 169.5L508.3 166.6L480.3 163.7L433.3 161.5L394.3 159.3M394.3 296.4L410.3 303.7L424.3 311.5L435.6 319.5L446.3 328.9L457.3 340.6L462.3 346.9L467.1 353.5L475.8 367.5L480.3 375.8L483.5 382.5M632.5 382.5L632.5 340.5L631.5 313.5L629.9 299.5L627.9 285.5L626 274.5L623.3 262.5L620.6 252.5L616.9 241.5L612.9 231.5L608.3 221.5L603.3 212.9L597.5 204.5L592.3 198.1L586.3 191.9L580.3 186.6L575 182.5L568.3 178.1L561.7 174.5L555.3 171.8L548.3 169.5L540.3 167.3L533.3 165.8L523.3 164L509.3 162.2L476.3 159L394.3 154.9M394.3 301.7L409.3 308.6L421.5 315.5L432.3 323.2L443.3 332.9L453.2 343.5L462.5 355.5L471.3 369.4L478.1 382.5M636.6 382.5L636.7 341.5L635.9 319.5L634.3 302.5L632.3 287.5L629.9 273.5L627.2 260.5L623.9 248.5L620.3 237.9L616.1 227.5L611.8 218.5L606.5 209.5L601.3 201.9L595.3 194.5L589.3 188.2L583.3 183L577.3 178.5L570.3 173.9L563.9 170.5L559.3 168.4L552.3 166.1L543.3 163.6L534.3 161.5L521.3 159.3L509.3 157.8L472.3 154.4L394.3 150.6M394.3 306.7L407.3 312.9L418.7 319.5L429.3 327.1L439.3 335.9L448.4 345.5L457.3 356.8L465.7 369.5L472.8 382.5M640.7 382.5L640.6 339.5L640.2 327.5L639.3 315.5L637.8 299.5L635.7 283.5L633.3 269.5L630.9 258.5L628 247.5L624.1 235.5L620.1 225.5L615.8 216.5L610.6 207.5L605.2 199.5L598.7 191.5L592.3 184.8L586.3 179.5L579.5 174.5L572.3 170L565.3 166.4L558.3 163.5L551.3 161.3L540.4 158.5L531.3 156.6L518.3 154.5L509.3 153.4L473.3 150.3L461.3 149.4L394.3 146.4M394.3 311.6L406.3 317.6L417.3 324.2L426.3 330.8L435.3 338.7L443.6 347.5L452.4 358.5L460.5 370.5L467.4 382.5M644.6 382.5L644.4 339.5L642.8 311.5L641.2 295.5L639.3 280.7L637 267.5L634.2 254.5L630.9 242.5L627.5 232.5L623.5 222.5L619.2 213.5L614 204.5L608.3 196.2L602.1 188.5L595.4 181.5L589.6 176.5L582.9 171.5L575.3 166.8L567.3 162.8L560.3 159.9L553.3 157.7L543.3 155.1L532.3 152.7L514.3 149.7L478.3 146.4L453.3 144.8L411.3 143.3L394.3 142.4M394.3 316.6L405.3 322.2L414.3 327.7L423.3 334.4L431.4 341.5L438.9 349.5L446.3 358.6L454.7 370.5L461.9 382.5M648.4 382.5L648 339.5L647.4 324.5L646.3 308.5L644.5 290.5L642.6 276.5L640.5 264.5L637.6 251.5L634.3 239.6L630.5 228.5L626.9 219.5L622.5 210.5L617.4 201.5L611.9 193.5L606.3 186.5L599.6 179.5L592.9 173.5L586.3 168.6L579.3 164.2L571.3 160.1L564.3 157.2L555.3 154.2L545.3 151.5L534.3 149.1L510.3 145.1L479.3 142.3L446.3 140.3L408.3 139.3L394.3 138.5M394.3 321.5L403.7 326.5L412.3 331.9L420.3 337.9L427.7 344.5L435.2 352.5L442.3 361.3L449.5 371.5L456.4 382.5M652.1 382.5L651.6 339.5L649.9 307.5L648.3 290.5L646.7 277.5L644.4 264.5L641.9 252.5L638.5 239.5L634.6 227.5L630.6 217.5L626.4 208.5L621.3 199.5L616 191.5L610.3 184.3L603.3 176.9L597.2 171.5L590.3 166.3L582.7 161.5L575.1 157.5L566.3 153.8L557.3 150.8L548.3 148.3L536.3 145.7L522.3 143.2L506.3 140.8L482.3 138.5L447.3 136.3L405.3 135.3L394.3 134.6M394.3 326.4L403.3 331.4L410.3 336L417.5 341.5L424.3 347.7L430.7 354.5L438 363.5L444.4 372.5L450.9 382.5M655.7 382.5L655.2 338.5L654.6 322.5L653.5 305.5L652.1 290.5L650.3 276.5L648.2 263.5L645.5 250.5L642.4 238.5L638.9 227.5L634.7 216.5L630.1 206.5L625.2 197.5L620 189.5L613.6 181.5L607 174.5L600.3 168.6L593.3 163.3L586.3 158.9L578 154.5L570.3 151.2L561.3 148.1L550.3 144.9L539.6 142.5L527.3 140.2L510.3 137.6L499.3 136.1L484.3 134.7L448.3 132.4L404.3 131.4L394.3 130.7M394.3 331.3L401.6 335.5L408.3 340L414.3 344.7L420.5 350.5L426.3 356.6L432.8 364.5L438.7 372.5L445.3 382.5M659.3 382.5L658.8 336.5L658.1 319.5L657 302.5L655.7 288.5L653.8 274.5L651.3 259.7L648.7 247.5L645.3 234.5L641.8 223.5L637.9 213.5L633.3 203.5L628.4 194.5L623.1 186.5L617.3 179.1L610.3 171.7L603.3 165.5L596.5 160.5L589.3 155.9L581.3 151.7L573.3 148.3L564.3 145L552.3 141.6L542.3 139.3L529.3 136.8L511.3 134L496.3 132L480.3 130.5L464.3 129.3L445.3 128.3L404.3 127.4L394.3 126.7M394.3 336.2L400.3 339.8L406.3 344L411.8 348.5L417.3 353.7L422.6 359.5L428.4 366.5L434.3 374.4L439.8 382.5M662.8 382.5L662.3 335.5L661.6 317.5L660.5 301.5L659 286.5L657.1 271.5L654.7 257.5L652.2 245.5L649.1 233.5L645.4 221.5L641.1 210.5L636.5 200.5L631.4 191.5L626.1 183.5L619.8 175.5L613.3 168.7L606.3 162.5L599.5 157.5L592.3 153L584.3 148.8L575.3 145L565.3 141.4L555.3 138.5L544.3 135.9L529.3 133L514.3 130.7L494.3 128.1L482.3 126.9L443.3 124.2L426.3 123.6L403.3 123.4L394.3 122.7M664.3 304.3L661.3 275.5L659.3 262.3L657.1 250.5L654.5 238.5L651.7 228.5L648.5 218.5L645.1 209.5L641.3 201L636.9 192.5L632.3 185.1L627.3 178L621.9 171.5L616.1 165.5L610.3 160.4L603.3 155.1L596.3 150.7L589.3 146.9L581.9 143.5L573.3 140.2L563.3 136.9L554.5 134.5L543.3 131.9L531.3 129.7L502.3 125.4L475.3 122.5L443.3 120.4L404.3 119.3L394.3 118.5M394.3 341.2L404.3 348.1L409.3 352.3L413.7 356.5L423.2 367.5L434.2 382.5M664.3 271.2L662.6 259.5L660.3 247.5L658.1 237.5L655.5 227.5L652.7 218.5L649.4 209.5L646 201.5L642.1 193.5L638.1 186.5L633.3 179.1L628.3 172.5L623.3 166.8L618 161.5L612.3 156.6L606.3 152.2L599.3 147.8L592.3 144L584.3 140.4L576.3 137.3L567.3 134.3L549.3 129.5L526.3 125.1L499.3 121.3L473.3 118.5L443.3 116.5L405.3 115.1L394.3 114.3M394.3 346.4L402.7 352.5L410.3 359.5L418.1 368.5L428.6 382.5M664.3 248.4L659.7 228.5L654.4 211.5L648.2 196.5L644.3 188.9L640.3 182.1L635.9 175.5L631.3 169.5L626.3 163.8L621.3 158.9L616.3 154.5L610.3 150L604.3 146.1L597.3 142.2L590.3 138.8L582.3 135.5L566.3 130.2L546.3 125.2L525.3 121.3L496.3 117.3L467.3 114.3L444.3 112.6L405.3 110.8L394.3 109.9M394.3 351.7L401.3 357.1L407.3 362.9L413.8 370.5L422.9 382.5M664.3 231.1L659.3 213.7L653.5 198.5L650.3 191.5L646.5 184.5L642.3 177.5L638.3 171.7L634.2 166.5L629.3 160.9L624.3 155.9L619.2 151.5L613.9 147.5L607.9 143.5L602.3 140.3L595.3 136.8L580.3 130.8L564.3 125.9L544.3 121.2L523.3 117.4L497.3 113.8L470.3 110.9L444.3 108.7L408.3 106.6L394.3 105.5M394.3 357.2L399.5 361.5L404.5 366.5L417.2 382.5M664.3 216.8L659 201.5L652.8 187.5L649.3 181.1L645.3 174.5L637.3 163.6L628.3 153.9L623.3 149.5L618.3 145.5L613.3 142.1L607.3 138.5L595.1 132.5L579.3 126.6L563.3 121.9L544.3 117.7L521.3 113.5L498.3 110.3L472.3 107.4L394.3 101M394.3 363L401.3 369.7L411.6 382.5M664.3 204.4L658.7 190.5L652 177.5L644.8 166.5L636.3 156.1L627.3 147.4L617.3 139.8L606.4 133.5L594.3 128L578.5 122.5L563.3 118.3L543.3 113.9L519.3 109.6L496.8 106.5L471.3 103.6L394.3 96.8M394.3 369.2L399.3 374.4L405.9 382.5M664.3 193.5L658.3 180.6L651.9 169.5L644.3 159L635.8 149.5L626.7 141.5L617.3 134.9L606.3 129L594.3 124L578.3 118.6L563.3 114.6L543.3 110.4L518.3 105.9L497.3 103L472.3 100.1L394.3 92.6M394.3 375.8L400.2 382.5M664.3 183.7L658.3 172.2L651.4 161.5L643.4 151.5L635.3 143.3L626.3 136L617.3 130.2L606.3 124.7L593.3 119.6L577.3 114.6L562.3 110.7L536.3 105.6L514.3 101.8L473.3 96.6L402.3 89.2L394.3 88.7M664.3 174.7L657.8 163.5L650.6 153.5L642.6 144.5L634.3 136.9L625.7 130.5L616.3 125L606.3 120.4L593.3 115.7L577.3 110.8L562.3 107.1L534.3 101.7L512.3 98L474.3 93.2L404.3 85.6L394.3 84.8M664.3 166.3L658 156.5L650.3 146.7L642.5 138.5L634.3 131.6L626.3 126L617.3 121L607 116.5L594.3 112L578.3 107.3L564.3 103.8L534.3 98.2L513.3 94.7L476.3 89.8L407.3 82.1L394.3 81.1M664.3 158.5L658 149.5L651.3 141.5L644.3 134.5L636.3 127.9L628.3 122.4L620.3 118L610.3 113.6L599.3 109.7L581.9 104.5L567.3 100.8L526.3 93.3L506.3 90.2L489.3 87.9L425.4 80.5M664.3 151.2L658.5 143.5L652.3 136.5L645.3 129.8L638.3 124.2L631.3 119.5L623.3 115L615.3 111.4L605.3 107.6L595.3 104.5L581.3 100.6L570.3 97.9L559.3 95.6L530.3 90.5L508.3 87L456.9 80.5" fill="none" stroke="#828282" stroke-width="1.55"/>
<path d="M431.5 84.5V377.9M496.7 84.5V377.9M561.8 84.5V377.9M627.0 84.5V377.9M398.3 345.0H659.4M398.3 312.4H659.4M398.3 279.7H659.4M398.3 247.0H659.4M398.3 214.4H659.4M398.3 181.7H659.4M398.3 149.1H659.4M398.3 116.4H659.4" fill="none" stroke="#000" stroke-width="0.9" stroke-dasharray="0.9 1.2" stroke-opacity="0.6"/>
</g>
<rect x="398.3" y="84.5" width="261.1" height="293.4" fill="none" stroke="#000" stroke-width="1.3"/>
<path d="M431.5 84.5V80.9M431.5 377.9V381.5M496.7 84.5V80.9M496.7 377.9V381.5M561.8 84.5V80.9M561.8 377.9V381.5M627.0 84.5V80.9M627.0 377.9V381.5M398.3 377.7H394.7M659.4 377.7H663.0M398.3 345.0H394.7M659.4 345.0H663.0M398.3 312.4H394.7M659.4 312.4H663.0M398.3 279.7H394.7M659.4 279.7H663.0M398.3 247.0H394.7M659.4 247.0H663.0M398.3 214.4H394.7M659.4 214.4H663.0M398.3 181.7H394.7M659.4 181.7H663.0M398.3 149.1H394.7M659.4 149.1H663.0M398.3 116.4H394.7M659.4 116.4H663.0" stroke="#000" stroke-width="1.2"/>
<rect x="404.3" y="94.7" width="145" height="23" rx="4" ry="4" fill="#d3d3d3" fill-opacity="0.85" stroke="#000" stroke-width="1.3"/>
<text x="409.5" y="110.2" font-size="15" font-weight="bold">Template fit vs 10<tspan font-style="italic">μ</tspan>m</text>
<path d="M545.00 294.40L546.39 298.68L550.90 298.68L547.25 301.33L548.64 305.62L545.00 302.97L541.36 305.62L542.75 301.33L539.10 298.68L543.61 298.68Z" fill="#fff" stroke="#000" stroke-width="1.45" stroke-linejoin="miter"/>
<path d="M528.40 313.60L522.10 326.20L534.70 326.20Z" fill="#fff" stroke="#000" stroke-width="1.45" stroke-linejoin="miter"/>
<path d="M516.20 261.50L521.74 264.70L521.74 271.10L516.20 274.30L510.66 271.10L510.66 264.70Z" fill="#fff" stroke="#000" stroke-width="1.45" stroke-linejoin="miter"/>
<path d="M562.00 313.80L574.40 313.80L574.40 326.20L562.00 326.20Z" fill="#fff" stroke="#000" stroke-width="1.45" stroke-linejoin="miter"/>
<circle cx="539.8" cy="292.4" r="8.0" fill="#fff" stroke="#000" stroke-width="1.5"/>
<g clip-path="url(#c2)">
<g>
<path d="M84.4 403.5H354.4V705.5H84.4Z" fill="#a700ff"/>
<path d="M84.4 403.5L354.4 403.5L354.4 705.5L84.4 705.5ZM280.4 549.1L279.7 549.5L280.2 550.5L281.4 551.1L282.1 550.5Z" fill="#9c00ff"/>
<path d="M84.4 403.5L354.4 403.5L354.4 705.5L84.4 705.5ZM276.4 520.5L274.4 521.4L272 525.5L271.7 535.5L274 544.5L276.4 549.5L283.4 558.8L293.4 567.1L309.4 572.8L310.4 572.5L312.4 567.8L313.5 562.5L311.6 556.5L309.4 552.8L300.3 540.5L286.4 526.4L280.4 521.7L277.6 520.5Z" fill="#9100ff"/>
<path d="M84.4 403.5L354.4 403.5L354.4 705.5L84.4 705.5ZM271.4 508.2L265.5 511.5L264.7 515.5L264.2 524.5L264.3 526.5L268.2 539.5L271.6 546.5L282.4 562.4L287.4 568.6L302.4 583.4L312.4 587.4L315.4 587.9L316.4 587.6L320.4 584.8L320.8 566.5L319.2 557.5L316.7 548.5L314.4 541.2L311.4 534.9L299.8 518.5L295.4 515L289.4 511.5L282.4 509L276.4 507.8Z" fill="#8600ff"/>
<path d="M84.4 403.5L354.4 403.5L354.4 705.5L84.4 705.5ZM266.4 502.5L262.4 503.5L261.4 504.3L258.2 510.5L257.1 517.5L262.6 535.5L266.8 543.5L276.5 557.5L284.4 570L291.4 579.5L300 588.5L309.4 599.5L313.4 601.2L316.4 601.9L321.4 599.7L322.4 598.6L325 591.5L325.6 569.5L323.4 557.1L320.4 546.5L310.8 520.5L308.4 517.6L301.4 512.3L290.4 506.5L283.4 504.1L275.4 502.3L270.4 501.9Z" fill="#7b00ff"/>
<path d="M84.4 403.5L354.4 403.5L354.4 705.5L84.4 705.5ZM266.4 497.4L258.4 499L256.2 500.5L255.1 501.5L250.8 509.5L250.6 512.5L256.9 531.5L263 542.5L275.2 559.5L285.4 576.5L294.4 589.9L304.4 601.3L314.4 614.7L317.4 615.7L322.4 613.8L323.4 612.9L329.2 599.5L329.8 588.5L329 572.5L327 560.5L323.9 548.5L319.2 534.5L314.6 523.5L309.4 515.6L306.5 512.5L302.4 509.2L294.4 504.3L288.4 501.3L281.4 498.6L274.4 497.3L269.4 497Z" fill="#7000ff"/>
<path d="M84.4 403.5L354.4 403.5L354.4 705.5L84.4 705.5ZM265.4 492.4L255.4 494.5L248 499.5L244.1 506.5L244.3 508.5L251.3 528.5L258.5 540.5L274.4 562.5L286.4 583.3L296.4 599.3L307.2 612.5L317.4 627.6L318.4 628.1L323.4 628L324.4 627.4L325.6 625.5L332.4 609.6L333 607.5L333.2 603.5L332.5 582.5L331.5 570.5L328 553.5L322.4 535.5L317.4 524.5L313.4 518.2L307.4 510.3L300.4 504.3L291.4 499.3L281.4 495.3L270.4 492.4L267.4 492.1Z" fill="#6500ff"/>
<path d="M84.4 403.5L354.4 403.5L354.4 705.5L84.4 705.5ZM259.4 488.5L253.4 489.7L251.5 490.5L240.4 497.9L238.2 501.5L237.9 502.5L239.1 508.5L245.2 524.5L254.5 539.5L266.2 554.5L272.4 563.5L278.4 573.5L287.4 590.3L298.4 608.5L308.1 621.5L318.4 638.3L320.4 641.2L324.4 641.7L325.4 640.7L330.4 632.7L334.4 623L335.9 613.5L336 606.5L335.1 578.5L333.7 567.5L331.9 558.5L329.1 547.5L324.2 534.5L319 523.5L311.4 512.4L305.4 505.3L297.9 499.5L295.4 497.8L289.4 495L278.4 491.2L266.4 488.6Z" fill="#5a00ff"/>
<path d="M84.4 403.5L354.4 403.5L354.4 705.5L84.4 705.5ZM249.4 485.4L232.3 496.5L231.5 497.5L231.3 498.5L233.5 507.5L239.7 522.5L249.7 537.5L263.4 554.6L271.4 566L277.6 576.5L288.4 597.3L294.6 607.5L300.4 618.2L309.2 631.5L322.4 655.2L323.4 656.7L325.4 657.1L335.2 640.5L336 638.5L338.6 619.5L338.8 607.5L337.9 578.5L335.5 562.5L331.3 547.5L324.4 529.5L317.9 518.5L307.4 504.6L302.4 499.9L292.4 493.1L283.4 489.5L272.3 486.5L264.4 485.3Z" fill="#5000ff"/>
<path d="M84.4 403.5L354.4 403.5L354.4 705.5L84.4 705.5ZM244.4 482.4L241.6 483.5L225.1 494.5L224.8 495.5L225 496.5L228.5 507.5L234.4 520.5L245.5 536.5L263.5 558.5L273.4 573.5L289.4 604.2L295.8 615.5L301.4 627L310.4 642.5L325.4 674.4L326.4 674.7L337.4 654L341.2 627.5L341.5 610.5L340.8 581.5L339.4 570.2L334.7 551.5L327.9 532.5L321.3 520.5L309.7 504.5L302.4 497L294.4 491.6L285.4 486.9L272.4 483.4L263.4 482.2Z" fill="#4500ff"/>
<path d="M84.4 403.5L354.4 403.5L354.4 705.5L84.4 705.5ZM241.4 479.5L234.4 481.3L223.4 488.5L219.4 491.8L219 495.5L222.9 506.5L229 518.5L235.2 526.5L241.4 535.5L261.4 559.4L267.7 568.5L273.7 578.5L295.8 621.5L303.4 638.3L310.2 651.5L315.7 664.5L326.4 693.1L327.4 694.6L328.4 693.5L338.4 671.6L341.7 651.5L343.9 632.5L344.2 606.5L343.4 581.5L338.8 558.5L335.4 547L331.3 535.5L324.7 522.5L314.4 507.5L306.4 498L301.4 493.5L297 490.5L290 486.5L282.4 483L272.4 480.4L262.4 479.1L243.4 479.1Z" fill="#3a00ff"/>
<path d="M84.4 403.5L354.4 403.5L354.4 705.5L333.1 705.5L339.4 690.8L344.4 659L346.2 643.5L346.9 613.5L346.6 592.5L344.4 575.5L340.3 556.5L333.9 536.5L327.3 523.5L317.4 508.6L307.5 496.5L299.4 489.3L288.4 483.1L276.4 478.3L262.4 476.2L254.4 476.1L240.4 476.2L227.4 479.1L220 483.5L213.4 488.7L212.8 489.5L212.5 494.5L217.6 506.5L222.4 515.5L230.1 524.5L237.4 534.5L258.7 559.5L266.4 570.6L273.9 583.5L296.4 628.5L309 657.5L313.5 669.5L320.4 692.7L325.1 705.5L84.4 705.5Z" fill="#2f00ff"/>
<path d="M84.4 403.5L354.4 403.5L354.4 705.5L341.3 705.5L347.1 665.5L348.5 653.5L349.4 606.5L348 587.5L345.2 569.5L341.5 553.5L336.7 538.5L330.5 525.5L321.4 511.1L311.4 498.1L302.4 489.1L297.4 485.3L294.2 483.5L288.1 480.5L280.4 477.4L270.4 474.4L257.4 473.3L237.1 473.5L218.4 477.4L216.4 478.5L205.9 486.5L205.6 493.5L211.4 505.5L216.3 513.5L225.4 523.4L232.4 532.5L250.9 553.5L257.4 561.5L266.4 574.8L276.3 592.5L295.4 631.8L300.8 644.5L311.1 672.5L320.3 705.5L84.4 705.5Z" fill="#2400ff"/>
<path d="M84.4 403.5L354.4 403.5L354.4 705.5L345.1 705.5L349.5 674.5L350.6 663.5L351.7 616.5L350.1 590.5L347.6 572.5L343.8 554.5L341 544.5L339 539.5L333.4 527L324.4 512.3L314.4 498.8L304.4 488.2L295.4 481.5L284.4 476.7L269.4 471.9L258.4 470.5L233.4 470.9L209.8 475.5L198.2 483.5L198 492.5L206.1 505.5L211.2 512.5L221.4 522.8L229.2 532.5L248.8 554.5L255.3 562.5L263.6 574.5L273.5 591.5L287.4 619.5L299.5 647.5L309.6 678.5L316.9 705.5L84.4 705.5Z" fill="#1900ff"/>
<path d="M84.4 403.5L354.4 403.5L354.4 705.5L348.9 705.5L352.5 675.5L353.6 645.5L353.7 622.5L352.1 592.5L349.7 574.5L347.1 560.5L343.9 547.5L340.2 537.5L334 524.5L324 508.5L314 495.5L303.4 484.8L294.4 478.6L284.4 474.4L269.4 469.8L262.4 468.3L257.4 467.8L230.4 468.3L201.4 473.7L189.4 480.9L189 481.5L190.1 491.5L196 498.5L205 510.5L212.4 517.1L218.4 523.3L250.8 560.5L260.3 573.5L270.5 590.5L277.7 603.5L283 614.5L298.2 650.5L304.1 668.5L313.7 705.5L84.4 705.5Z" fill="#0900ff"/>
<path d="M84.4 403.5L354.4 403.5L354.4 599.8L352.1 578.5L348.5 558.5L345.4 546.6L339.6 531.5L331.4 516.6L321.2 501.5L310.4 488.8L301.4 480.8L292.4 475.3L282.4 471.4L268.3 467.5L254.4 465.2L227.4 465.6L208.4 468.8L188.9 472.5L178.4 478.5L180 485.5L183.1 491.5L189.1 497.5L199.3 509.5L208.4 517L215.1 523.5L243 554.5L251.4 564.9L257.4 573.2L272.3 597.5L278.2 608.5L283.7 620.5L289.6 634.5L297.7 655.5L303.6 674.5L308.4 697.1L310.7 705.5L84.4 705.5ZM354.3 688.5L354.4 687.9L354.4 705.5L352.3 705.5Z" fill="#0400ff"/>
<path d="M84.4 403.5L354.4 403.5L354.4 583.6L352.4 569.1L349.2 553.5L344 537.5L338 524.5L327.4 507.1L316.4 492.7L306.4 482.4L301.4 478.6L294.9 474.5L290.4 472.2L280.4 468.8L269.4 465.9L260.4 464.1L250.4 462.9L229.4 462.9L222.4 463.3L177.6 470.5L171.5 472.5L165.1 475.5L166.8 479.5L171.3 485.5L174.4 490.5L182.4 497.3L192 507.5L201.4 514.5L209.4 521.5L224.2 536.5L236.4 549.7L253.5 571.5L268.3 594.5L274.1 604.5L279.5 615.5L291.4 644.5L297.8 662.5L301.4 674.5L308.1 705.5L84.4 705.5Z" fill="#0007ff"/>
<path d="M84.4 403.5L354.4 403.5L354.4 571.8L351.6 556.5L345.8 537.5L340.5 525.5L333.1 512.5L322.7 497.5L312.3 485.5L306.9 480.5L301.4 476.3L291.4 470.7L285.8 468.5L275.4 465.5L255.4 461.5L246.4 460.6L228.4 460.6L217.4 461L182.4 466.4L160.4 469L147.6 472.5L158 481.5L166.3 490.5L174.4 496.5L185.3 506.5L194.4 512.5L201.4 517.9L219.4 534.7L237.1 553.5L254.3 576.5L265.5 593.5L271.4 603.5L278 616.5L284 630.5L290.5 647.5L298.4 671.5L302 685.5L306.1 705.5L84.4 705.5Z" fill="#0012ff"/>
<path d="M84.4 403.5L354.4 403.5L354.4 562.3L349.4 543.1L344.8 530.5L337.5 516.5L328.4 502.2L318.4 489.4L308.4 479.5L300.4 473.5L287.4 467.1L270.7 462.5L253.4 459.4L241.4 458.4L216.4 458.5L200.4 460.1L169.4 464.4L132.4 467.4L129.4 468.1L127.3 469.5L142.4 478.3L149.4 483.6L155.7 489.5L165.4 495.4L176.7 504.5L190.4 512.9L199.3 519.5L215.4 533.8L225.3 543.5L233.8 552.5L241 561.5L265.4 596.9L272.4 609.2L278.8 622.5L285.2 638.5L292.8 660.5L299.3 682.5L304.2 705.5L84.4 705.5Z" fill="#001dff"/>
<path d="M84.4 403.5L354.4 403.5L354.4 555.9L348.5 535.5L344.4 525.7L336.4 511.1L326.4 496.3L317.4 485.5L307.5 476.5L298.5 470.5L285.4 464.5L269.4 460.4L252.4 457.5L235.4 456.2L212.4 456.3L155.4 462.1L105.8 464.5L97.1 465.5L96.2 466.5L117.4 473.8L128 478.5L136.4 483.3L143.6 488.5L158.4 496.3L168.5 503.5L177.4 508L186.4 513.4L196.4 520.5L212.4 534L225.4 546.3L233 554.5L240.9 564.5L251.5 580.5L263 596.5L270 608.5L276 620.5L283 637.5L291.3 661.5L298 685.5L302.2 705.5L84.4 705.5Z" fill="#002dff"/>
<path d="M84.4 403.5L354.4 403.5L354.4 550.1L350.1 535.5L347.4 528.5L343.4 519.9L334.4 504.6L325 491.5L315.4 481.1L305.4 472.9L297.4 468L284.4 462.3L270.4 458.8L255.4 456.2L227.4 453.9L206.4 454.2L172.4 457.3L138.4 459.5L100.4 460.3L84.4 459.9ZM84.4 472.5L84.4 472.2L89.4 472.7L97.2 474.5L106.6 477.5L116.4 481.3L131 488.5L145.4 494.3L159.7 502.5L175.4 509.8L189.4 518.5L207.4 532.5L218.9 542.5L228.4 551.9L238.8 564.5L249.3 580.5L259.7 594.5L267.1 606.5L273.7 619.5L281.3 637.5L290 663.5L296.2 686.5L300.3 705.5L84.4 705.5Z" fill="#0033ff"/>
<path d="M84.4 403.5L354.4 403.5L354.4 544.6L349 528.5L342.4 514.4L333.9 500.5L324.4 487.8L316.3 479.5L304.4 470.2L295.4 465.1L282.4 459.8L266.4 456.2L250.4 453.8L221.4 451.8L202.4 451.9L167.4 454.8L142.4 455.9L113.4 456.2L84.4 455.6ZM84.4 479.5L84.4 479.2L88.4 479.9L96.4 481.9L112 487.5L130.4 493L139.4 496.6L147.4 500.5L162.6 506.5L171.4 510.6L184.4 518.2L203.4 531.7L216.4 542.5L226.4 552.2L237.5 565.5L258.4 595.5L265.8 607.5L272.5 620.5L279.4 636.8L286.5 657.5L293 680.5L298.4 705.5L84.4 705.5Z" fill="#003eff"/>
<path d="M84.4 403.5L354.4 403.5L354.4 539.3L348.9 524.5L342.4 510.8L334.4 498L325.7 486.5L316.4 477.5L304.4 468.3L294.4 462.8L280.4 457.4L266.4 454.4L249.4 451.9L213.4 449.6L197.4 449.6L164.4 452.1L139.4 453L111.4 453.1L84.4 452.2ZM84.4 486.5L103.4 489.9L119.4 494L152.4 505.2L166.4 511L181.4 519.1L198.7 530.5L212.6 541.5L224.4 552.5L235.4 565.5L254.5 592.5L263.4 606.5L271.4 621.9L279.4 641.1L285.9 660.5L291.9 682.5L296.5 705.5L84.4 705.5Z" fill="#004eff"/>
<path d="M84.4 403.5L354.4 403.5L354.4 534.9L348.3 519.5L341.4 505.6L332.8 492.5L325.4 483.6L314.2 473.5L303.4 465.7L294.4 460.9L280.4 455.7L265.4 452.5L247.4 450L205.4 447.4L191.4 447.3L160.4 449.3L136.4 450.1L110.4 449.9L84.4 448.9ZM84.4 491.5L84.4 490.7L99.4 493.5L130.4 501.1L148.6 506.5L165.4 513.2L178.4 519.8L195.6 530.5L209.9 541.5L222 552.5L232.4 564.3L248.1 585.5L261.5 606.5L270 622.5L278 641.5L284.7 661.5L291.1 685.5L295 705.5L84.4 705.5Z" fill="#0053ff"/>
<path d="M84.4 403.5L354.4 403.5L354.4 530.6L349.4 518.3L343.4 505.7L337.8 496.5L331.2 487.5L323.4 479.4L313.4 470.8L304.5 464.5L296.4 460.1L285.4 455.8L274.2 452.5L257.4 449.6L238.4 447.6L186.4 445L156.4 446.6L135.4 447.1L111.4 446.8L84.4 445.7ZM84.4 495.5L84.4 494.8L106.4 498.6L129.4 503.5L146.4 508.3L162.4 514.2L175.4 520.5L193.4 531.2L208.4 542.5L220.4 553.3L233.4 568L246.5 585.5L258.4 604.1L268.4 622.8L276.4 641.5L282.9 660.5L289.6 685.5L293.6 705.5L84.4 705.5Z" fill="#0064ff"/>
<path d="M84.4 403.5L354.4 403.5L354.4 526.9L349.4 514.7L343.4 502.4L339.4 495.6L333.5 487.5L324.9 478.5L315.4 470.3L305.7 463.5L296.4 458.5L285.9 454.5L274.4 451L262.4 448.8L244.4 446.3L178.4 442.7L153.4 443.8L133.4 444.1L111.4 443.7L84.4 442.4ZM84.4 498.5L84.4 497.7L92.4 498.8L126.4 505L143.5 509.5L160.3 515.5L172.4 521.2L191.4 532L207.4 543.8L219.3 554.5L231.4 567.9L245.7 586.5L257.5 605.5L267 623.5L274.8 641.5L281.4 660.5L287.7 683.5L292.2 705.5L84.4 705.5Z" fill="#0069ff"/>
<path d="M84.4 403.5L354.4 403.5L354.4 523.3L349.5 511.5L344.4 501L340.4 493.9L335.4 487.1L326.1 477.5L315.4 468.5L305.4 461.7L295.4 456.5L284.4 452.5L272.4 449.1L258.4 446.7L241 444.5L169.4 440.5L128.4 441L84.4 439.3ZM84.4 500.5L84.4 499.7L91.4 500.7L109.4 503.5L123.4 506.3L142.4 511.3L158.4 516.9L177.4 525.9L188.9 532.5L205.4 544.4L217.4 555L229.2 567.5L243.4 585.5L253.4 601.2L262.9 618.5L272 638.5L279.3 658.5L286.3 683.5L290.8 705.5L84.4 705.5Z" fill="#0074ff"/>
<path d="M84.4 403.5L354.4 403.5L354.4 519.8L349.1 507.5L343.4 496.2L339.5 489.5L335.4 484.8L326.1 475.5L315.2 466.5L305.4 460L295.4 455L284.4 451.1L271.4 447.4L242.4 443.1L219.4 441.5L167.4 438.7L119.4 437.8L84.4 436.2ZM84.4 502.5L84.4 501.6L92.4 502.7L108.4 505.2L122.4 508L141.4 513L158.4 519.1L176.4 527.4L188.7 534.5L204.4 545.8L219.7 559.5L232.4 573.6L243.9 588.5L253.2 603.5L262.8 621.5L271.6 641.5L278.4 660.5L285.4 685.5L289.4 705.5L84.4 705.5Z" fill="#0084ff"/>
<path d="M84.4 403.5L354.4 403.5L354.4 516.3L349.2 504.5L343.4 493.5L339.4 487.4L334.4 481.6L324.9 472.5L314.4 464.1L304.4 457.8L294.4 453L282.4 449L269.4 445.5L241.4 441.6L163.4 436.9L84.4 433.6ZM84.4 503.5L108.4 507L130.4 511.8L147.4 516.9L166.1 524.5L180.3 531.5L194.4 540.4L205.4 548.7L219.4 561.3L233.8 577.5L243.4 590L251.7 603.5L262.2 623.5L271.2 644.5L277.5 662.5L284 685.5L288 705.5L84.4 705.5Z" fill="#008fff"/>
<path d="M84.4 403.5L354.4 403.5L354.4 513L349.2 501.5L344.3 492.5L338.4 484.2L332.4 477.5L323.4 469.3L313.4 461.7L304.4 456.2L294.4 451.5L282.1 447.5L267.4 443.7L239.4 440L160.4 435.3L84.4 431.9ZM84.4 505.5L84.4 505.1L103.4 508L126.4 512.7L143.4 517.6L162.4 524.7L176.6 531.5L191.4 540.4L202.5 548.5L217.5 561.5L232.4 577.8L242.1 590.5L250.4 603.7L260.7 623.5L268.1 640.5L276.4 663.5L282.8 686.5L286.7 705.5L84.4 705.5Z" fill="#0095ff"/>
<path d="M84.4 403.5L354.4 403.5L354.4 509.6L349 498.5L344.4 490.5L337.4 481.1L330.4 473.7L321.4 465.8L312.4 459.3L303.4 454L293.4 449.6L280 445.5L265.4 442L238.4 438.5L156.4 433.7L84.4 430.2ZM84.4 507.5L84.4 506.8L99.4 509.1L124.4 514.1L140.4 518.6L161.4 526.1L174.4 532.3L190.1 541.5L205.1 552.5L216.4 562.5L231.2 578.5L240.6 590.5L249.4 604.5L259.4 624L267 641.5L275.2 664.5L281.4 686.5L285.4 705.5L84.4 705.5Z" fill="#00a0ff"/>
<path d="M84.4 403.5L354.4 403.5L354.4 506.7L348.8 495.5L344.4 488.5L337.4 479.2L330 471.5L322.1 464.5L312.4 457.5L303.4 452.5L293.4 448.2L279.4 444L263.4 440.2L237.4 437L84.4 428.5ZM84.4 509.5L84.4 508.6L105.4 512L121.4 515.2L144.4 521.7L159.4 527.1L173.1 533.5L189.4 543L203.4 553L215.3 563.5L229.4 578.4L238.4 589.7L247.3 603.5L256.2 620.5L264.8 639.5L272 659.5L279.5 684.5L284.1 705.5L84.4 705.5Z" fill="#00aaff"/>
<path d="M84.4 403.5L354.4 403.5L354.4 503.9L349 493.5L343.4 485.1L336.7 476.5L329.4 469.1L320.4 461.4L312.4 455.8L303.4 450.9L293.4 446.8L279 442.5L261.4 438.5L236.4 435.5L84.4 427ZM84.4 510.5L104.4 513.6L122.4 517.3L143.4 523.1L158.6 528.5L176.4 537.1L192.4 546.9L203.4 554.9L214.2 564.5L227.7 578.5L237.4 590.5L246.4 604.4L254.8 620.5L263.4 639.5L270 657.5L278.4 685.4L282.8 705.5L84.4 705.5Z" fill="#00bbff"/>
<path d="M84.4 403.5L354.4 403.5L354.4 501.1L349.7 492.5L342.9 482.5L336.4 474.4L329.4 467.3L321.4 460.5L312.9 454.5L303.4 449.4L293.4 445.4L279.4 441.3L261.4 437.2L235.4 434.1L84.4 425.5ZM84.4 512.5L84.4 512.1L104.4 515.4L128.4 520.6L145.4 525.4L159.4 530.6L176.4 538.9L193.4 549.3L204.4 557.6L217.4 569.5L229.4 582.4L238.6 594.5L247.3 608.5L255.8 625.5L263.6 643.5L270 661.5L277.6 687.5L281.5 705.5L84.4 705.5Z" fill="#00c6ff"/>
<path d="M84.4 403.5L354.4 403.5L354.4 498.5L349.1 489.5L341.4 478.6L335.4 471.5L328.4 464.7L319.6 457.5L311.4 452L302.5 447.5L293.4 444L278.4 439.7L260.4 435.7L233.4 432.5L84.4 424.1ZM84.4 514.5L84.4 513.8L96.4 515.7L125.5 521.5L142.4 526.1L157.4 531.6L173.4 539.1L190.4 549L203.2 558.5L216.4 570.5L227.8 582.5L237.1 594.5L245.3 607.5L253 622.5L262.1 643.5L268.7 661.5L276.7 689.5L280.2 705.5L84.4 705.5Z" fill="#00cbff"/>
<path d="M84.4 403.5L354.4 403.5L354.4 496L348.5 486.5L341.4 476.7L335.2 469.5L327.9 462.5L319.4 455.8L311.3 450.5L303.4 446.4L292.4 442.2L278.4 438.3L260.4 434.5L252.4 433.2L232.4 431.1L84.4 422.8ZM84.4 515.5L111.4 520.1L128.4 523.8L144.4 528.4L158.4 533.8L176.4 542.4L189.4 550L201.4 558.9L215.4 571.4L226.4 582.9L235.5 594.5L244.4 608.5L252.1 623.5L259.1 639.5L267.7 662.5L274.1 684.5L278.9 705.5L84.4 705.5Z" fill="#00d6ff"/>
<path d="M84.4 403.5L354.4 403.5L354.4 493.7L347.8 483.5L341.1 474.5L335 467.5L327.5 460.5L319.4 454.2L311.4 449.1L301.4 444.2L292.4 440.9L278.4 437L259.4 433L250.4 431.5L232.4 429.7L84.4 421.4ZM84.4 517.5L84.4 517.2L106.4 520.7L127.4 525.1L144.4 530.1L160.4 536.4L176.4 544L189.4 551.7L201.4 560.8L216.4 574.3L226.9 585.5L236 597.5L244.1 610.5L251.7 625.5L259 642.5L267.3 665.5L273.4 686.5L277.6 705.5L84.4 705.5Z" fill="#00e1ff"/>
<path d="M84.4 403.5L354.4 403.5L354.4 491.5L347.8 481.5L340.9 472.5L334.7 465.5L327.4 458.7L319.2 452.5L311.4 447.7L301.4 442.9L291.4 439.2L277.6 435.5L260.4 431.9L247.4 429.9L232.4 428.4L84.4 420ZM84.4 519.5L84.4 518.7L98.4 520.9L125.4 526.2L142.4 531.1L161.4 538.4L175.4 545L188.4 552.7L203.7 564.5L214.7 574.5L225.1 585.5L234.4 597.5L242.6 610.5L250.4 625.6L258.5 644.5L266 665.5L272.4 687.5L276.3 705.5L84.4 705.5Z" fill="#00f1ff"/>
<path d="M84.4 403.5L354.4 403.5L354.4 489.4L347.8 479.5L340.8 470.5L334.4 463.5L326.7 456.5L318.4 450.4L310.4 445.8L300.4 441.2L290.2 437.5L278.4 434.4L259.4 430.5L246.3 428.5L232.4 427.1L84.4 418.6ZM84.4 520.5L84.4 520.1L103.4 523.2L125.4 527.8L141.4 532.5L161.4 539.9L175.4 546.5L188.4 554.4L203.4 566L213.8 575.5L224.3 586.5L233.4 598.3L241.4 610.9L249.5 626.5L258 646.5L265 666.5L271.4 688.4L275.1 705.5L84.4 705.5Z" fill="#00fcff"/>
<path d="M84.4 403.5L354.4 403.5L354.4 487.3L347.7 477.5L340.4 468.3L334.1 461.5L326.2 454.5L317.7 448.5L309.4 443.9L299.4 439.6L287.4 435.4L274.4 432.3L258.4 429.2L242.4 426.8L231.4 425.7L84.4 417.3ZM84.4 522.5L84.4 521.6L92.4 522.8L122.4 528.7L145.4 535.3L159.4 540.5L173.4 547L186.4 554.8L200.4 565.3L212.4 576L222.5 586.5L232 598.5L240.3 611.5L248.4 627.1L257.1 647.5L264.1 667.5L270.2 688.5L273.9 705.5L84.4 705.5Z" fill="#00fffd"/>
<path d="M84.4 403.5L354.4 403.5L354.4 485.2L347.7 475.5L340.4 466.5L333.7 459.5L325.4 452.3L317.4 446.9L308.4 442.1L298.4 437.9L286.4 433.9L274.4 431L258.4 427.9L240.4 425.3L231.4 424.4L84.4 415.9ZM84.4 523.5L84.4 523L100.4 525.7L123.3 530.5L144.4 536.4L160.4 542.4L174.4 549.1L186.4 556.4L199.4 566.1L212.1 577.5L222.4 588.3L231.4 599.9L239.4 612.5L247.4 627.8L254.4 643.9L261.2 662.5L268.4 686.5L272.7 705.5L84.4 705.5Z" fill="#00fff2"/>
<path d="M84.4 403.5L354.4 403.5L354.4 483.1L347.6 473.5L340.1 464.5L333.4 457.6L325 450.5L316.4 444.9L307.6 440.5L298.4 436.7L285.4 432.5L273.4 429.6L259.4 426.9L231.4 423.1L84.4 414.6ZM84.4 524.5L108.4 528.7L130.4 533.7L145.4 538.1L159.6 543.5L173.4 550.1L185.4 557.5L198.4 567L211.3 578.5L221.7 589.5L230.4 600.8L238.4 613.4L246.4 628.5L253.4 644.5L260.3 663.5L267.4 687.5L271.5 705.5L84.4 705.5Z" fill="#00ffe7"/>
<path d="M84.4 403.5L354.4 403.5L354.4 481.1L347.4 471.4L339.4 462L332.9 455.5L324.4 448.6L316.4 443.5L308.3 439.5L298.4 435.6L284.4 431.1L260.4 425.9L231.4 421.9L218.4 420.8L84.4 413.3ZM84.4 526.5L84.4 525.9L100.4 528.7L127.4 534.3L143.4 538.8L158.4 544.4L173.4 551.7L187.4 560.5L198.2 568.5L210.4 579.4L220.8 590.5L230 602.5L238.4 615.9L246.5 631.5L252.9 646.5L259.7 665.5L266.4 688.6L270.3 705.5L84.4 705.5Z" fill="#00ffd7"/>
<path d="M84.4 403.5L354.4 403.5L354.4 479L346.6 468.5L338.6 459.5L331.4 452.6L323.4 446.4L315.4 441.6L306.5 437.5L296.4 433.7L283.4 429.7L260.4 424.7L229.4 420.4L84.4 412ZM84.4 527.5L106.4 531.2L126.4 535.4L141.4 539.6L156.4 545L171.4 552.2L185.4 560.7L196.4 568.7L208.6 579.5L219.4 590.9L228.4 602.5L237.4 616.7L245.2 631.5L251.7 646.5L258.5 665.5L265.4 689.7L269.1 705.5L84.4 705.5Z" fill="#00ffcc"/>
<path d="M84.4 403.5L354.4 403.5L354.4 477.1L346.4 466.5L338.4 457.6L331.9 451.5L322.6 444.5L315.4 440.3L306.4 436.3L296.4 432.5L283.4 428.6L254.4 422.5L224.4 418.7L84.4 410.7ZM84.4 529.5L84.4 528.7L89.4 529.5L122.4 535.7L138.4 540L154.4 545.7L169.1 552.5L183.4 561L194.4 568.8L206.8 579.5L217.4 590.6L226.9 602.5L235.8 616.5L243.9 631.5L250.9 647.5L257.2 665.5L262.8 684.5L267.9 705.5L84.4 705.5Z" fill="#00ffc7"/>
<path d="M84.4 403.5L354.4 403.5L354.4 475.1L346.4 464.7L338.4 456L331.4 449.6L322.4 443L315.4 439.1L305.4 434.7L295.4 431.1L282.4 427.2L254.4 421.4L221.4 417.2L84.4 409.4ZM84.4 530.5L84.4 529.9L97.4 532.1L123.4 537.3L140.4 542L154.4 547.1L168.4 553.7L183.4 562.5L195.7 571.5L206.4 580.9L217.3 592.5L226.4 604.1L235.4 618.2L243 632.5L249.6 647.5L255.7 664.5L261.6 684.5L266.6 705.5L84.4 705.5Z" fill="#00ffbc"/>
<path d="M84.4 403.5L354.4 403.5L354.4 473.1L347.4 464.2L339.4 455.4L332.4 449L323.4 442.4L316.4 438.3L305.4 433.5L294.4 429.6L281.4 425.8L253.4 420.2L235.4 417.6L216.4 415.5L84.4 408.1ZM84.4 531.5L103.4 534.4L123.2 538.5L139.4 543L153.4 548.1L166.4 554.2L181.4 562.7L194.4 572.1L205.4 581.6L215.6 592.5L225.4 604.9L234.1 618.5L242.2 633.5L248.8 648.5L254.8 665.5L261 686.5L265.4 705.5L84.4 705.5Z" fill="#00ffb1"/>
<path d="M84.4 403.5L354.4 403.5L354.4 471.2L346.6 461.5L339.1 453.5L331.4 446.7L323.4 441.1L316.4 437.1L305.8 432.5L294.4 428.5L280.4 424.5L252.4 418.9L213.4 414.1L84.4 406.8ZM84.4 532.5L106.4 536.2L123.4 539.8L138.4 544L152.4 549.1L166.4 555.7L180.4 563.6L193.4 572.9L204.5 582.5L214.8 593.5L224.4 605.8L233.9 620.5L241.4 634.5L247.9 649.5L254 666.5L259.8 686.5L264.2 705.5L84.4 705.5Z" fill="#00ffa1"/>
<path d="M84.4 403.5L354.4 403.5L354.4 469.3L347.3 460.5L339.4 452.3L331.4 445.3L322.9 439.5L315.4 435.4L304.4 430.8L293.4 427.1L279.4 423.1L250.4 417.6L208.7 412.5L84.4 405.5ZM84.4 534.5L84.4 533.5L119.4 540.1L136.4 544.7L151.4 550.1L167.4 557.6L179.4 564.5L192.1 573.5L203.4 583.2L213.1 593.5L223.3 606.5L233 621.5L240.1 634.5L246.7 649.5L252.4 665.5L258.6 686.5L263.1 705.5L84.4 705.5Z" fill="#00ff97"/>
<path d="M84.4 403.5L354.4 403.5L354.4 467.5L347 458.5L339.1 450.5L331.4 444L322.4 438L314.4 433.7L304 429.5L292.4 425.6L278.4 421.8L248.4 416.2L204.4 411.1L84.4 404.2ZM84.4 535.5L84.4 534.7L119.4 541.3L135.4 545.7L150.4 551L165.4 557.9L178.4 565.3L190.4 573.7L202.4 584L212.3 594.5L222.4 607.4L231.6 621.5L239.2 635.5L245.8 650.5L251.9 667.5L256.9 684.5L261.9 705.5L84.4 705.5Z" fill="#00ff91"/>
<path d="M95.7 403.5L354.4 403.5L354.4 465.6L346.7 456.5L338.6 448.5L330.4 441.9L322.4 436.7L314.4 432.5L304.4 428.5L292.4 424.5L278.4 420.7L263.4 417.6L247.4 415L202.4 409.8ZM84.4 536.5L84.4 535.8L89.4 536.7L119.4 542.5L135.4 546.9L149.4 552L163.9 558.5L176.4 565.5L190.4 575.2L201.4 584.7L211.4 595.3L220.8 607.5L230.2 621.5L237.9 635.5L244.6 650.5L250.4 666.5L255.7 684.5L260.8 705.5L84.4 705.5Z" fill="#00ff81"/>
<path d="M115.5 403.5L354.4 403.5L354.4 463.8L346.4 454.5L339.1 447.5L331.4 441.3L323.4 436.1L314.4 431.4L305.4 427.8L294.4 424L279.4 419.9L250.4 414.4L211.4 409.7L186.4 407.6ZM84.4 537.5L84.4 536.9L95.4 538.9L120.4 544L136.3 548.5L150.4 553.7L164.4 560.1L176.4 566.9L189.4 576L200.5 585.5L210.8 596.5L220.4 609.1L229.4 622.5L237.4 637.1L243.8 651.5L249.6 667.5L254.9 685.5L259.7 705.5L84.4 705.5Z" fill="#00ff76"/>
<path d="M134.2 403.5L354.4 403.5L354.4 462L347.9 454.5L340.7 447.5L332.4 440.7L324.4 435.5L316.4 431.2L308.4 427.7L296.4 423.5L284.4 420.1L274.4 417.6L258.4 414.6L225.4 410.1L190.4 406.8ZM84.4 538.5L84.4 538.1L102.4 541.3L122.4 545.7L137.4 550.1L152.4 555.8L165.4 562L178.4 569.7L189.4 577.5L199.8 586.5L208.4 595.6L217 606.5L228 622.5L236.4 637.6L242.6 651.5L248.5 667.5L253.5 684.5L258.5 705.5L84.4 705.5Z" fill="#00ff6c"/>
<path d="M153.2 403.5L354.4 403.5L354.4 460.2L348.4 453.4L341.4 446.7L333.8 440.5L326.5 435.5L318.4 431L310.4 427.4L289.4 420.4L267.4 415.2L237.2 410.5L193.4 406ZM84.4 539.5L84.4 539.2L102.7 542.5L121.4 546.7L135.4 550.7L151.4 556.7L164.4 562.8L177.5 570.5L188.7 578.5L199.1 587.5L208.4 597.4L217 608.5L227.3 623.5L235.6 638.5L241.8 652.5L247.7 668.5L252.7 685.5L257.5 705.5L84.4 705.5Z" fill="#00ff61"/>
<path d="M171 403.5L354.4 403.5L354.4 458.4L348.4 451.8L342.4 446.1L335.4 440.4L328.4 435.5L320.4 430.9L312.4 427.1L294.4 420.7L274.4 415.5L248.4 411L211.4 406.7ZM84.4 540.5L104.4 544L121.4 547.9L138.4 553L151.4 557.9L164.4 564.2L176.9 571.5L188.4 579.8L198.4 588.5L207.8 598.5L217.8 611.5L227.1 625.5L234.4 638.7L241 653.5L246.9 669.5L251.6 685.5L256.4 705.5L84.4 705.5Z" fill="#00ff56"/>
<path d="M185.9 403.5L354.4 403.5L354.4 456.7L348.6 450.5L342.1 444.5L335.4 439.1L328.4 434.2L321.4 430.3L313.4 426.5L297.1 420.5L273.4 414.2L252.4 410.6L224.4 407.1ZM84.4 541.5L104.4 545.1L120.4 548.8L137.4 553.9L150.4 558.8L163.4 565L176.2 572.5L187.4 580.5L197.4 589.2L207.9 600.5L217.2 612.5L225.8 625.5L233.5 639.5L239.8 653.5L245.7 669.5L250.5 685.5L255.3 705.5L84.4 705.5Z" fill="#00ff4b"/>
<path d="M197.3 403.5L354.4 403.5L354.4 455L342.6 443.5L329.4 433.7L315.9 426.5L300.4 420.5L279.4 414.6L259.4 410.7L232.4 407ZM84.4 543.5L84.4 542.5L116.4 549L134.4 554.1L148.4 559.2L161.4 565.3L174.4 572.8L185.5 580.5L196 589.5L206.4 600.5L215.8 612.5L225.1 626.5L232.4 639.8L239.1 654.5L244.6 669.5L249.4 685.5L254.2 705.5L84.4 705.5Z" fill="#00ff41"/>
<path d="M208.1 403.5L354.4 403.5L354.4 453.4L343.1 442.5L331 433.5L319.4 427L303.4 420.5L285.4 415.1L265.4 410.7L241.4 407.1ZM84.4 544.5L84.4 543.6L115.4 549.9L132.4 554.6L147.4 560.1L162.4 567.1L174.4 574.2L185.4 582L195.4 590.6L205.4 601.1L215.2 613.5L224.4 627.5L231 639.5L237.4 653.5L243.5 669.5L248.3 685.5L253.2 705.5L84.4 705.5Z" fill="#00ff36"/>
<path d="M218.2 403.5L354.4 403.5L354.4 451.8L343.4 441.4L331.3 432.5L319.4 426L303.4 419.4L287.4 414.6L269.4 410.4L246.4 406.7ZM84.4 545.5L84.4 544.7L118.4 551.8L133.4 556.1L147.4 561.3L161.4 567.9L173.4 574.9L184.4 582.7L195.4 592.3L204.4 601.7L214.6 614.5L222.5 626.5L230.2 640.5L237.1 655.5L242.6 670.5L247.2 685.5L252.1 705.5L84.4 705.5Z" fill="#00ff2b"/>
<path d="M227.7 403.5L354.4 403.5L354.4 450.2L343.4 440L331.6 431.5L320.4 425.4L304.4 418.8L289.4 414.1L269.4 409.4L248.4 406ZM84.4 546.5L84.4 545.8L118.4 552.9L133.4 557.3L147.2 562.5L160.4 568.7L172.4 575.7L183.5 583.5L194.4 592.9L203.6 602.5L214 615.5L221.8 627.5L229.4 641.3L236.3 656.5L241.8 671.5L246.4 686.5L251 705.5L84.4 705.5Z" fill="#00ff20"/>
<path d="M236.4 403.5L354.4 403.5L354.4 448.7L344.4 439.5L333.4 431.5L322.4 425.3L308.4 419.3L293.4 414.2L274.4 409.5L258.4 406.5ZM84.4 547.5L84.4 546.9L118.4 554L133.4 558.5L146.4 563.4L159.4 569.5L171.5 576.5L183.4 585L193.4 593.5L203.4 604L212.6 615.5L220.5 627.5L228.3 641.5L234.7 655.5L240.7 671.5L245.3 686.5L250 705.5L84.4 705.5Z" fill="#00ff16"/>
<path d="M244.6 403.5L354.4 403.5L354.4 447.2L344.4 438.2L333.7 430.5L324.4 425.2L311.4 419.4L297.4 414.4L281.4 410.1L266.4 406.8ZM84.4 548.5L84.4 548L99.4 550.9L117.4 554.9L132.4 559.3L145.4 564.2L158.4 570.3L170.9 577.5L182.4 585.6L192.7 594.5L202.4 604.6L212 616.5L219.9 628.5L227.4 642.2L233.9 656.5L239.9 672.5L244.2 686.5L248.9 705.5L84.4 705.5Z" fill="#00ff0b"/>
<path d="M251.7 403.5L354.4 403.5L354.4 445.7L345.1 437.5L335.4 430.4L325.4 424.6L314.4 419.6L299.4 414L287.4 410.5L267.4 406ZM84.4 549.5L84.4 549.1L100.4 552.1L118.4 556.2L132.5 560.5L146.4 565.9L158.4 571.6L170.4 578.6L181.7 586.5L192.1 595.5L201.7 605.5L210.6 616.5L218.4 628.1L225.8 641.5L232.3 655.5L238.1 670.5L242.8 685.5L247.8 705.5L84.4 705.5Z" fill="#00ff00"/>
<path d="M258.3 403.5L354.4 403.5L354.4 444.3L345.5 436.5L336.4 429.9L327.3 424.5L317.4 419.8L303.7 414.5L291.4 410.6L274.4 406.5ZM84.4 550.5L84.4 550.1L100.4 553.2L117.4 557.1L131.4 561.3L145.4 566.7L158.4 572.9L170.4 579.9L181.4 587.8L191.4 596.4L201.4 606.8L210 617.5L217.4 628.5L224.6 641.5L231.2 655.5L237 670.5L242 686.5L246.8 705.5L84.4 705.5Z" fill="#0bff00"/>
<path d="M264.4 403.5L354.4 403.5L354.4 442.9L346.4 436L337.5 429.5L329.3 424.5L320.4 420.1L306.4 414.5L293.4 410.1L279.4 406.6ZM84.4 551.5L84.4 551.1L100.4 554.2L117.4 558.2L131.4 562.5L145.4 567.9L158.4 574.2L170.4 581.3L180.5 588.5L190.4 597.1L200.5 607.5L209.4 618.5L216.7 629.5L223.9 642.5L230.4 656.5L236.2 671.5L240.6 685.5L245.7 705.5L84.4 705.5Z" fill="#16ff00"/>
<path d="M269.5 403.5L354.4 403.5L354.4 441.5L347.4 435.5L339.3 429.5L331.4 424.6L322.4 419.9L309.1 414.5L295.4 409.8L284.4 406.8ZM84.4 552.5L84.4 552.2L100.4 555.3L117.4 559.3L131.4 563.6L145.4 569.1L159.4 576L170.4 582.6L181.2 590.5L191.3 599.5L200.8 609.5L208.8 619.5L216.4 631.1L223.2 643.5L230.1 658.5L235.5 672.5L239.8 686.5L244.7 705.5L84.4 705.5Z" fill="#20ff00"/>
<path d="M274.3 403.5L354.4 403.5L354.4 440.1L347.4 434.2L339.4 428.4L331.4 423.5L322.4 418.9L309.4 413.6L297.4 409.4L288.4 406.8ZM84.4 553.5L84.4 553.2L100.4 556.3L116.4 560.1L131.4 564.8L144.4 569.9L157.4 576.2L169.4 583.3L180.4 591.4L190.4 600.2L200.2 610.5L208.1 620.5L215.4 631.5L222 643.5L228.9 658.5L234.4 672.6L239.1 687.5L243.6 705.5L84.4 705.5Z" fill="#2bff00"/>
<path d="M278.9 403.5L354.4 403.5L354.4 438.7L346.9 432.5L339.4 427.2L331.7 422.5L323.4 418.3L300.4 409.4L289.4 406.1ZM84.4 554.5L84.4 554.2L100.4 557.4L116.4 561.2L131.4 566L144.4 571.1L156.4 576.9L168.4 584L178.7 591.5L189.4 600.8L198.7 610.5L206.8 620.5L214.2 631.5L220.8 643.5L227.4 657.5L233.4 672.9L238 687.5L242.6 705.5L84.4 705.5Z" fill="#36ff00"/>
<path d="M283.2 403.5L354.4 403.5L354.4 437.4L347.4 431.7L340.4 426.7L333.4 422.4L325.4 418.2L304.4 409.8ZM84.4 555.5L84.4 555.2L99.4 558.2L115.4 562L130.4 566.7L144.4 572.3L157.1 578.5L168.4 585.3L178.2 592.5L188.5 601.5L197.4 610.7L205.4 620.5L212.9 631.5L219.7 643.5L226.4 657.9L232.4 673.2L237 687.5L241.6 705.5L84.4 705.5Z" fill="#41ff00"/>
<path d="M287.1 403.5L354.4 403.5L354.4 436L347.5 430.5L340.4 425.5L326.4 417.6L307.4 409.9ZM84.4 556.5L84.4 556.2L99.4 559.2L115.4 563.1L130.4 567.9L144.4 573.4L156.4 579.4L167.4 586L177.4 593.3L187.9 602.5L196.7 611.5L204.8 621.5L212.2 632.5L219 644.5L225.5 658.5L231.4 673.5L236.2 688.5L240.6 705.5L84.4 705.5Z" fill="#4cff00"/>
<path d="M290.6 403.5L354.4 403.5L354.4 434.7L342.2 425.5L328.3 417.5L310.4 410ZM84.4 557.5L100.5 560.5L117.4 564.8L131.4 569.3L144.2 574.5L156.2 580.5L167.4 587.4L178.3 595.5L187.4 603.5L196.1 612.5L204.2 622.5L211.6 633.5L218.3 645.5L224.8 659.5L230.6 674.5L235.4 689.3L239.6 705.5L84.4 705.5Z" fill="#56ff00"/>
<path d="M293.9 403.5L354.4 403.5L354.4 433.5L342.4 424.5L329.4 417L312.4 409.7ZM84.4 558.5L99.4 561.3L115.4 565.3L129.4 569.7L143.4 575.3L155.4 581.3L166.4 588.1L177.4 596.2L186.8 604.5L195.5 613.5L203.5 623.5L210.9 634.5L217.4 646L223.4 658.8L229.2 673.5L234.1 688.5L238.7 705.5L84.4 705.5Z" fill="#61ff00"/>
<path d="M297.1 403.5L354.4 403.5L354.4 432.2L342.7 423.5L330.4 416.4L315.4 409.9ZM84.4 559.5L98.4 562.1L116.1 566.5L129.4 570.8L142.4 576L154.4 582L165.4 588.7L176.4 596.8L186.2 605.5L194.9 614.5L202.9 624.5L210.3 635.5L216.4 646.5L222.6 659.5L228.4 674.3L233.4 689.6L237.7 705.5L84.4 705.5Z" fill="#6cff00"/>
<path d="M300.3 403.5L354.4 403.5L354.4 430.9L343.4 422.8L331.4 415.9L318.4 410ZM84.4 560.5L99.4 563.3L115.4 567.3L129.4 571.9L142.4 577.2L153.4 582.7L164.5 589.5L175.4 597.5L185.4 606.2L194.3 615.5L202.3 625.5L209.4 636.1L215.8 647.5L221.9 660.5L227.4 674.5L232.3 689.5L236.7 705.5L84.4 705.5Z" fill="#77ff00"/>
<path d="M303.3 403.5L354.4 403.5L354.4 429.7L343.4 421.7L332.4 415.3L318.4 409ZM84.4 561.5L84.4 561.2L99.4 564.3L114.4 568.1L128.4 572.6L141.4 577.9L152.6 583.5L163.4 590.1L174.4 598.1L184.4 606.8L192.8 615.5L200.9 625.5L208.4 636.5L214.6 647.5L220.8 660.5L226.7 675.5L231.6 690.5L235.7 705.5L84.4 705.5Z" fill="#82ff00"/>
<path d="M306.2 403.5L354.4 403.5L354.4 428.4L344.4 421.2L332.9 414.5L320.4 408.8ZM84.4 562.5L84.4 562.2L97.4 564.8L113.4 568.8L127.4 573.3L140.4 578.6L152.4 584.7L163.4 591.4L173.4 598.7L183.5 607.5L192.2 616.5L199.6 625.5L207.1 636.5L213.4 647.5L219.6 660.5L225.2 674.5L230.3 689.5L234.7 705.5L84.4 705.5Z" fill="#8dff00"/>
<path d="M309.1 403.5L354.4 403.5L354.4 427.2L345.1 420.5L334.4 414.2L322.4 408.6ZM84.4 563.5L84.4 563.1L96.4 565.6L113.4 569.8L127.4 574.4L140.4 579.8L152.4 585.9L163.4 592.7L172.6 599.5L183 608.5L191.4 617.2L198.9 626.5L206.4 637.4L212.7 648.5L218.5 660.5L224.4 675.1L229.6 690.5L233.7 705.5L84.4 705.5Z" fill="#97ff00"/>
<path d="M311.9 403.5L354.4 403.5L354.4 425.9L345.3 419.5L335.4 413.7L324.5 408.5ZM84.4 564.5L84.4 564L95.4 566.3L112.4 570.6L126.4 575.2L139.4 580.5L151.2 586.5L162.6 593.5L172.4 600.7L182.4 609.5L191 618.5L198.4 627.6L205.4 637.9L212 649.5L217.8 661.5L223.5 675.5L228.6 690.5L232.7 705.5L84.4 705.5Z" fill="#a2ff00"/>
<path d="M314.6 403.5L354.4 403.5L354.4 424.7L345.5 418.5L336.4 413.2L326.8 408.5ZM84.4 565.5L84.4 564.9L94.4 567L112.4 571.6L126.4 576.2L139.1 581.5L150.4 587.3L162.1 594.5L172.4 602.1L181.4 610L189.6 618.5L197.7 628.5L204.5 638.5L211.4 650.5L217.4 663.1L222.8 676.5L227.8 691.5L231.7 705.5L84.4 705.5Z" fill="#adff00"/>
<path d="M317.1 403.5L354.4 403.5L354.4 423.5L346.4 418L337.4 412.7L328.4 408.2ZM84.4 566.5L84.4 565.9L92.4 567.5L111.4 572.3L125.4 577L138.4 582.4L149.4 588L161.4 595.3L171.4 602.7L180.4 610.6L189 619.5L196.4 628.6L203.4 638.8L210.2 650.5L216 662.5L221.4 675.7L226.8 691.5L230.7 705.5L84.4 705.5Z" fill="#b8ff00"/>
<path d="M319.6 403.5L354.4 403.5L354.4 422.3L346.4 416.8L338.4 412.2L329.4 407.7ZM84.4 567.5L84.4 566.8L90.4 568L110.4 573L124.4 577.7L137.4 583.1L149.4 589.2L159.7 595.5L170.4 603.3L179.7 611.5L188.4 620.5L195.7 629.5L202.6 639.5L209.4 651.3L215.3 663.5L220.6 676.5L225.8 691.5L229.7 705.5L84.4 705.5Z" fill="#c3ff00"/>
<path d="M322 403.5L354.4 403.5L354.4 421.1L339.4 411.6ZM84.4 568.5L84.4 567.7L109.4 573.7L123.4 578.4L136.4 583.8L148.4 589.9L158.4 595.9L168.9 603.5L178.4 611.7L186.9 620.5L194.4 629.6L201.4 639.7L208.3 651.5L214.2 663.5L219.6 676.5L224.8 691.5L228.8 705.5L84.4 705.5Z" fill="#cdff00"/>
<path d="M324.4 403.5L354.4 403.5L354.4 419.9L340.4 411.1ZM84.4 569.5L84.4 568.6L108.4 574.5L122.4 579.1L135.5 584.5L147.4 590.5L157.4 596.5L168.4 604.5L177.6 612.5L186.3 621.5L193.7 630.5L200.6 640.5L207.1 651.5L213.1 663.5L218.5 676.5L223.7 691.5L227.8 705.5L84.4 705.5Z" fill="#d8ff00"/>
<path d="M326.8 403.5L354.4 403.5L354.4 418.7L341.4 410.6ZM84.4 570.5L84.4 569.6L108.4 575.5L122.4 580.2L135.4 585.6L147 591.5L157.4 597.8L167.4 605.1L177.1 613.5L185.4 622.1L193.1 631.5L200 641.5L206.4 652.5L212.4 664.5L217.4 676.5L222.7 691.5L226.8 705.5L84.4 705.5Z" fill="#e3ff00"/>
<path d="M329.1 403.5L354.4 403.5L354.4 417.6L342.4 410.1ZM84.4 570.5L98.4 573.7L112.4 577.7L125.4 582.4L137 587.5L148.4 593.5L158.4 599.8L167.4 606.5L176.4 614.4L184.4 622.6L192.4 632.4L199.3 642.5L205.8 653.5L211.4 664.8L216.7 677.5L222 692.5L225.8 705.5L84.4 705.5Z" fill="#eeff00"/>
<path d="M331.3 403.5L354.4 403.5L354.4 416.4L343.4 409.6ZM84.4 571.5L97.4 574.4L111.4 578.4L124.4 583.1L136.4 588.4L147.4 594.1L157.5 600.5L166.9 607.5L175.4 614.9L183.7 623.5L191.1 632.5L198.1 642.5L204.6 653.5L210.4 665.1L215.6 677.5L221 692.5L224.8 705.5L84.4 705.5Z" fill="#f9ff00"/>
<path d="M333.5 403.5L354.4 403.5L354.4 415.3L344.4 409.1ZM84.4 572.5L96.4 575.1L110.4 579.1L122.7 583.5L135.4 589L145.9 594.5L156.4 601L165.4 607.7L174.4 615.5L182.4 623.7L190.4 633.4L196.8 642.5L203.4 653.6L209.4 665.5L214.5 677.5L219.9 692.5L223.8 705.5L84.4 705.5Z" fill="#fffb00"/>
<path d="M335.7 403.5L354.4 403.5L354.4 414.2L345.4 408.6ZM84.4 573.5L95.4 575.8L110.4 580.1L123.4 584.9L135.4 590.1L146.4 596L156.4 602.3L165.4 609L173.9 616.5L181.7 624.5L189.4 633.9L196.4 643.9L202.7 654.5L208.4 665.8L213.8 678.5L218.9 692.5L222.8 705.5L84.4 705.5Z" fill="#fff000"/>
<path d="M337.8 403.5L354.4 403.5L354.4 413L347.2 408.5ZM84.4 574.5L84.4 574.1L93.4 576.2L108.4 580.5L122.4 585.5L134.4 590.8L145.2 596.5L155.4 602.9L164.4 609.6L173.4 617.5L181.4 625.9L189.2 635.5L196.1 645.5L202 655.5L207.6 666.5L212.8 678.5L217.9 692.5L221.8 705.5L84.4 705.5Z" fill="#ffe500"/>
<path d="M339.9 403.5L354.4 403.5L354.4 411.9ZM84.4 575.5L84.4 575.1L92.4 576.9L108.4 581.5L121.4 586.2L133.5 591.5L144.4 597.3L154.4 603.5L163.8 610.5L172.4 618.1L180.4 626.4L187.4 634.9L194.8 645.5L200.8 655.5L206.5 666.5L211.7 678.5L216.8 692.5L220.8 705.5L84.4 705.5Z" fill="#ffda00"/>
<path d="M341.9 403.5L354.4 403.5L354.4 410.8ZM84.4 576.5L84.4 576L91.4 577.6L107.4 582.2L121.4 587.3L133.2 592.5L144.4 598.5L153.9 604.5L163.3 611.5L171.4 618.6L179.1 626.5L185.7 634.5L193.4 645.3L199.6 655.5L205.3 666.5L210.6 678.5L215.8 692.5L219.8 705.5L84.4 705.5Z" fill="#ffcf00"/>
<path d="M343.9 403.5L354.4 403.5L354.4 409.7ZM84.4 577.5L84.4 576.9L91.3 578.5L107.4 583.2L120.4 587.9L132.4 593.2L143.4 599.1L153.4 605.4L162.4 612.1L170.8 619.5L178.4 627.4L185.4 635.8L192.9 646.5L199 656.5L204.7 667.5L209.9 679.5L214.7 692.5L218.8 705.5L84.4 705.5Z" fill="#ffc400"/>
<path d="M345.9 403.5L354.4 403.5L354.4 408.6ZM84.4 578.5L84.4 577.8L89.4 579L106.4 583.9L119.4 588.6L131.4 593.9L142.4 599.7L152.4 606L161.4 612.7L170.3 620.5L178 628.5L184.6 636.5L191.7 646.5L198.4 657.5L204 668.5L208.8 679.5L213.7 692.5L217.8 705.5L84.4 705.5Z" fill="#ffba00"/>
<path d="M347.8 403.5L354.4 403.5L354.4 407.5ZM84.4 579.5L84.4 578.8L88.4 579.7L105.4 584.5L118.4 589.2L130.4 594.5L141.4 600.3L151.3 606.5L160.4 613.3L168.7 620.5L176.4 628.4L183.4 636.7L191.1 647.5L197.2 657.5L202.4 667.5L207.7 679.5L212.6 692.5L216.8 705.5L84.4 705.5Z" fill="#ffaf00"/>
<path d="M349.6 403.5L354.4 403.5L354.4 406.4ZM84.4 580.5L84.4 579.7L88.4 580.6L105.3 585.5L118.4 590.3L130.1 595.5L140.4 601L150.9 607.5L160.2 614.5L168.2 621.5L175.4 628.9L182.6 637.5L189.4 646.9L196 657.5L201.4 667.8L206.6 679.5L211.6 692.5L215.8 705.5L84.4 705.5Z" fill="#ffa400"/>
<path d="M351.5 403.5L354.4 403.5L354.4 405.3ZM84.4 581.5L84.4 580.7L87.4 581.3L105.3 586.5L118.4 591.4L130.4 596.8L140.4 602.1L150.4 608.5L159.4 615.2L167.4 622.2L175.4 630.5L182.4 638.9L189.2 648.5L195.3 658.5L201.1 669.5L206 680.5L210.5 692.5L214.8 705.5L84.4 705.5Z" fill="#ff9900"/>
<path d="M353.3 403.5L354.4 403.5L354.4 404.2ZM84.4 582.5L84.4 581.6L103.4 586.9L116.4 591.6L129.4 597.4L139.4 602.8L149.4 609.1L158.1 615.5L166.4 622.8L174 630.5L181.4 639.3L188 648.5L194.1 658.5L199.4 668.5L204.9 680.5L209.5 692.5L213.8 705.5L84.4 705.5Z" fill="#ff8e00"/>
<path d="M84.4 583.5L84.4 582.5L103.4 587.9L116.4 592.7L129.4 598.6L140.3 604.5L149.4 610.3L158.4 617.1L166.4 624.2L173.5 631.5L181 640.5L187.4 649.5L192.9 658.5L198.4 668.7L203.8 680.5L208.4 692.5L212.8 705.5L84.4 705.5Z" fill="#ff8400"/>
<path d="M84.4 583.5L95.4 586.3L108 590.5L119.4 595L130.4 600.2L140 605.5L149.2 611.5L157.4 617.7L165.4 624.8L172.9 632.5L180.4 641.5L186.4 649.9L192.3 659.5L197.6 669.5L202.7 680.5L207.4 692.5L211.8 705.5L84.4 705.5Z" fill="#ff7900"/>
<path d="M84.4 584.5L94.4 587L107.4 591.3L119.4 596.1L129.4 600.8L139.4 606.4L148.4 612.2L156.7 618.5L164.6 625.5L172.4 633.5L179.1 641.5L185.4 650.3L191.1 659.5L196.5 669.5L201.6 680.5L205.9 691.5L210.7 705.5L84.4 705.5Z" fill="#ff6e00"/>
<path d="M84.4 585.5L93.4 587.7L106.4 592L118.4 596.8L129.4 602L139.3 607.5L148.4 613.5L156.4 619.6L164.1 626.5L171.4 634L178.4 642.3L184.4 650.6L190.4 660.3L195.9 670.5L200.5 680.5L205.3 692.5L209.7 705.5L84.4 705.5Z" fill="#ff6300"/>
<path d="M84.4 586.5L92.4 588.4L105.4 592.6L117.4 597.4L128.4 602.6L138.4 608.2L147.4 614.1L155.8 620.5L163.4 627.3L170.4 634.5L177.4 642.8L183.7 651.5L189.3 660.5L194.7 670.5L199.8 681.5L208.7 705.5L84.4 705.5Z" fill="#ff5800"/>
<path d="M84.4 587.5L92.4 589.4L105.4 593.7L117.4 598.5L127.9 603.5L137.4 608.8L146.4 614.7L154.4 620.7L162.4 627.8L169.4 634.9L176.4 643.2L182.5 651.5L188.4 660.9L193.6 670.5L198.7 681.5L207.7 705.5L84.4 705.5Z" fill="#ff4e00"/>
<path d="M84.4 588.5L84.4 588.2L92.4 590.3L105.4 594.7L116.4 599.1L127.4 604.4L136.6 609.5L145.8 615.5L153.7 621.5L161.6 628.5L168.5 635.5L175.4 643.6L181.4 651.8L187.4 661.3L193 671.5L197.6 681.5L206.7 705.5L84.4 705.5Z" fill="#ff4300"/>
<path d="M84.4 589.5L84.4 589.1L91.4 591L105.4 595.7L116.4 600.2L127.4 605.5L136.4 610.6L145.4 616.5L153.4 622.6L161.4 629.8L168.9 637.5L175.4 645.3L181.3 653.5L186.9 662.5L192.3 672.5L197 682.5L205.7 705.5L84.4 705.5Z" fill="#ff3800"/>
<path d="M84.4 590.5L84.4 590.1L90.4 591.7L104.7 596.5L116.4 601.3L127.1 606.5L136.4 611.8L145 617.5L152.8 623.5L160.6 630.5L167.4 637.5L174.2 645.5L180.1 653.5L185.7 662.5L191.2 672.5L195.9 682.5L204.6 705.5L84.4 705.5Z" fill="#ff2d00"/>
<path d="M84.4 591.5L84.4 591.1L90.4 592.7L104.4 597.4L115.4 601.9L126.4 607.3L135.6 612.5L144.4 618.4L152.4 624.6L160.1 631.5L167.4 639L173.7 646.5L179.5 654.5L185.1 663.5L190.1 672.5L194.8 682.5L203.6 705.5L84.4 705.5Z" fill="#ff2200"/>
<path d="M84.4 592.5L84.4 592L89.4 593.4L103.4 598.1L114.4 602.6L125.4 607.9L134.4 613L142.8 618.5L150.6 624.5L158.6 631.5L165.5 638.5L172.3 646.5L178.4 654.8L183.9 663.5L188.9 672.5L193.7 682.5L202.6 705.5L84.4 705.5Z" fill="#ff1800"/>
<path d="M84.4 593.5L84.4 593L89.4 594.4L103.4 599.1L114.4 603.6L124.4 608.5L133.4 613.6L142.4 619.5L150.4 625.7L158.1 632.5L165 639.5L171.4 647L177.4 655.2L182.8 663.5L187.8 672.5L192.6 682.5L201.6 705.5L84.4 705.5Z" fill="#ff0d00"/>
<path d="M84.4 594.5L84.4 594L88.4 595.1L102.4 599.8L113.9 604.5L124.4 609.6L133.4 614.8L142 620.5L150.4 627L157.4 633.3L164.4 640.4L170.4 647.5L176.4 655.5L182.1 664.5L187.1 673.5L192 683.5L200.6 705.5L84.4 705.5Z" fill="#ff0200"/>
<path d="M84.4 595.5L84.4 594.9L88.4 596.1L102.4 600.8L113.4 605.4L123.4 610.2L132.4 615.4L140.4 620.7L148.4 626.8L156.4 633.8L163 640.5L169.4 647.9L175.4 655.9L180.9 664.5L186 673.5L190.9 683.5L199.5 705.5L84.4 705.5Z" fill="#ff0009"/>
<path d="M84.4 596.5L84.4 595.9L88.4 597.1L102.4 601.8L113.4 606.4L123.6 611.5L132.4 616.6L141.2 622.5L148.9 628.5L156.4 635.2L163.4 642.5L169.3 649.5L175.2 657.5L180.3 665.5L189.8 683.5L198.5 705.5L84.4 705.5Z" fill="#ff0013"/>
<path d="M84.4 597.5L84.4 596.9L87.4 597.7L102.4 602.9L113.4 607.5L123.3 612.5L131.9 617.5L140.4 623.2L148.4 629.5L155.4 635.8L162 642.5L168.4 650L173.9 657.5L179.4 665.9L184.4 674.8L189.1 684.5L197.5 705.5L84.4 705.5Z" fill="#ff001e"/>
<path d="M84.4 598.5L84.4 597.8L101.4 603.5L112.4 608.2L122.4 613.1L131.4 618.4L139.4 623.8L147.4 630L154.7 636.5L161.4 643.4L167.4 650.5L173.4 658.5L178.5 666.5L188 684.5L196.5 705.5L84.4 705.5Z" fill="#ff0029"/>
<path d="M84.4 599.5L84.4 598.8L100.4 604.2L111.4 608.8L121.4 613.8L130.4 619L138.4 624.4L146.3 630.5L153.4 636.8L160.1 643.5L166.1 650.5L172.1 658.5L177.3 666.5L186.9 684.5L195.5 705.5L84.4 705.5Z" fill="#ff0029"/>
</g>
<path d="M276.4 520.5L275.4 520.6L274.4 521.4L272.4 524.4L272 525.5L271.7 535.5L274 544.5L276.4 549.5L281.4 556.6L283.4 558.8L293.4 567.1L309.4 572.8L310.4 572.5L312.4 567.8L313.4 564L313.5 562.5L311.6 556.5L309.4 552.8L300.3 540.5L286.4 526.4L283.4 523.7L280.4 521.7L277.6 520.5ZM265.4 492.4L255.4 494.5L248 499.5L244.1 506.5L244.3 508.5L251.3 528.5L258.5 540.5L269.4 555.1L274.4 562.5L286.4 583.3L296.4 599.3L307.2 612.5L317.4 627.6L318.4 628.1L323.4 628L324.4 627.4L325.6 625.5L332.4 609.6L333 607.5L333.2 603.5L332.5 582.5L332 574.5L331.5 570.5L329.9 561.5L328 553.5L325.1 543.5L322.4 535.5L317.4 524.5L313.4 518.2L307.4 510.3L300.4 504.3L291.4 499.3L281.4 495.3L275.4 493.5L270.4 492.4L267.4 492.1ZM241.4 479.5L236.4 480.5L234.4 481.3L223.4 488.5L219.4 491.8L218.8 494.5L219 495.5L222.9 506.5L229 518.5L235.2 526.5L241.4 535.5L255.4 551.8L261.4 559.4L267.7 568.5L273.7 578.5L295.8 621.5L303.4 638.3L310.2 651.5L315.7 664.5L326.4 693.1L327.4 694.6L328.4 693.5L333.6 681.5L338.4 671.6L341.7 651.5L343.9 632.5L344.2 606.5L343.9 589.5L343.4 581.5L341.1 568.5L338.8 558.5L335.4 547L331.3 535.5L327.5 527.5L324.7 522.5L314.4 507.5L306.4 498L301.4 493.5L297 490.5L290 486.5L282.4 483L279.4 482L272.4 480.4L262.4 479.1L243.4 479.1ZM348.9 705.5L352.6 674.5L353.7 641.5L353.8 628.5L353.6 618.5L352 591.5L348.6 567.5L346.2 556.5L343.6 546.5L340.4 538.1L336.7 529.5L332.9 522.5L327.4 513.6L321.4 504.9L315.7 497.5L309.4 490.5L303.4 484.8L299 481.5L293.4 478.1L285.4 474.8L277.4 472L269.4 469.8L259.4 467.9L231.4 468.2L210.4 471.7L201.9 473.5L199.4 474.5L189.7 480.5L189 481.5L190.1 491.5L196 498.5L200.2 504.5L205 510.5L212.4 517.1L218.4 523.3L225.3 531.5L242.4 550.5L250.8 560.5L260.3 573.5L270.5 590.5L277.7 603.5L283 614.5L289.4 628.9L298.2 650.5L301.4 659.5L304.1 668.5L313.7 705.5M354.4 562.3L352.3 553.5L349.4 543.1L344.8 530.5L341.4 523.5L337.5 516.5L328.4 502.2L323.5 495.5L318.4 489.4L313.9 484.5L308.4 479.5L304.7 476.5L300.4 473.5L294.4 470.3L287.4 467.1L279.4 464.7L270.7 462.5L253.4 459.4L241.4 458.4L216.4 458.5L200.4 460.1L185.4 462.4L169.4 464.4L132.4 467.4L129.4 468.1L127.3 469.5L128.6 470.5L137.4 475.1L142.4 478.3L149.4 483.6L155.7 489.5L165.4 495.4L170.4 499.1L176.7 504.5L190.4 512.9L199.3 519.5L215.4 533.8L225.3 543.5L233.8 552.5L241 561.5L260.6 589.5L265.4 596.9L272.4 609.2L278.8 622.5L285.2 638.5L292.8 660.5L299.3 682.5L304.2 705.5M84.4 486.4L103.4 489.9L119.4 494L127.4 496.6L134.8 499.5L152.4 505.2L166.4 511L173.4 514.5L181.4 519.1L198.7 530.5L212.6 541.5L224.4 552.5L229.8 558.5L235.4 565.5L254.5 592.5L263.4 606.5L271.4 621.9L275.4 630.9L279.4 641.1L285.9 660.5L291.9 682.5L296.5 705.5M354.4 539.3L348.9 524.5L345.4 516.6L342.4 510.8L334.4 498L325.7 486.5L320.9 481.5L316.4 477.5L310.3 472.5L304.4 468.3L298.4 464.7L294.4 462.8L280.4 457.4L266.4 454.4L249.4 451.9L213.4 449.6L197.4 449.6L164.4 452.1L139.4 453L111.4 453.1L84.4 452.2M84.4 499.7L108.4 503.3L126.4 507L144.4 511.9L159.4 517.3L178.4 526.4L189.4 532.8L199 539.5L205.5 544.5L211.5 549.5L217.9 555.5L229.2 567.5L243.4 585.5L248.1 592.5L253.4 601.2L258.7 610.5L262.9 618.5L272 638.5L275.9 648.5L279.3 658.5L282.9 670.5L286.3 683.5L289.2 696.5L290.8 705.5M354.4 523.3L347.6 507.5L341.4 495.5L336.6 488.5L329.2 480.5L317.9 470.5L312.4 466.3L306.4 462.3L301.4 459.4L295.4 456.5L282.4 451.9L273.4 449.3L262.4 447.3L243.4 444.7L228.4 443.6L169.4 440.5L144.4 441L128.4 441L109.4 440.4L84.4 439.3M84.4 506.8L108.4 510.7L126.4 514.6L141.4 518.9L154.4 523.4L162.4 526.5L174.4 532.3L184.4 537.9L190.4 541.7L205.1 552.5L216.4 562.5L225 571.5L231.2 578.5L240.6 590.5L245.2 597.5L249.4 604.5L259.4 624L267 641.5L275.2 664.5L281.4 686.5L283.8 696.5L285.4 705.5M354.4 509.6L348.5 497.5L343.7 489.5L337.4 481.1L328.1 471.5L317.4 462.7L307.4 456.2L302.3 453.5L295.5 450.5L284.4 446.7L274.4 444L264.4 441.8L238.4 438.5L156.4 433.7L84.4 430.2M354.4 498.5L347.8 487.5L339.7 476.5L333.4 469.3L324.7 461.5L315.4 454.5L307.4 449.8L297.4 445.4L285.4 441.5L271.4 438L257.4 435.2L233.4 432.5L84.4 424.1M84.4 513.8L105.4 517.4L128.4 522.2L144.4 526.7L158.4 532L173.4 539.1L183.4 544.7L190.4 549L197.4 553.9L203.2 558.5L216.4 570.5L227.8 582.5L237.1 594.5L245.3 607.5L253 622.5L257.4 632.1L262.1 643.5L268.7 661.5L272.3 673.5L276.7 689.5L280.2 705.5M354.4 489.4L347.4 479L339.9 469.5L333.4 462.5L325.4 455.5L317 449.5L308.4 444.8L298.4 440.4L286.4 436.4L272.4 433.1L257.4 430.2L245.4 428.4L228.4 426.8L84.4 418.6M84.4 520.1L108.4 524.1L127.4 528.3L142.4 532.8L154.4 537.1L162.4 540.3L176.4 547.1L188.5 554.5L194.4 558.8L203.4 566L214.4 576.1L224.4 586.6L233.5 598.5L241.7 611.5L249.5 626.5L258 646.5L265 666.5L271.4 688.4L275.1 705.5M354.4 481.1L346.7 470.5L339 461.5L331.8 454.5L323.4 447.9L315.4 443L306 438.5L295.3 434.5L282.1 430.5L269.4 427.5L258.2 425.5L230.4 421.8L218.4 420.8L158.4 417.7L84.4 413.3M84.4 525.9L108.4 530.2L128.4 534.6L143.4 538.8L158.5 544.5L166.4 548.1L173.4 551.7L179.8 555.5L187.4 560.5L198.2 568.5L210.4 579.4L220.8 590.5L230 602.5L238.4 615.9L246.5 631.5L252.9 646.5L259.7 665.5L266.4 688.6L270.3 705.5M354.4 473.1L347.4 464.2L339.4 455.4L332.4 449L323.4 442.4L316.4 438.3L305.4 433.5L294.4 429.6L280.4 425.6L267.4 422.7L252.4 420L235.4 417.6L216.4 415.5L84.4 408.1M84.4 531.2L108.4 535.3L124.4 538.8L140.4 543.3L154.4 548.5L167.4 554.7L182.4 563.4L194.9 572.5L205.4 581.6L215.6 592.5L225.4 604.9L234.1 618.5L242.2 633.5L248.8 648.5L254.8 665.5L261 686.5L265.4 705.5M354.4 465.6L346.7 456.5L338.6 448.5L330.4 441.9L322.4 436.7L314.4 432.5L304.4 428.5L292.4 424.5L278.4 420.7L263.4 417.6L247.4 415L227.4 412.4L202.4 409.8L95.7 403.5M84.4 535.8L106.4 539.7L122.4 543.3L137.2 547.5L150.4 552.4L165.4 559.3L177.4 566.1L190.4 575.2L201.4 584.7L211.4 595.3L220.8 607.5L230.2 621.5L237.9 635.5L244.6 650.5L250.4 666.5L255.7 684.5L260.8 705.5M354.4 458.4L348.4 451.8L342.4 446.1L335.4 440.4L328.4 435.5L320.4 430.9L312.4 427.1L304.4 424L294.4 420.7L274.4 415.5L248.4 411L211.4 406.7L188.4 404.7L171 403.5M84.4 540.3L106.4 544.4L121.4 547.9L138.4 553L151.4 557.9L164.4 564.2L176.9 571.5L188.4 579.8L198.4 588.5L207.8 598.5L217.8 611.5L227.1 625.5L234.4 638.7L241 653.5L246.9 669.5L251.6 685.5L256.4 705.5M354.4 451.8L349.1 446.5L343.4 441.4L337.2 436.5L331.3 432.5L326.4 429.5L319.4 426L303.4 419.4L287.4 414.6L269.4 410.4L246.4 406.7L218.2 403.5M84.4 544.7L105.4 548.8L121.4 552.6L135.4 556.8L148.4 561.7L162.4 568.5L174.3 575.5L185.4 583.5L195.7 592.5L204.4 601.7L214.6 614.5L222.5 626.5L230.2 640.5L237.1 655.5L242.6 670.5L247.2 685.5L252.1 705.5M354.4 445.7L345.1 437.5L335.4 430.4L325.4 424.6L314.4 419.6L299.4 414L287.4 410.5L267.4 406L251.7 403.5M84.4 549.1L105.4 553.1L120.4 556.8L134.4 561.2L147.4 566.3L160.4 572.7L172.4 579.9L182.9 587.5L192.4 595.8L201.7 605.5L210.6 616.5L218.4 628.1L225.8 641.5L232.3 655.5L238.1 670.5L242.8 685.5L247.8 705.5M354.4 440.1L347.4 434.2L339.4 428.4L331.4 423.5L322.4 418.9L309.4 413.6L297.4 409.4L288.4 406.8L274.3 403.5M84.4 553.2L104.4 557.2L118.4 560.7L133.3 565.5L145.4 570.3L158.4 576.7L169.7 583.5L180.4 591.4L190.4 600.2L200.2 610.5L208.1 620.5L215.4 631.5L222 643.5L228.9 658.5L234.4 672.6L239.1 687.5L243.6 705.5M354.4 434.7L348.4 429.9L342.2 425.5L335.4 421.3L328.3 417.5L320.4 413.9L310.4 410L300.4 406.5L290.6 403.5M84.4 557.2L103.4 561.2L117.4 564.8L131.4 569.3L144.4 574.6L156.4 580.6L167.4 587.4L178.3 595.5L187.4 603.5L196.1 612.5L204.2 622.5L211.6 633.5L218.3 645.5L224.8 659.5L230.6 674.5L235.4 689.3L239.6 705.5M354.4 429.7L343.4 421.7L332.4 415.3L318.4 409L303.3 403.5M84.4 561.2L102.4 565L115.4 568.4L129.4 573L141.4 577.9L152.6 583.5L163.4 590.1L174.4 598.1L184.4 606.8L192.8 615.5L200.9 625.5L208.4 636.5L214.6 647.5L220.8 660.5L226.7 675.5L231.6 690.5L235.7 705.5M354.4 424.7L345.5 418.5L336.4 413.2L326.8 408.5L314.6 403.5M84.4 564.9L100.9 568.5L114.4 572.2L127.4 576.6L139.4 581.7L150.8 587.5L162.1 594.5L172.4 602.1L181.4 610L189.6 618.5L197.7 628.5L204.5 638.5L211.4 650.5L217.4 663.1L222.8 676.5L227.8 691.5L231.7 705.5M354.4 419.9L347.4 415.2L340.4 411.1L332.4 407L324.4 403.5M84.4 568.6L99.4 572L112.4 575.7L124.4 579.8L136.4 584.9L148.4 591.1L158.4 597.2L168.4 604.5L177.6 612.5L186.3 621.5L193.7 630.5L200.6 640.5L207.1 651.5L213.1 663.5L218.5 676.5L223.7 691.5L227.8 705.5M354.4 415.3L344.4 409.1L333.5 403.5M84.4 572.3L98.4 575.6L111.4 579.4L123.4 583.8L135.4 589L145.9 594.5L156.4 601L165.4 607.7L174.4 615.5L182.4 623.7L190.4 633.4L196.8 642.5L203.4 653.6L209.4 665.5L214.5 677.5L219.9 692.5L223.8 705.5M354.4 410.8L347.5 406.5L341.9 403.5M84.4 576L96.4 578.9L109.4 582.9L122 587.5L133.4 592.6L144.4 598.5L153.9 604.5L163.3 611.5L171.4 618.6L179.1 626.5L185.7 634.5L193.4 645.3L199.6 655.5L205.3 666.5L210.6 678.5L215.8 692.5L219.8 705.5M354.4 406.4L349.6 403.5M84.4 579.7L96.4 582.8L109.4 586.9L121.3 591.5L131.4 596.2L141.4 601.5L151.4 607.9L160.2 614.5L168.4 621.7L176 629.5L182.6 637.5L189.4 646.9L196 657.5L201.4 667.8L206.6 679.5L211.6 692.5L215.8 705.5M84.4 583.4L96 586.5L108 590.5L119.4 595L130.4 600.2L140 605.5L149.2 611.5L157.4 617.7L165.4 624.8L172.9 632.5L180.4 641.5L186.4 649.9L192.3 659.5L197.6 669.5L202.7 680.5L207.4 692.5L211.8 705.5M84.4 587.2L95.4 590.3L106.4 594L117.4 598.5L128.4 603.8L137.4 608.8L146.4 614.7L154.4 620.7L162.4 627.8L169.4 634.9L176.4 643.2L182.5 651.5L188.4 660.9L193.6 670.5L198.7 681.5L203.1 692.5L207.7 705.5M84.4 591.1L95.4 594.3L106.4 598.2L117.4 602.8L126.8 607.5L135.6 612.5L144.6 618.5L152.4 624.6L160.1 631.5L167.4 639L173.7 646.5L179.5 654.5L185.1 663.5L190.1 672.5L194.8 682.5L199.3 693.5L203.6 705.5M84.4 594.9L95.4 598.3L105.4 602L115.9 606.5L125.4 611.3L134.2 616.5L142.4 622.1L150.4 628.4L157.1 634.5L163.9 641.5L170.4 649.2L176.4 657.4L181.4 665.3L186.4 674.3L190.9 683.5L195.4 694.3L199.5 705.5M84.4 598.8L94.4 602L104.4 605.7L113.4 609.7L122.8 614.5L131.2 619.5L139.4 625.1L147.4 631.4L154.2 637.5L160.4 643.9L166.4 650.9L172.1 658.5L177.4 666.6L182.4 675.4L186.9 684.5L191.3 694.5L195.5 705.5M84.4 602.7L94.4 606L103.4 609.6L112.4 613.7L121.4 618.4L129.4 623.3L137 628.5L144.4 634.4L151.2 640.5L157.4 646.9L163.1 653.5L168.4 660.5L173.7 668.5L178.4 676.5L183 685.5L187.4 695.3L191.4 705.5M84.4 606.7L93.4 609.8L102.4 613.4L111.4 617.7L119.4 622L126.8 626.5L134.4 631.8L141.6 637.5L148.2 643.5L154.4 649.8L160.1 656.5L165.4 663.5L170.1 670.5L174.8 678.5L179 686.5L183.2 695.5L187.3 705.5M84.4 610.7L93.4 614L101.8 617.5L110.1 621.5L117.4 625.5L125.4 630.5L132.4 635.5L138.7 640.5L145.3 646.5L151.1 652.5L156.4 658.6L161.7 665.5L166.5 672.5L171.3 680.5L175.4 688.2L179.4 696.5L183.2 705.5M84.4 614.8L92.4 617.8L100.4 621.2L108.4 625.2L115.4 629.1L122.5 633.5L129.4 638.4L135.4 643.2L141.4 648.6L147.2 654.5L152.5 660.5L157.4 666.7L162.4 673.8L166.6 680.5L171 688.5L175 696.5L179 705.5" fill="none" stroke="#828282" stroke-width="1.55"/>
<path d="M121.8 407.5V700.7M186.9 407.5V700.7M252.1 407.5V700.7M317.2 407.5V700.7M88.4 667.8H349.5M88.4 635.2H349.5M88.4 602.5H349.5M88.4 569.9H349.5M88.4 537.2H349.5M88.4 504.5H349.5M88.4 471.9H349.5M88.4 439.2H349.5" fill="none" stroke="#000" stroke-width="0.9" stroke-dasharray="0.9 1.2" stroke-opacity="0.6"/>
</g>
<rect x="88.4" y="407.5" width="261.1" height="293.2" fill="none" stroke="#000" stroke-width="1.3"/>
<path d="M121.8 407.5V403.9M121.8 700.7V704.3M186.9 407.5V403.9M186.9 700.7V704.3M252.1 407.5V403.9M252.1 700.7V704.3M317.2 407.5V403.9M317.2 700.7V704.3M88.4 700.5H84.8M349.5 700.5H353.1M88.4 667.8H84.8M349.5 667.8H353.1M88.4 635.2H84.8M349.5 635.2H353.1M88.4 602.5H84.8M349.5 602.5H353.1M88.4 569.9H84.8M349.5 569.9H353.1M88.4 537.2H84.8M349.5 537.2H353.1M88.4 504.5H84.8M349.5 504.5H353.1M88.4 471.9H84.8M349.5 471.9H353.1M88.4 439.2H84.8M349.5 439.2H353.1" stroke="#000" stroke-width="1.2"/>
<text x="80.4" y="705.9" font-size="15" text-anchor="end">4.00</text>
<text x="80.4" y="673.2" font-size="15" text-anchor="end">4.25</text>
<text x="80.4" y="640.6" font-size="15" text-anchor="end">4.50</text>
<text x="80.4" y="607.9" font-size="15" text-anchor="end">4.75</text>
<text x="80.4" y="575.2" font-size="15" text-anchor="end">5.00</text>
<text x="80.4" y="542.6" font-size="15" text-anchor="end">5.25</text>
<text x="80.4" y="509.9" font-size="15" text-anchor="end">5.50</text>
<text x="80.4" y="477.3" font-size="15" text-anchor="end">5.75</text>
<text x="80.4" y="444.6" font-size="15" text-anchor="end">6.00</text>
<text x="120.5" y="721.1" font-size="16" text-anchor="middle">−1.5</text>
<text x="185.7" y="721.1" font-size="16" text-anchor="middle">−1.0</text>
<text x="250.8" y="721.1" font-size="16" text-anchor="middle">−0.5</text>
<text x="317.2" y="721.1" font-size="16" text-anchor="middle">0.0</text>
<rect x="94.4" y="417.7" width="157" height="23" rx="4" ry="4" fill="#d3d3d3" fill-opacity="0.85" stroke="#000" stroke-width="1.3"/>
<text x="99.6" y="433.2" font-size="15" font-weight="bold">Template fit vs 11.3<tspan font-style="italic">μ</tspan>m</text>
<path d="M304.85 542.70L306.24 546.98L310.75 546.98L307.10 549.63L308.49 553.92L304.85 551.27L301.21 553.92L302.60 549.63L298.95 546.98L303.46 546.98Z" fill="#fff" stroke="#000" stroke-width="1.45" stroke-linejoin="miter"/>
<path d="M287.70 569.30L281.40 581.90L294.00 581.90Z" fill="#fff" stroke="#000" stroke-width="1.45" stroke-linejoin="miter"/>
<path d="M277.30 510.10L282.84 513.30L282.84 519.70L277.30 522.90L271.76 519.70L271.76 513.30Z" fill="#fff" stroke="#000" stroke-width="1.45" stroke-linejoin="miter"/>
<path d="M321.20 565.20L333.60 565.20L333.60 577.60L321.20 577.60Z" fill="#fff" stroke="#000" stroke-width="1.45" stroke-linejoin="miter"/>
<circle cx="299.3" cy="541.0" r="8.0" fill="#fff" stroke="#000" stroke-width="1.5"/>
<g clip-path="url(#c3)">
<g>
<path d="M394.3 403.5H664.3V705.5H394.3Z" fill="#a700ff"/>
<path d="M394.3 403.5L664.3 403.5L664.3 705.5L394.3 705.5ZM536.3 564.3L533.9 567.5L533.8 568.5L535.7 575.5L538 579.5L547.3 591.3L551.3 595.5L558.3 599.9L559.3 599.5L562 595.5L560.5 589.5L556.3 582.2L550.3 574L544.3 567.6L540.3 564.8L537.3 564.1Z" fill="#9c00ff"/>
<path d="M394.3 403.5L664.3 403.5L664.3 705.5L394.3 705.5ZM529.3 553.4L523 556.5L521.9 557.5L522.7 561.5L524.8 568.5L530.2 576.5L542.9 591.5L559.3 615.3L566.3 621.5L570.3 624.2L571.1 622.5L572.7 614.5L573 606.5L571.3 595.5L569.7 589.5L566.3 579.4L563.3 572.5L558.1 565.5L550.8 560.5L543.3 556.7L537.3 554.4Z" fill="#9100ff"/>
<path d="M394.3 403.5L664.3 403.5L664.3 705.5L394.3 705.5ZM521.3 548.5L517.3 549.5L514.1 551.5L513.5 556.5L515.2 563.5L522.3 573.5L534.3 586.5L541.3 595.3L563.3 631.6L570.3 637.7L575.3 638.7L576.3 637.2L577.4 632.5L578.6 618.5L578.6 614.5L577.3 603.5L576.3 598L572.8 585.5L568.9 574.5L565.9 568.5L561.3 562.7L558.3 560.1L551 555.5L542.3 551.1L536.3 549L532.3 548.2L525.3 547.6Z" fill="#8600ff"/>
<path d="M394.3 403.5L664.3 403.5L664.3 705.5L394.3 705.5ZM518.3 543.3L506.7 547.5L506.3 554.5L507.6 560.5L515.5 571.5L531.3 588.4L538.5 597.5L543.6 605.5L556.3 628.2L565.3 643L568.3 646.1L571.3 648.3L577.3 650L578.3 649.1L578.9 647.5L581.9 637.5L583 629.5L583 621.5L580.3 602.5L578 592.5L574.4 580.5L570.4 571.5L566.4 565.5L561.3 559.4L558.3 556.6L551.3 551.7L541.3 547.1L533.3 544.4L522.3 542.6Z" fill="#7b00ff"/>
<path d="M394.3 403.5L664.3 403.5L664.3 705.5L394.3 705.5ZM512.3 539.5L505.3 542L500.3 544.7L499.3 546.5L499.2 547.5L499.3 554.5L500.3 557.5L509.3 569.5L528.5 590.5L535.6 599.5L545.9 615.5L557.3 636.9L567.3 653.1L574.3 659.2L578.3 660.6L579.3 660.1L580.3 659.4L580.7 658.5L585.3 645.7L586.1 636.5L586.2 626.5L583.8 605.5L581.3 593.2L577.1 580.5L573 571.5L567.3 563.1L560.3 555.2L555.3 551.1L546.3 545.7L539.3 542.8L531.3 540.6L518.3 538.9Z" fill="#7000ff"/>
<path d="M394.3 403.5L664.3 403.5L664.3 705.5L394.3 705.5ZM506.3 536.4L501.3 537.8L494 541.5L491.7 545.5L492 549.5L493.7 555.5L503.2 567.5L521.7 587.5L530.3 598.2L538.6 609.5L545.3 620.1L558.3 645.3L568.3 662.1L572.3 666.6L578.3 671.6L579.3 671.7L581.3 670.8L582.3 669.9L583.7 666.5L587.3 656L589 640.5L588.9 628.5L587.3 610.3L585.6 600.5L580.4 582.5L575.6 571.5L569.3 562.1L561.7 553.5L554.3 547.3L547.3 543.3L538.3 539.3L529.3 537.1L514.3 535.7Z" fill="#6500ff"/>
<path d="M394.3 403.5L664.3 403.5L664.3 705.5L394.3 705.5ZM503.3 533.5L495.3 534.8L487.6 538.5L486.5 539.5L484.1 544.5L486.8 553.5L497.8 566.5L518.1 587.5L535.3 609.5L540.1 616.5L544.8 624.5L559.3 653.4L569.3 671.5L572.3 675.5L579.3 682.9L581.3 683.5L583.3 682.6L584.3 681.2L588 671.5L589.5 663.5L591.7 644.5L591.6 631.5L590.3 614.5L587.3 598.5L583 582.5L578.6 572.5L573 563.5L565.7 554.5L557.3 546.6L550.3 542L538.3 536.8L528.3 534L511.3 532.7Z" fill="#5a00ff"/>
<path d="M394.3 403.5L664.3 403.5L664.3 705.5L394.3 705.5ZM501.3 530.4L487.3 532.9L479.3 536.5L477.3 540.2L476.7 543.5L479.6 551.5L492.2 565.5L507.3 579.5L514.1 586.5L521.3 595.1L533.8 611.5L539.8 620.5L545.4 630.5L571.3 683.7L580.3 696L584.3 698.2L585.3 698L589.3 685.8L592.9 662.5L594.2 650.5L594.1 633.5L592.3 613.8L589.3 597.7L586.2 585.5L581.3 573.1L575 562.5L567.3 552.9L558.3 544.6L549.3 538.9L536.3 533.6L524.3 530.6L510.3 529.9Z" fill="#5000ff"/>
<path d="M394.3 403.5L664.3 403.5L664.3 705.5L590.8 705.5L591.9 692.5L596.3 660.2L596.4 636.5L594.3 614.5L591.3 597.5L588.3 585.5L585.1 576.5L582.9 571.5L576.3 560.6L569 551.5L560.3 543.5L551.3 537.5L546.3 535L540.3 532.7L526.3 528.9L518.3 527.6L503.3 527.1L492.3 528.4L479.3 530.9L472.4 533.5L470.8 534.5L469.8 536.5L469.1 542.5L469.4 543.5L472.5 550.5L486.9 564.5L500.3 576.2L510.3 585.9L524.7 602.5L534 615.5L541.8 628.5L548.9 642.5L566 680.5L572.3 696.6L577 705.5L394.3 705.5Z" fill="#4500ff"/>
<path d="M394.3 403.5L664.3 403.5L664.3 705.5L594.5 705.5L595.1 695.5L598.5 665.5L598.6 648.5L597.7 630.5L596 614.5L592.4 593.5L588 578.5L583.6 568.5L577.5 558.5L570.2 549.5L562.3 542.4L553.3 536.3L543.3 531.5L529.3 527.5L514.3 525.1L502.3 524.7L497.3 524.8L487.3 525.9L469 529.5L463.3 531.5L461.6 532.5L461.1 533.5L461.3 542.5L465.1 549.5L495.3 574.9L510.3 589L521.5 601.5L529 611.5L539.4 628.5L551.7 653.5L557.7 667.5L563.5 682.5L567.8 694.5L571.1 705.5L394.3 705.5Z" fill="#3a00ff"/>
<path d="M394.3 403.5L664.3 403.5L664.3 705.5L598.1 705.5L598.6 694.5L600.4 675.5L600.7 661.5L600.1 640.5L598.7 621.5L595.8 601.5L593.6 591.5L589.8 578.5L584.3 565.5L578.8 556.5L571.3 547.5L563.1 540.5L552.3 533.6L541.3 528.7L531.3 525.9L519.3 523.6L502.3 522.3L493.3 522.4L485.3 523.2L475.3 524.7L455.8 528.5L451.9 530.5L452.4 541.5L457.2 548.5L484.3 568.9L504.3 586L518.2 600.5L526.1 610.5L532.5 620.5L539.3 632.5L551.1 657.5L559.5 678.5L564.4 693.5L567.7 705.5L394.3 705.5Z" fill="#2f00ff"/>
<path d="M394.3 403.5L664.3 403.5L664.3 705.5L601.3 705.5L602.4 681.5L602.4 660.5L601.6 636.5L600.1 618.5L597.4 600.5L593.3 583.5L589.1 571.5L583.3 559.6L577.9 551.5L571.3 544.5L560.3 536.2L549.3 529.9L538.3 525.6L526.3 522.8L513.3 521L496.3 519.9L487.3 520.1L476.3 521.5L461.3 523.8L443 527.5L441.7 528.5L442.9 540.5L447.1 546.5L478.3 567.5L498.3 583.4L513.3 597.9L523.2 609.5L529.3 618.6L537.1 632.5L542.7 643.5L548.9 657.5L557.9 680.5L565 705.5L394.3 705.5Z" fill="#2400ff"/>
<path d="M394.3 403.5L664.3 403.5L664.3 705.5L604.4 705.5L604.2 664.5L603.6 642.5L602.5 625.5L599.9 605.5L595.8 586.5L591.7 573.5L585.3 559.4L581.3 552.6L578.3 548.5L570.3 541.1L560.3 534L550.3 528.4L540.3 524.4L531.3 521.9L517.3 519.4L489.3 517.6L479.3 518.1L454.3 521.6L442.9 523.5L432.3 526L431 526.5L430.6 527.5L432.8 539.5L437.3 545.5L455.3 555.8L471 565.5L492.3 581L509.3 596.4L520.1 608.5L525.8 616.5L531.3 625.5L539.2 640.5L544.8 652.5L551.7 669.5L556 681.5L559.4 692.5L562.6 705.5L394.3 705.5Z" fill="#1900ff"/>
<path d="M394.3 403.5L664.3 403.5L664.3 705.5L606.5 705.5L605.9 664.5L605.2 641.5L603.8 623.5L601.2 604.5L596.8 584.5L591.8 569.5L588.3 561.5L584.5 554.5L581.1 549.5L577.3 545.1L568.5 537.5L557.9 530.5L549.3 526.1L537.3 521.7L529.3 519.7L515.3 517.4L502.3 516.2L481.3 515.4L472.3 516L433.7 521.5L423.7 523.5L417.1 525.5L418.7 528.5L420.7 534.5L421.6 539.5L426.3 544.5L446.3 554.2L463 563.5L483.3 576.7L492.2 583.5L502.3 592.3L511.3 601.1L517.8 608.5L524.3 617.4L530.3 627.4L536.3 638.7L543.3 653.5L547.8 664.5L553.6 680.5L557.3 692.7L560.5 705.5L394.3 705.5Z" fill="#0900ff"/>
<path d="M394.3 403.5L664.3 403.5L664.3 705.5L608.4 705.5L607.3 655.5L606.1 631.5L603.7 610.5L598.9 586.5L596 576.5L593.1 568.5L589.6 560.5L585.7 553.5L582.2 548.5L577.3 542.8L571.4 537.5L565.9 533.5L557.8 528.5L550.3 524.7L535.4 519.5L529.3 518L516.3 515.8L497.3 514.2L469.3 513.4L443.3 516.7L403.3 522.7L394.3 522.8ZM394.3 527.5L394.3 526.7L396.3 526.8L399.3 527.5L401.3 528.5L405.4 533.5L407.3 538.5L413.8 543.5L425.3 548L442.3 555.6L461.3 565.3L478.3 575.7L487.3 582.1L496.4 589.5L511.3 603.7L518.3 612.1L524.8 621.5L530.6 631.5L538.2 646.5L544.4 660.5L549.3 673.5L554 688.5L558.4 705.5L394.3 705.5Z" fill="#0400ff"/>
<path d="M394.3 403.5L664.3 403.5L664.3 705.5L610 705.5L608.8 656.5L607.7 633.5L605.1 610.5L600.5 586.5L595.2 569.5L591.3 560.5L587.5 553.5L583.3 547.5L578.3 541.7L573.9 537.5L567.3 532.4L554.3 524.8L547.3 521.7L541.3 519.6L526.3 515.7L506.3 513.1L476.6 511.5L460.3 511.4L410.3 517.6L402.3 518.2L394.3 517.9ZM394.3 542.5L404.3 544.3L416.3 548.1L432.3 554.3L456.3 565.3L471.3 573.7L482.3 580.8L494.3 590.1L505.7 600.5L513.9 609.5L521.3 619.4L528.7 631.5L535.4 644.5L542.9 661.5L547.9 674.5L552.7 690.5L556.4 705.5L394.3 705.5Z" fill="#0007ff"/>
<path d="M394.3 403.5L664.3 403.5L664.3 705.5L611.7 705.5L610.3 655.5L609.2 634.5L606.3 609.5L602.2 587.5L599.5 577.5L596.8 569.5L593 560.5L589.3 553.6L584.3 546.5L579.3 540.6L574.3 535.8L568.8 531.5L557.5 524.5L545.3 519.2L527.3 514.3L510.3 511.8L485.3 510.2L455.3 509.3L444.3 509.9L409.3 513.8L401.3 514.1L394.3 513.7ZM394.3 546.5L394.3 545.6L401.3 547L419.3 552.5L444.3 562.3L461.4 570.5L472.3 576.5L482.3 583.2L493.3 591.6L504.2 601.5L512.4 610.5L519.3 619.6L526.8 631.5L533.1 643.5L539.4 657.5L546.4 675.5L550.4 688.5L554.4 705.5L394.3 705.5Z" fill="#0012ff"/>
<path d="M394.3 403.5L664.3 403.5L664.3 705.5L613.3 705.5L611.6 651.5L610.3 630.5L607.4 607.5L603.3 585.8L597.6 567.5L594.2 559.5L590.9 553.5L586.3 546.7L581.3 540.6L576.3 535.5L570.3 530.6L557.3 522.6L545.3 517.5L528.3 513L513.3 510.6L489.3 508.7L453.3 507.5L432.3 507.9L406.3 509.9L394.3 509.5ZM394.3 549.5L394.3 548.9L401.3 550.3L415.5 554.5L438.3 562.5L459.3 571.7L471.3 578.2L483.3 586.1L493.3 593.9L501.7 601.5L510.3 610.8L517.3 619.9L524.9 631.5L531.3 643.5L538.5 659.5L545 676.5L549 689.5L552.7 705.5L394.3 705.5Z" fill="#001dff"/>
<path d="M394.3 403.5L664.3 403.5L664.3 705.5L614.9 705.5L613.1 652.5L612.2 636.5L608.8 607.5L606.4 593.5L604.4 584.5L601.5 574.5L598.4 565.5L595.3 558.6L592 552.5L587.3 545.6L582.3 539.5L576.3 533.5L570.3 528.7L558.4 521.5L547.1 516.5L533.3 512.6L517.3 509.5L496.3 507.5L463.3 506L436.3 505.7L405.3 506.1L394.3 505.5ZM394.3 552.5L394.3 551.9L401.3 553.5L426.3 560.9L443.3 566.9L456.6 572.5L468.3 578.6L481.3 586.9L491.3 594.5L500.3 602.5L508.5 611.5L517.3 622.9L523.6 632.5L529.5 643.5L536.8 659.5L543.3 676.5L547.6 690.5L551.1 705.5L394.3 705.5Z" fill="#002dff"/>
<path d="M394.3 403.5L664.3 403.5L664.3 705.5L616.5 705.5L614.6 651.5L613.5 636.5L610.2 607.5L608 594.5L605.5 583.5L599.9 565.5L596.4 557.5L593.3 551.9L588.3 544.5L583.4 538.5L577.4 532.5L572.3 528.3L566.8 524.5L559.7 520.5L546.3 514.7L533.3 511L514.3 507.6L495.3 505.9L466.3 504.5L446.3 503.9L406.3 503.7L394.3 503.2ZM394.3 555.5L394.3 555.1L408.6 558.5L429.3 564.3L443.3 569.1L454.3 573.6L465.3 579.1L478.3 586.9L488.7 594.5L498.3 602.9L506.3 611.5L515.7 623.5L522.3 633.5L528.3 644.5L534.3 657.5L540.6 673.5L545.6 689.5L549.5 705.5L394.3 705.5Z" fill="#0033ff"/>
<path d="M394.3 403.5L664.3 403.5L664.3 705.5L618.1 705.5L616.1 654.5L614.3 631.5L610.7 602.5L606.3 581.4L601.3 565.2L598 557.5L594.2 550.5L589.4 543.5L584.5 537.5L579.3 532.2L573.3 527.2L567.3 523L561.3 519.6L547.3 513.6L533.3 509.5L513.3 506L500.3 504.6L473.3 503.2L394.3 500.9ZM394.3 558.5L394.3 557.8L398.3 558.6L425.3 565.3L441.3 570.4L453.3 575.2L465.3 581.1L476.3 587.6L487.3 595.5L496.5 603.5L505.3 612.8L514.4 624.5L521 634.5L527.3 645.9L534 660.5L539.7 675.5L544 689.5L547.9 705.5L394.3 705.5Z" fill="#003eff"/>
<path d="M394.3 403.5L664.3 403.5L664.3 705.5L619.7 705.5L617.6 657.5L615.5 630.5L611.6 600.5L607.4 580.5L604.6 570.5L602.1 563.5L599.1 556.5L595.2 549.5L590.5 542.5L585.6 536.5L580.3 531.1L574.3 526.1L564.3 519.5L550.3 513.2L535.3 508.6L516.3 505L500.3 503.1L483.3 502L394.3 498.9ZM394.3 560.5L408.3 563.2L428.3 568.2L440.3 572L451.9 576.5L464.3 582.5L474.3 588.3L485.3 596L495.2 604.5L503.3 612.9L511.8 623.5L518.6 633.5L525.9 646.5L532.4 660.5L538.5 676.5L542.5 689.5L546.3 705.5L394.3 705.5Z" fill="#004eff"/>
<path d="M394.3 403.5L664.3 403.5L664.3 705.5L621.3 705.5L619.1 660.5L616.4 628.5L612.7 599.5L608.3 578.6L606.3 571.3L602.8 561.5L599.7 554.5L596.3 548.4L592.3 542.4L587.3 536.2L581.8 530.5L576 525.5L570.3 521.5L563.6 517.5L551.3 512.1L537.3 507.8L517.3 503.8L502.3 501.8L488.3 500.7L394.3 497ZM394.3 562.5L408.3 565.2L428.3 570.1L441.3 574.2L453.3 579.1L465.3 584.9L476.2 591.5L485.8 598.5L495 606.5L503.5 615.5L511.3 625.4L518.6 636.5L525.2 648.5L531.3 661.8L536.9 676.5L541.3 690.5L544.8 705.5L394.3 705.5Z" fill="#0053ff"/>
<path d="M394.3 403.5L664.3 403.5L664.3 705.5L622.8 705.5L620.3 661.1L617.3 625.5L614.1 600.5L609.3 577.3L603.9 560.5L600.7 553.5L597.3 547.3L593.3 541.3L588.3 535.1L582.9 529.5L577 524.5L571.3 520.4L564.7 516.5L552.3 511L537.3 506.4L517.3 502.4L500.3 500.1L489.3 499.2L394.3 495ZM394.3 564.5L394.3 564.2L412.3 568L427.3 571.7L440.3 575.8L453.3 580.9L464.3 586.3L474.7 592.5L485.3 600.1L493.3 607.1L502.3 616.4L509.3 625.1L516.8 636.5L523.3 648.1L529.6 661.5L535.4 676.5L540.1 691.5L543.3 705.5L394.3 705.5Z" fill="#0064ff"/>
<path d="M394.3 403.5L664.3 403.5L664.3 705.5L624.2 705.5L621.2 657.5L618.3 624.5L615.4 601.5L610.7 577.5L605.3 560.5L602.3 553.5L598.5 546.5L594.3 540.1L589.3 533.9L584 528.5L578.3 523.7L567.3 516.4L554.3 510.2L537.3 505L520.3 501.6L490.3 497.7L394.3 493ZM394.3 566.5L394.3 566.1L425.3 573L438.3 576.9L451.3 581.8L462.3 587.1L473.3 593.5L483.3 600.6L492.3 608.3L501.2 617.5L508.5 626.5L515.7 637.5L522.3 649.4L528.8 663.5L534.2 677.5L538.6 691.5L541.9 705.5L394.3 705.5Z" fill="#0069ff"/>
<path d="M394.3 403.5L664.3 403.5L664.3 705.5L625.5 705.5L622.3 657.5L619.9 628.5L617.2 605.5L613.6 584.5L609.1 567.5L604.3 554.5L598.3 543.3L590.3 532.8L585.1 527.5L579.3 522.6L573.3 518.4L566.3 514.2L553.3 508.4L534.3 503L514.3 499.4L488.3 496.1L394.3 491.1ZM394.3 568.5L394.3 567.9L424.3 574.6L438.3 578.7L450.3 583.1L462.3 588.9L473.3 595.4L482.3 601.8L491.3 609.5L500.1 618.5L507.4 627.5L514.6 638.5L521.2 650.5L527.3 663.5L533.1 678.5L537.2 691.5L540.5 705.5L394.3 705.5Z" fill="#0074ff"/>
<path d="M394.3 403.5L664.3 403.5L664.3 705.5L626.7 705.5L621.1 628.5L618.6 606.5L615 585.5L610.5 567.5L605.7 554.5L599.3 542.2L591.3 531.7L586.1 526.5L580.1 521.5L573.3 516.7L566.3 512.7L552.3 506.6L533.4 501.5L510.3 497.6L482.3 494.3L394.3 489.2ZM394.3 570.5L394.3 569.6L424.3 576.3L437.3 580L449.3 584.5L461.3 590.2L472.2 596.5L481.3 602.9L490.3 610.6L499 619.5L506.3 628.5L512.9 638.5L519.6 650.5L525.7 663.5L531.6 678.5L536 692.5L539.1 705.5L394.3 705.5Z" fill="#0084ff"/>
<path d="M394.3 403.5L664.3 403.5L664.3 705.5L627.9 705.5L622.3 629.7L619.9 607.5L616.5 586.5L611.8 567.5L607.2 554.5L600.6 541.5L593.2 531.5L587.3 525.6L581.3 520.6L574.3 515.8L567.3 511.7L552.3 505.3L533.3 500.2L510.3 496.4L480.3 492.8L394.3 487.4ZM394.3 571.5L427.3 578.8L438.3 582L448.3 585.8L460.3 591.4L470.3 597.1L479.5 603.5L489.3 611.8L497.3 619.8L504.4 628.5L511.2 638.5L518 650.5L524.3 663.8L529.8 677.5L534.6 692.5L537.7 705.5L394.3 705.5Z" fill="#008fff"/>
<path d="M394.3 403.5L664.3 403.5L664.3 705.5L629 705.5L623.1 626.5L620.8 606.5L617.6 586.5L613.1 567.5L608.2 553.5L601.6 540.5L594.3 530.5L589.3 525.5L582.3 519.7L575.3 514.8L567.8 510.5L560.3 507L552.3 504L535.3 499.4L511.3 495.3L478.3 491.4L394.3 485.9ZM394.3 573.5L394.3 573.1L427.3 580.4L438.3 583.7L450.3 588.3L460.3 593.1L470.3 598.9L480.3 606.1L489 613.5L496.8 621.5L504.3 630.8L510.7 640.5L517.3 652.3L523.5 665.5L528.7 678.5L533.1 692.5L536.3 705.5L394.3 705.5Z" fill="#0095ff"/>
<path d="M394.3 403.5L664.3 403.5L664.3 705.5L630.2 705.5L624 624.5L621.5 603.5L618.8 586.5L614.3 567.5L609.3 552.9L602.6 539.5L595.3 529.5L589.3 523.6L583.3 518.7L576.3 513.9L569.3 509.8L562.3 506.5L554.3 503.4L537.3 498.7L514.3 494.5L479.3 490.3L446.3 487.7L394.3 484.3ZM394.3 575.5L394.3 574.8L424.3 581.2L437.3 585L448.3 589.1L459.3 594.2L468.4 599.5L478.3 606.4L487.3 614L495.3 622.1L502.3 630.6L509 640.5L515.3 651.5L521.5 664.5L527.3 678.8L531.8 692.5L534.9 705.5L394.3 705.5Z" fill="#00a0ff"/>
<path d="M394.3 403.5L664.3 403.5L664.3 705.5L631.4 705.5L625.2 625.5L622.4 601.5L619.5 584.5L615.6 567.5L610.1 551.5L603.6 538.5L596.1 528.5L591.3 523.6L585.2 518.5L578.3 513.6L571.3 509.4L565.3 506.4L557.3 503.1L547.3 499.9L539.3 497.9L516.3 493.6L483.3 489.6L447.6 486.5L394.3 482.8ZM394.3 576.5L426.3 583.4L438.3 586.9L448.3 590.7L458.5 595.5L468.3 601.2L477.3 607.5L486.3 615.1L494.3 623.2L501.3 631.7L507.9 641.5L514.2 652.5L520.3 665.1L526.1 679.5L530.4 692.5L533.6 705.5L394.3 705.5Z" fill="#00aaff"/>
<path d="M394.3 403.5L664.3 403.5L664.3 705.5L632.5 705.5L625.9 621.5L623.5 601.5L620.3 582.5L616.3 565.5L611.1 550.5L604.5 537.5L597 527.5L592.1 522.5L586.1 517.5L579.3 512.7L572.2 508.5L564.3 504.6L558.3 502.2L540.3 496.9L516.3 492.4L485.3 488.6L456.3 485.9L394.3 481.4ZM394.3 578.5L394.3 577.9L423.3 584.1L435.3 587.5L446.4 591.5L457.3 596.6L467.3 602.3L476.3 608.6L485.3 616.2L493.3 624.3L500.3 632.9L506.9 642.5L513.1 653.5L519.4 666.5L525 680.5L529.3 693.5L532.3 705.5L394.3 705.5Z" fill="#00bbff"/>
<path d="M394.3 403.5L664.3 403.5L664.3 705.5L633.7 705.5L627.1 622.5L624.6 601.5L621 580.5L616.7 562.5L611.6 548.5L605.4 536.5L597.8 526.5L592.9 521.5L587 516.5L579.8 511.5L572.3 507.1L558.3 500.9L540.3 495.7L517.3 491.4L486.3 487.5L457.3 484.8L394.3 480ZM394.3 579.5L426.3 586.4L437.3 589.7L447.3 593.5L457.3 598.2L467.3 604.1L476.3 610.5L484.3 617.3L492.3 625.4L499.3 634L505.8 643.5L512.1 654.5L518.3 667.5L523.5 680.5L527.9 693.5L530.9 705.5L394.3 705.5Z" fill="#00c6ff"/>
<path d="M394.3 403.5L664.3 403.5L664.3 705.5L634.8 705.5L628.4 624.5L625.4 599.5L621.8 578.5L617.6 561.5L612.3 546.8L606.3 535.5L598.7 525.5L593.3 520.1L587.3 515.1L580.3 510.3L572.3 505.7L558.3 499.6L539.3 494.3L517.3 490.2L486.3 486.4L450.3 482.9L394.3 478.7ZM394.3 581.5L394.3 580.8L422.3 586.8L433.3 589.9L444.3 593.8L454.3 598.3L464.3 603.9L473.9 610.5L482.4 617.5L490.3 625.4L497.3 633.8L504.1 643.5L510.3 654.1L516.3 666.4L521.7 679.5L526.5 693.5L529.6 705.5L394.3 705.5Z" fill="#00cbff"/>
<path d="M394.3 403.5L664.3 403.5L664.3 705.5L635.9 705.5L629.4 623.5L626.3 598.3L622.8 577.5L618.6 560.5L613.3 545.9L607.2 534.5L599.5 524.5L594.3 519.2L588.3 514.2L581.3 509.4L573.3 504.8L559.3 498.7L540.3 493.4L520.3 489.5L489.3 485.5L446.3 481.4L394.3 477.3ZM394.3 582.5L394.3 582.2L424.3 588.8L435.3 592L444.3 595.3L455.3 600.5L464.1 605.5L472.8 611.5L481.3 618.5L488.4 625.5L496 634.5L503 644.5L508.9 654.5L514.8 666.5L520.7 680.5L525.1 693.5L528.2 705.5L394.3 705.5Z" fill="#00d6ff"/>
<path d="M394.3 403.5L664.3 403.5L664.3 705.5L637.1 705.5L630.4 622.5L627.3 597.5L624.1 578.5L620.1 561.5L614.9 546.5L608.8 534.5L601.3 524.5L595.4 518.5L589.4 513.5L582.3 508.6L575.3 504.5L560.3 497.8L542.3 492.7L520.3 488.4L492.3 484.7L436.3 479.2L394.3 476ZM394.3 584.5L394.3 583.5L420.3 589.2L432.3 592.5L443.3 596.5L453.3 601L463 606.5L472.3 612.9L480.3 619.5L488.2 627.5L495.3 636.1L501.9 645.5L507.8 655.5L513.8 667.5L519.2 680.5L523.7 693.5L526.9 705.5L394.3 705.5Z" fill="#00e1ff"/>
<path d="M394.3 403.5L664.3 403.5L664.3 705.5L638.2 705.5L631.8 626.5L628.4 597.5L625.1 577.5L620.7 559.5L615.9 545.5L609.7 533.5L602.2 523.5L596.3 517.6L590.3 512.6L583.3 507.7L576 503.5L568.3 499.8L560.3 496.5L542.3 491.5L519.3 487.1L494.3 483.8L425.3 477L394.3 474.6ZM394.3 585.5L394.3 584.9L422.3 591.1L433.3 594.3L443.3 598L453.3 602.6L462.3 607.7L471.3 613.9L479.3 620.6L487.2 628.5L494.6 637.5L500.9 646.5L506.8 656.5L512.8 668.5L518.2 681.5L522.6 694.5L525.5 705.5L394.3 705.5Z" fill="#00f1ff"/>
<path d="M394.3 403.5L664.3 403.5L664.3 705.5L639.3 705.5L632.8 626.5L629.4 597.5L626.2 577.5L621.7 558.5L616.8 544.5L610.6 532.5L603 522.5L597.3 516.7L591.3 511.7L585.3 507.5L577.3 502.9L569.3 498.9L561.3 495.7L543.3 490.6L521.3 486.3L496.3 482.9L423.3 475.6L394.3 473.3ZM394.3 586.5L394.3 586.2L423.3 592.7L433.3 595.7L443.3 599.5L453.3 604.2L462.3 609.4L470.3 615L478.3 621.6L486.1 629.5L492.8 637.5L499.2 646.5L505.3 656.7L511.2 668.5L516.7 681.5L521.3 694.5L524.2 705.5L394.3 705.5Z" fill="#00fcff"/>
<path d="M394.3 403.5L664.3 403.5L664.3 705.5L640.4 705.5L633.6 624.5L630.3 596.5L627.1 576.5L622.6 557.5L617.8 543.5L611.5 531.5L603.9 521.5L598.3 515.9L592.3 510.9L585.3 506.1L578.3 502L570.3 498.1L562.3 494.9L544.3 489.7L521.3 485.1L498.3 481.9L422.3 474.2L394.3 472.1ZM394.3 587.5L423.3 594.1L434.3 597.5L443.3 600.9L452.3 605.2L461.4 610.5L470 616.5L477.3 622.7L484.3 629.6L491.8 638.5L498.1 647.5L504.1 657.5L510.2 669.5L515.3 681.5L519.9 694.5L522.9 705.5L394.3 705.5Z" fill="#00fffd"/>
<path d="M394.3 403.5L664.3 403.5L664.3 705.5L641.5 705.5L634.4 622.5L631.4 596.5L628 575.5L623.6 556.5L618.7 542.5L613 531.5L605.3 521.1L599.8 515.5L593.8 510.5L587.3 505.9L579.8 501.5L571.7 497.5L563.3 494.1L545.3 488.9L521.3 484.1L500.3 481L421.3 472.9L394.3 470.8ZM394.3 589.5L394.3 588.8L421.3 594.9L431.3 597.9L441.3 601.6L451.3 606.3L460.3 611.5L468.3 617L476.3 623.7L484.1 631.5L490.8 639.5L497.1 648.5L503.1 658.5L509.1 670.5L514.2 682.5L518.5 694.5L521.5 705.5L394.3 705.5Z" fill="#00fff2"/>
<path d="M394.3 403.5L664.3 403.5L664.3 705.5L642.5 705.5L635 618.5L632 593.5L628.7 573.5L624.5 555.5L619.6 541.5L614 530.5L606.3 520.3L600.6 514.5L594.6 509.5L588.3 505.1L580.3 500.4L564.3 493.3L546.3 488L525.3 483.7L502.3 480.1L420.1 471.5L394.3 469.5ZM394.3 590.5L394.3 590.1L421.3 596.3L431.3 599.2L441.3 603L450.7 607.5L459.3 612.5L467.9 618.5L475.3 624.7L482.3 631.7L489.3 639.9L495.4 648.5L501.5 658.5L507.2 669.5L512.4 681.5L517.1 694.5L520.2 705.5L394.3 705.5Z" fill="#00ffe7"/>
<path d="M394.3 403.5L664.3 403.5L664.3 705.5L643.5 705.5L635.6 615.5L632.8 591.5L629.6 572.5L625.7 555.5L621 541.5L614.9 529.5L607.4 519.5L602.3 514.3L596.3 509.2L589.6 504.5L582.3 500.2L575 496.5L566.3 492.8L557.3 489.8L548.3 487.4L526.3 482.8L502.3 479L422.3 470.5L394.3 468.3ZM394.3 591.5L422.3 597.9L431.3 600.6L440.3 604.1L449.7 608.5L458.3 613.5L466.9 619.5L474.3 625.7L481.3 632.7L488.3 640.9L494.4 649.5L500.5 659.5L506.1 670.5L511.3 682.5L515.7 694.5L518.8 705.5L394.3 705.5Z" fill="#00ffd7"/>
<path d="M394.3 403.5L664.3 403.5L664.3 705.5L644.5 705.5L636.3 612.4L633.4 588.5L630.3 570.5L626.4 553.5L621.5 539.5L615.8 528.5L608.3 518.5L603.3 513.5L597.3 508.4L590.3 503.5L583.3 499.4L575.6 495.5L567.3 492L558.3 489L549 486.5L525.3 481.6L499.3 477.5L420.3 469.1L394.3 467.1ZM394.3 593.5L394.3 592.6L418.3 598.1L429.3 601.3L439.3 605.1L448.3 609.3L457.3 614.5L465.3 620L473.1 626.5L480.3 633.7L487 641.5L493.3 650.3L498.9 659.5L504.6 670.5L509.9 682.5L514.3 694.5L517.4 705.5L394.3 705.5Z" fill="#00ffcc"/>
<path d="M394.3 403.5L664.3 403.5L664.3 705.5L645.5 705.5L637.2 611.5L634.3 587.5L631.3 569.5L627.3 552.5L622.5 538.5L616.7 527.5L609.3 517.7L604.1 512.5L598.1 507.5L591.3 502.7L584.1 498.5L576.1 494.5L567.3 490.9L549.3 485.5L524.9 480.5L496.3 476.1L419.3 467.9L394.3 466ZM394.3 594.5L394.3 593.8L418.3 599.4L428.3 602.4L438.3 606.1L447.3 610.3L456.3 615.5L464.3 621L472.1 627.5L479.3 634.7L486 642.5L492.3 651.4L497.8 660.5L503.5 671.5L508.4 682.5L512.9 694.5L516.1 705.5L394.3 705.5Z" fill="#00ffc7"/>
<path d="M394.3 403.5L664.3 403.5L664.3 705.5L646.4 705.5L637.9 608.5L635.5 588.5L632.2 568.5L628.2 551.5L623.8 538.5L618.3 527.5L610.9 517.5L606.1 512.5L600.2 507.5L593.2 502.5L585.3 497.8L576.6 493.5L568.3 490.1L550.3 484.7L525.1 479.5L495.3 474.9L417.3 466.5L394.3 464.8ZM394.3 595.5L394.3 595L419.3 600.9L429.3 604.1L438.3 607.5L447.3 611.8L455.4 616.5L463.3 622L471.1 628.5L478.2 635.5L484.3 642.7L490.7 651.5L496.3 660.6L502 671.5L507.3 683.4L511.4 694.5L514.7 705.5L394.3 705.5Z" fill="#00ffbc"/>
<path d="M394.3 403.5L664.3 403.5L664.3 705.5L647.4 705.5L638.8 607.5L636.4 587.5L633.3 568.6L629.3 551L624.8 537.5L619.2 526.5L611.8 516.5L606.3 511L600.3 506L593.3 501.2L585.3 496.5L577.1 492.5L568.3 488.9L550.3 483.6L524.3 478.3L493.3 473.6L418.7 465.5L394.3 463.6ZM394.3 596.5L394.3 596.2L419.3 602.2L429.3 605.4L438.3 608.9L447.3 613.3L455.3 618.1L463.3 623.8L470.3 629.7L477.3 636.6L483.9 644.5L489.7 652.5L495.2 661.5L501 672.5L505.9 683.5L510 694.5L513.4 705.5L394.3 705.5Z" fill="#00ffb1"/>
<path d="M394.3 403.5L664.3 403.5L664.3 705.5L648.3 705.5L639.7 606.5L637.4 587.5L634.4 568.5L630.1 549.5L625.7 536.5L620.2 525.5L612.7 515.5L607.7 510.5L601.3 505.2L594.3 500.4L585.9 495.5L569.3 488.1L550.1 482.5L523.3 477.1L491.3 472.4L418.3 464.4L394.3 462.5ZM394.3 597.5L420.3 603.8L437.3 609.9L446.3 614.3L454.3 619L462 624.5L469.3 630.7L476.2 637.5L482.3 644.7L488.3 653L494.2 662.5L499.4 672.5L504.4 683.5L508.6 694.5L512 705.5L394.3 705.5Z" fill="#00ffa1"/>
<path d="M394.3 403.5L664.3 403.5L664.3 705.5L649.3 705.5L640.7 606.5L638.4 587.5L635.6 569.5L631.6 550.5L627.3 537.2L621.7 525.5L614.3 515.3L608.5 509.5L602.4 504.5L595.1 499.5L587.3 495L578.3 490.6L569.3 487L551.3 481.8L525.3 476.5L492.3 471.5L418.3 463.3L394.3 461.4ZM394.3 599.5L394.3 598.6L416.3 603.9L426.3 607L436.3 610.9L445.3 615.3L453.3 620L461 625.5L468.2 631.5L475.2 638.5L481.1 645.5L487 653.5L492.6 662.5L497.9 672.5L502.9 683.5L507.3 694.9L510.6 705.5L394.3 705.5Z" fill="#00ff97"/>
<path d="M394.3 403.5L664.3 403.5L664.3 705.5L650.2 705.5L641.7 606.5L639.2 585.5L636.3 567.5L632.5 549.5L628 535.5L622.3 524L615.3 514.5L610.3 509.4L604.3 504.4L597.3 499.5L588.9 494.5L580.3 490.3L570.9 486.5L552.3 481L525.5 475.5L491.3 470.4L417.3 462.1L394.3 460.3ZM394.3 600.5L394.3 599.7L415.3 604.9L425.3 607.9L435.3 611.8L444.3 616.2L452.3 621L460.1 626.5L467.2 632.5L474.2 639.5L480.1 646.5L485.9 654.5L491.5 663.5L496.8 673.5L501.8 684.5L506.1 695.5L509.2 705.5L394.3 705.5Z" fill="#00ff91"/>
<path d="M394.3 403.5L664.3 403.5L664.3 705.5L651.1 705.5L642.5 604.5L640 583.5L637 565.5L633.3 548.1L628.9 534.5L623.3 523.1L616.2 513.5L611.2 508.5L604.3 502.8L597.3 498.1L589.4 493.5L581.3 489.6L572.3 485.9L563.3 482.9L553.3 480.2L526.3 474.6L491.3 469.4L417.3 461L394.3 459.3ZM394.3 601.5L394.3 600.9L416.3 606.4L426.3 609.6L435.3 613.2L443.9 617.5L452.2 622.5L459.3 627.6L466.2 633.5L473.2 640.5L479.1 647.5L484.9 655.5L490.3 664.2L495.3 673.5L500.3 684.5L504.6 695.5L507.9 705.5L394.3 705.5Z" fill="#00ff81"/>
<path d="M394.3 403.5L664.3 403.5L664.3 705.5L652.1 705.5L643.4 603.5L641 583.5L638 564.5L634.3 547.3L629.9 533.5L624.3 522.3L617.3 512.8L612 507.5L605.9 502.5L598.6 497.5L590.3 492.7L582.3 488.8L573.3 485.2L563.3 481.8L554.3 479.4L528.3 474L492.3 468.5L417.3 460L394.3 458.2ZM394.3 602.5L394.3 602L416.3 607.6L425.3 610.5L434.3 614.2L442.3 618.1L450.3 622.9L458.2 628.5L465.3 634.5L472.2 641.5L478.1 648.5L483.9 656.5L488.9 664.5L494.2 674.5L498.9 684.5L503.2 695.5L506.5 705.5L394.3 705.5Z" fill="#00ff76"/>
<path d="M394.3 403.5L664.3 403.5L664.3 705.5L653 705.5L644.4 604.5L642 583.5L638.7 562.5L635 545.5L630.8 532.5L625.3 521.5L618.3 512L612.8 506.5L606.6 501.5L599.3 496.5L591.3 491.9L582.3 487.6L574.3 484.4L564.3 481.1L554.8 478.5L529.3 473.1L493.3 467.7L418.3 459L394.3 457.1ZM394.3 603.5L394.3 603.2L416.3 608.8L425.3 611.8L434.2 615.5L442.3 619.6L450.3 624.5L457.3 629.5L464.3 635.5L471.2 642.5L477.1 649.5L482.9 657.5L487.8 665.5L492.7 674.5L497.4 684.5L501.7 695.5L505.1 705.5L394.3 705.5Z" fill="#00ff6c"/>
<path d="M394.3 403.5L664.3 403.5L664.3 705.5L653.9 705.5L645.4 604.5L642.9 582.5L639.6 561.5L636 544.5L631.7 531.5L626.3 520.6L619.6 511.5L614.3 506.2L608.3 501.2L600.3 495.8L592.3 491.2L583.3 486.9L574.9 483.5L555.3 477.6L529.3 472.1L494.3 466.8L418.3 457.9L394.3 456ZM394.3 604.5L416.3 610L425.3 613.1L433.4 616.5L441.3 620.5L449.3 625.4L456.3 630.5L463.3 636.5L469.3 642.5L475.3 649.5L481.2 657.5L486.3 665.6L491.1 674.5L495.9 684.5L500.3 695.5L503.7 705.5L394.3 705.5Z" fill="#00ff61"/>
<path d="M394.3 403.5L664.3 403.5L664.3 705.5L654.8 705.5L646.2 602.5L643.5 579.5L640.3 559.3L636.9 543.5L632.7 530.5L627.2 519.5L620.4 510.5L614.3 504.5L608.3 499.7L601.3 495L593.3 490.4L584.3 486.1L575.3 482.5L555 476.5L528.3 471L494.3 465.8L419.3 457L394.3 455ZM394.3 605.5L416.3 611.3L425.3 614.4L433.3 617.8L441.3 622L448.6 626.5L455.4 631.5L462.3 637.4L468.4 643.5L474.3 650.5L480.2 658.5L485.2 666.5L490.1 675.5L494.8 685.5L502.3 705.5L394.3 705.5Z" fill="#00ff56"/>
<path d="M394.3 403.5L664.3 403.5L664.3 705.5L655.8 705.5L646.8 598.5L643.5 572.5L639.3 548.5L636.1 536.5L632.3 526.4L627.4 517.5L621.3 509.6L616.2 504.5L609.3 499L601.3 493.7L593.3 489.2L584.3 485L575.5 481.5L555.3 475.6L528.3 470L495.3 465L418.3 455.9L394.3 454ZM394.3 607.5L394.3 606.5L411.3 610.9L421.3 614.2L430.3 617.8L438.3 621.8L446.3 626.6L453.3 631.6L460.4 637.5L466.5 643.5L472.5 650.5L478.3 658.3L483.6 666.5L492.8 684.5L497.3 695.3L500.9 705.5L394.3 705.5Z" fill="#00ff4b"/>
<path d="M394.3 403.5L664.3 403.5L664.3 705.5L656.7 705.5L647.6 597.5L644.3 570.8L640.4 548.5L637.3 536.1L633.3 525.5L629 517.5L623 509.5L617.3 503.8L610.7 498.5L603.3 493.5L595.3 489L587.3 485.1L578.3 481.4L568.3 478.1L557.3 475.1L530.3 469.3L497.3 464.3L419.3 455L394.3 452.9ZM394.3 608.5L394.3 607.6L411.3 612.1L421.3 615.4L430.3 619.2L438.3 623.2L445.3 627.5L452.3 632.5L459.4 638.5L465.5 644.5L471.5 651.5L477.3 659.3L482.3 667.1L487.3 676.2L491.8 685.5L499.5 705.5L394.3 705.5Z" fill="#00ff41"/>
<path d="M394.3 403.5L664.3 403.5L664.3 705.5L657.6 705.5L648.5 596.5L645.4 571.5L641.4 547.5L638.1 534.5L634.3 524.6L629.9 516.5L623.8 508.5L618.8 503.5L612.3 498.2L604.3 492.8L596.3 488.2L587.3 483.9L578.8 480.5L558.3 474.3L532.3 468.7L498.3 463.4L419.3 454L394.3 451.9ZM394.3 609.5L394.3 608.8L411.3 613.3L420.8 616.5L429.3 620.1L437.3 624.1L444.5 628.5L451.4 633.5L458.5 639.5L464.5 645.5L470.5 652.5L475.7 659.5L480.9 667.5L490.2 685.5L498 705.5L394.3 705.5Z" fill="#00ff36"/>
<path d="M394.3 403.5L664.3 403.5L664.3 705.5L658.5 705.5L649.5 596.5L646.6 572.5L642.7 548.5L639.6 535.5L636.1 525.5L631.5 516.5L625.3 508.2L619.6 502.5L613.4 497.5L606.1 492.5L597.3 487.5L588.3 483.2L579.3 479.6L559.3 473.6L531.3 467.5L499.3 462.6L419.3 453L394.3 450.9ZM394.3 610.5L394.3 609.9L411.4 614.5L420.3 617.6L429.3 621.4L437.1 625.5L444.3 630L451.3 635.1L457.6 640.5L463.6 646.5L469.6 653.5L474.7 660.5L479.9 668.5L488.7 685.5L496.6 705.5L394.3 705.5Z" fill="#00ff2b"/>
<path d="M394.3 403.5L664.3 403.5L664.3 705.5L659.4 705.5L650.3 595.5L647.5 571.5L643.7 547.5L640.9 535.5L637 524.5L632.4 515.5L626.3 507.4L620.4 501.5L614.1 496.5L606.7 491.5L597.8 486.5L589.3 482.4L579.4 478.5L559.3 472.6L530.3 466.4L499.3 461.6L421.3 452.2L394.3 450ZM394.3 611.5L394.3 611L411.3 615.6L420.3 618.8L428.7 622.5L436.3 626.5L443.3 630.9L450.3 636L456.6 641.5L462.6 647.5L468.3 654.2L478.2 668.5L487.2 685.5L495.2 705.5L394.3 705.5Z" fill="#00ff20"/>
<path d="M394.3 403.5L664.3 403.5L664.3 705.5L660.3 705.5L651.3 595.4L648.5 571.5L644.8 547.5L641.8 534.5L638 523.5L633.3 514.5L627.3 506.5L621.3 500.6L614.8 495.5L607.3 490.5L598.3 485.5L589.3 481.3L580.3 477.7L559.3 471.6L529.3 465.2L499.3 460.6L421.3 451.2L404.3 449.5L394.3 449ZM394.3 612.5L394.3 612.1L411.3 616.8L420.3 620.1L428.3 623.6L436.3 628L443.3 632.4L455.7 642.5L461.6 648.5L467.3 655.1L477.2 669.5L486.1 686.5L493.8 705.5L394.3 705.5Z" fill="#00ff16"/>
<path d="M394.3 403.5L664.3 403.5L664.3 705.5L661.2 705.5L652.2 594.5L649.5 571.5L646 547.5L643.1 534.5L639.3 523.3L634.3 513.6L628.3 505.7L623.1 500.5L616.3 495.1L607.8 489.5L599.3 484.7L590.3 480.5L581.3 477L560.3 470.8L530.3 464.4L500.3 459.8L421.3 450.2L404.3 448.5L394.3 448ZM394.3 613.5L394.3 613.2L411.3 618L427.3 624.5L435.3 628.8L442.3 633.3L454.8 643.5L465.8 655.5L475.6 669.5L484.6 686.5L492.3 705.5L394.3 705.5Z" fill="#00ff0b"/>
<path d="M394.3 403.5L664.3 403.5L664.3 705.5L662.1 705.5L653.2 594.5L650.6 571.5L647.1 547.5L644 533.5L640.3 522.5L635.3 512.7L629.3 504.8L623.8 499.5L617.3 494.3L609.3 489L600.3 484L591.3 479.8L582.3 476.3L561.3 470.1L530.4 463.5L501.3 458.9L422.3 449.4L404.3 447.6L394.3 447ZM394.3 614.5L411.3 619.2L419.3 622.2L427.3 625.9L441.3 634.2L453.9 644.5L464.8 656.5L474.5 670.5L483.1 686.5L490.9 705.5L394.3 705.5Z" fill="#00ff00"/>
<path d="M394.3 403.5L664.3 403.5L664.3 705.5L662.9 705.5L654.1 594.5L651.7 572.5L648.2 547.5L645.3 533.5L641.7 522.5L636.7 512.5L630.7 504.5L625.3 499.1L618.3 493.6L610.3 488.3L601.7 483.5L593.3 479.5L584.3 475.9L574 472.5L562.8 469.5L533.3 463.1L503.3 458.2L423.3 448.5L405.3 446.7L394.3 446.1ZM394.3 615.5L411.3 620.3L426.3 626.7L440.3 635.1L452.3 644.9L463 656.5L472.9 670.5L481.5 686.5L489.5 705.5L394.3 705.5Z" fill="#0bff00"/>
<path d="M394.3 403.5L664.3 403.5L664.3 705.5L663.8 705.5L654.7 590.5L649.3 547.5L646.3 532.7L642.7 521.5L637.6 511.5L631.6 503.5L626.3 498.3L619.3 492.8L611.2 487.5L602.2 482.5L593.8 478.5L584.3 474.8L563.3 468.6L534.3 462.3L505 457.5L422.8 447.5L405.3 445.8L394.3 445.2ZM394.3 616.5L411.2 621.5L425.3 627.6L439.3 636L451.3 645.8L462.1 657.5L471.9 671.5L480.5 687.5L488 705.5L394.3 705.5Z" fill="#16ff00"/>
<path d="M394.3 403.5L664.3 403.5L664.3 699.8L655.8 591.5L650.3 546.5L647.3 531.8L643.6 520.5L638.6 510.5L632.5 502.5L627.3 497.5L620.3 492L611.8 486.5L603.3 481.8L594.3 477.6L585.3 474L565.3 468.1L534.8 461.5L503.3 456.3L425.3 446.8L405.3 444.8L394.3 444.2ZM394.3 618.5L394.3 617.5L406.3 621L415.3 624.3L423.3 627.9L437.3 636.2L444.3 641.4L450 646.5L461.1 658.5L470.2 671.5L478.9 687.5L486.6 705.5L394.3 705.5Z" fill="#20ff00"/>
<path d="M394.3 403.5L664.3 403.5L664.3 689.3L656.6 589.5L651.1 544.5L648.2 530.5L644.3 518.8L639.5 509.5L633.3 501.5L628.1 496.5L621.6 491.5L613.3 486.1L604.3 481.1L595.3 476.8L586.9 473.5L566.3 467.4L535.3 460.6L503.3 455.4L426.3 446L406.3 444L394.3 443.3ZM394.3 619.5L394.3 618.6L406.3 622.1L415.3 625.5L423.3 629.2L436.9 637.5L449.1 647.5L460.1 659.5L469.2 672.5L477.4 687.5L485.2 705.5L394.3 705.5Z" fill="#2bff00"/>
<path d="M394.3 403.5L664.3 403.5L664.3 677.8L657.5 588.5L651.7 541.5L648.6 527.5L644.7 516.5L639.8 507.5L633.2 499.5L627.6 494.5L620.8 489.5L612.3 484.2L603.3 479.3L586.3 472.2L566.3 466.4L536.3 459.9L503.9 454.5L427.3 445.2L406.3 443.1L394.3 442.4ZM394.3 620.5L394.3 619.7L406.3 623.3L414.3 626.3L422.3 630.1L436.1 638.5L448.2 648.5L458.3 659.5L467.5 672.5L475.8 687.5L483.7 705.5L394.3 705.5Z" fill="#36ff00"/>
<path d="M394.3 403.5L664.3 403.5L664.3 665.4L658.2 585.5L654.4 552.5L652.3 538.3L649.3 525.5L645.2 514.5L640 505.5L633.3 497.8L627.3 492.7L620.3 487.7L611.7 482.5L603.3 478.1L586.3 471.1L566.3 465.4L535.3 458.8L502.3 453.3L427.3 444.3L406.3 442.2L394.3 441.5ZM394.3 621.5L394.3 620.8L406.5 624.5L414.3 627.6L422.3 631.4L435.3 639.5L447.3 649.5L457.4 660.5L466.5 673.5L474.8 688.5L482.3 705.5L394.3 705.5Z" fill="#41ff00"/>
<path d="M394.3 403.5L664.3 403.5L664.3 652.8L658.9 582.5L655.1 549.5L652.9 535.5L649.6 522.5L645.7 512.5L640.3 503.7L633.8 496.5L627.8 491.5L620.5 486.5L611.3 481L602.5 476.5L585.3 469.7L565.3 464.2L533.3 457.4L499.3 452L426.3 443.2L406.3 441.3L394.3 440.6ZM394.3 622.5L394.3 621.9L406.3 625.6L414.3 628.8L421.7 632.5L434.5 640.5L446.3 650.4L456.3 661.4L464.9 673.5L473.2 688.5L480.8 705.5L394.3 705.5Z" fill="#4cff00"/>
<path d="M394.3 403.5L664.3 403.5L664.3 640.8L659.6 579.5L656 547.5L653.5 532.5L650.3 520.5L646.1 510.5L640.3 501.6L633.4 494.5L627.1 489.5L619.5 484.5L602.3 475.2L585.3 468.6L565.3 463.2L533.3 456.5L498.3 450.9L426.3 442.3L407.3 440.5L394.3 439.7ZM394.3 623.5L394.3 623L406.3 626.8L421.1 633.5L433.7 641.5L445.3 651.3L455.3 662.4L463.8 674.5L471.7 688.5L479.4 705.5L394.3 705.5Z" fill="#56ff00"/>
<path d="M394.3 403.5L664.3 403.5L664.3 628.8L660.1 574.5L656.7 544.5L654 529.5L650.5 517.5L645.9 507.5L640.2 499.5L633 492.5L626.3 487.5L618.4 482.5L601.3 473.6L584.3 467.2L564.3 462L532.3 455.4L497.3 449.9L427.1 441.5L407.3 439.6L394.3 438.9ZM394.3 624.5L394.3 624.1L397.3 625L406.3 628L420.4 634.5L432.9 642.5L444.3 652.2L453.6 662.5L462.3 674.7L470.3 688.8L477.9 705.5L394.3 705.5Z" fill="#61ff00"/>
<path d="M394.3 403.5L664.3 403.5L664.3 616L662 584.5L658.5 550.5L656.6 536.5L654.3 525.6L650.7 514.5L646.3 505.5L640.3 497.6L632.5 490.5L625.4 485.5L617.3 480.5L600.3 472L582.3 465.5L561.9 460.5L530.3 454.1L495.3 448.7L426.3 440.5L407.3 438.7L394.3 438ZM394.3 625.5L398.3 626.4L406.3 629.1L420.3 635.8L432.3 643.7L443.3 653.1L452.7 663.5L461.2 675.5L469.1 689.5L476.5 705.5L394.3 705.5Z" fill="#6cff00"/>
<path d="M394.3 403.5L664.3 403.5L664.3 601.6L662.4 578.5L659 545.5L657 532.5L654.4 521.5L650.4 510.5L645.9 502.5L640 495.5L631.9 488.5L624.3 483.4L614.3 477.5L597.3 469.6L579.3 463.7L553.3 457.7L523.3 452L487.3 446.7L425.5 439.5L394.3 437.1ZM394.3 626.5L406.3 630.4L419.3 636.7L431.3 644.5L442.3 654L451.3 664L459.5 675.5L467.5 689.5L475 705.5L394.3 705.5Z" fill="#77ff00"/>
<path d="M394.3 403.5L664.3 403.5L664.3 588.6L659.5 540.5L657.3 528.1L654.5 517.5L650.3 507.5L645.3 499.5L638.7 492.5L630.3 485.9L612.3 475.2L595.3 467.7L577.3 462.1L550.3 456.1L520.3 450.6L484.3 445.4L424.3 438.5L394.3 436.2ZM394.3 627.5L406.3 631.6L419.3 638.1L430.4 645.5L440.9 654.5L449.9 664.5L458.3 676.2L466 689.5L473.6 705.5L394.3 705.5Z" fill="#82ff00"/>
<path d="M394.3 403.5L664.3 403.5L664.3 577.1L660 536.5L657.4 523.5L654.3 513.4L650.2 504.5L644.5 496.5L637.3 489.6L628.3 483.2L610.3 473L594.3 466.2L576.3 460.8L547.3 454.5L516.3 449L480.3 444L423.3 437.5L394.3 435.4ZM394.3 629.5L394.3 628.6L403.1 631.5L417.3 638.3L429.3 646.3L440 655.5L449 665.5L456.9 676.5L464.4 689.5L472.1 705.5L394.3 705.5Z" fill="#8dff00"/>
<path d="M394.3 403.5L664.3 403.5L664.3 566.3L662.2 544.5L660.1 530.5L657.3 518.5L653.6 508.5L649.2 500.5L643.4 493.5L636.3 487.3L626.2 480.5L609.3 471.3L592.6 464.5L575.3 459.6L545.3 453.1L514.3 447.8L477.3 442.7L423.3 436.6L394.3 434.5ZM394.3 630.5L394.3 629.7L402.6 632.5L416.9 639.5L428.8 647.5L439.1 656.5L448 666.5L455.8 677.5L463.4 690.5L470.6 705.5L394.3 705.5Z" fill="#97ff00"/>
<path d="M394.3 403.5L664.3 403.5L664.3 555L662.4 537.5L660.1 524.5L656.6 512.5L652.6 503.5L647.9 496.5L641 489.5L632.3 483L620.3 475.8L605.3 468.2L589.3 462.3L573.3 458.1L540.3 451.2L508.3 445.9L470.3 441L421.3 435.5L394.3 433.7ZM394.3 631.5L394.3 630.9L403.3 634L416.3 640.6L427.9 648.5L438.2 657.5L446.3 666.6L454.2 677.5L461.8 690.5L469.2 705.5L394.3 705.5Z" fill="#a2ff00"/>
<path d="M394.3 403.5L664.3 403.5L664.3 544.1L662.2 529.5L659.5 517.5L655.9 507.5L651.3 499L646 492.5L638.3 485.8L629 479.5L615.3 471.8L601.3 465.4L585.3 460.1L569.3 456.2L534.3 449.2L501.3 444L462.3 439.1L419.5 434.5L394.3 432.8ZM394.3 632.5L394.3 632.1L403.3 635.3L416.3 642L427.3 649.6L437.3 658.5L445.3 667.5L453.2 678.5L460.3 690.6L467.7 705.5L394.3 705.5Z" fill="#adff00"/>
<path d="M394.3 403.5L664.3 403.5L664.3 535.3L662 522.5L658.8 511.5L654.9 502.5L650.3 495.5L644.3 489.1L636.3 482.8L626.1 476.5L612.3 469L598.3 463.1L583.2 458.5L551.4 451.5L530.3 447.6L496.8 442.5L456.3 437.5L418.3 433.5L394.3 432ZM394.3 633.5L398.3 634.6L404.3 637L416.3 643.5L426.3 650.5L436.3 659.5L444.3 668.5L451.5 678.5L458.7 690.5L466.2 705.5L394.3 705.5Z" fill="#b8ff00"/>
<path d="M394.3 403.5L664.3 403.5L664.3 528.3L661.6 516.5L658.3 506.8L654.3 499L649.4 492.5L643.2 486.5L635 480.5L621.3 472.5L610.3 466.9L596.3 461.3L581.3 457L549.3 450.1L527.3 446.1L493.3 441.1L452.3 436.2L418.3 432.7L394.3 431.1ZM394.3 634.5L404.3 638.3L415.6 644.5L425.4 651.5L435.3 660.4L443.4 669.5L450.5 679.5L457.6 691.5L464.7 705.5L394.3 705.5Z" fill="#c3ff00"/>
<path d="M394.3 403.5L664.3 403.5L664.3 522.5L661.6 512.5L658.1 503.5L654.2 496.5L649.3 490.5L642.6 484.5L634.3 478.7L619.3 470.1L609.3 465.2L595.3 459.9L580.3 455.7L548.3 449L526.3 445.1L492.3 440.1L451.3 435.2L418.3 431.8L394.3 430.3ZM394.3 636.5L394.3 635.7L400.3 637.8L413.3 644.6L424.3 652.3L433.5 660.5L441.6 669.5L448.9 679.5L456.1 691.5L463.2 705.5L394.3 705.5Z" fill="#cdff00"/>
<path d="M394.3 403.5L664.3 403.5L664.3 517.5L661.5 508.5L658 500.5L654.3 494.5L649 488.5L642.3 482.7L634.3 477.3L619.3 468.8L608.3 463.6L594.3 458.5L579.6 454.5L547.3 447.8L524.3 443.8L490.3 438.9L449.3 434L417.3 430.8L394.3 429.4ZM394.3 637.5L394.3 636.9L401.3 639.6L413.3 646.1L423.3 653.1L432.6 661.5L440.3 670L447.3 679.6L454.3 691.1L461.8 705.5L394.3 705.5Z" fill="#d8ff00"/>
<path d="M394.3 403.5L664.3 403.5L664.3 513.2L661.2 504.5L657.8 497.5L653.5 491.5L648.3 486.1L641.3 480.5L633.3 475.4L618.3 467.1L607.3 462L594.3 457.4L579.3 453.4L546.3 446.7L522.3 442.6L488.3 437.8L447.3 432.9L417.3 430L394.3 428.6ZM394.3 638.5L394.3 638.2L402.3 641.4L413.2 647.5L422.9 654.5L431.7 662.5L439.3 671L446.3 680.5L452.9 691.5L460.3 705.5L394.3 705.5Z" fill="#e3ff00"/>
<path d="M394.3 403.5L664.3 403.5L664.3 509.4L661.2 501.5L657.3 494.5L653.3 489.4L647.3 483.7L640.3 478.4L631.3 472.9L617.3 465.3L606.5 460.5L593.3 456L578.3 452.2L545.3 445.6L521.3 441.5L487.3 436.7L446.3 431.9L417.3 429.1L394.3 427.8ZM394.3 639.5L403.3 643.3L413.3 649.1L422.3 655.7L431.3 664L438.8 672.5L445.3 681.5L451.4 691.5L458.8 705.5L394.3 705.5Z" fill="#eeff00"/>
<path d="M394.3 403.5L664.3 403.5L664.3 505.9L661 498.5L657.4 492.5L652.3 486.6L646.5 481.5L639.3 476.3L630.3 471L617.3 464L606.3 459.3L593.3 454.9L578.3 451.2L544.6 444.5L520.3 440.4L486.3 435.7L446.3 431L417.3 428.3L394.3 426.9ZM394.3 641.5L394.3 640.7L400.3 643.2L411.6 649.5L421.2 656.5L429.9 664.5L437 672.5L443.6 681.5L449.8 691.5L457.3 705.5L394.3 705.5Z" fill="#f9ff00"/>
<path d="M394.3 403.5L664.3 403.5L664.3 502.8L661.3 496.5L657.3 490.5L652.3 485L646.3 479.8L637 473.5L623.3 465.8L614.3 461.4L605.3 457.8L592.3 453.6L577.3 449.9L544.3 443.5L519.3 439.4L485.3 434.7L445.3 430.1L418.3 427.5L394.3 426.1ZM394.3 642.5L394.3 642.1L401.3 645.1L411.3 650.9L420.3 657.5L429 665.5L436.1 673.5L442.7 682.5L448.8 692.5L455.8 705.5L394.3 705.5Z" fill="#fffb00"/>
<path d="M394.3 403.5L664.3 403.5L664.3 499.9L660.9 493.5L657.2 488.5L652.3 483.4L645.3 477.6L636.3 471.8L623.2 464.5L614.3 460.2L605.3 456.6L592.2 452.5L576.3 448.7L543.3 442.4L517.3 438.1L482.9 433.5L444.3 429.1L417.3 426.6L394.3 425.3ZM394.3 643.5L402.3 647.1L411.4 652.5L420.3 659.2L428.1 666.5L435.1 674.5L441.3 682.9L447.3 692.5L454.3 705.5L394.3 705.5Z" fill="#fff000"/>
<path d="M394.3 403.5L664.3 403.5L664.3 497.3L660.9 491.5L656.3 485.7L650.8 480.5L644.3 475.5L635.3 469.8L622.3 462.7L613.3 458.6L604.3 455.1L590.3 450.9L575.3 447.5L542.3 441.3L516.3 437.1L482.3 432.5L443.3 428.1L417.3 425.7L394.3 424.4ZM394.3 645.5L394.3 644.8L399.3 647L410.3 653.3L419.3 660.1L427.2 667.5L434.2 675.5L440.1 683.5L445.7 692.5L452.8 705.5L394.3 705.5Z" fill="#ffe500"/>
<path d="M394.3 403.5L664.3 403.5L664.3 494.9L660.9 489.5L656.3 484L651.3 479.4L644.3 474.1L635.3 468.5L622.4 461.5L613.6 457.5L604.3 454L591.3 450.1L575.3 446.5L541.3 440.2L515.3 436L481.3 431.5L443.3 427.3L417.3 424.9L394.3 423.6ZM394.3 646.5L394.3 646.1L401.3 649.5L410.3 654.9L418.8 661.5L426.3 668.5L433.3 676.5L439.1 684.5L444.7 693.5L451.3 705.5L394.3 705.5Z" fill="#ffda00"/>
<path d="M394.3 403.5L664.3 403.5L664.3 492.6L660.8 487.5L656.3 482.4L650.3 477.1L643.3 472L634.3 466.6L622.3 460.2L614.1 456.5L604.3 452.9L591.3 449.1L575.3 445.5L541.3 439.3L514.3 435L480.3 430.5L443.3 426.4L417.3 424L394.3 422.8ZM394.3 648.5L394.3 647.5L401.3 650.9L408.3 655.2L416.7 661.5L424.4 668.5L431.3 676.2L437.3 684.3L443.2 693.5L449.8 705.5L394.3 705.5Z" fill="#ffcf00"/>
<path d="M394.3 403.5L664.3 403.5L664.3 490.5L660.3 485.1L655.3 479.9L649.3 474.9L642.3 470L632.3 464.2L621.4 458.5L613.3 455L603.4 451.5L589.3 447.5L573.3 444.1L538.3 437.8L511.3 433.7L477.3 429.3L441.3 425.3L417.3 423.2L394.3 421.9ZM394.3 649.5L394.3 648.9L399.6 651.5L409.3 657.5L417 663.5L424.3 670.4L430.6 677.5L436.5 685.5L442.2 694.5L448.4 705.5L394.3 705.5Z" fill="#ffc400"/>
<path d="M394.3 403.5L664.3 403.5L664.3 488.5L660.3 483.4L655.3 478.3L649.3 473.4L642 468.5L621.9 457.5L613.3 453.8L603.3 450.4L589.3 446.5L573.3 443.1L537.3 436.8L510.3 432.6L477.3 428.4L441.3 424.5L417.3 422.4L394.3 421.1ZM394.3 650.5L401.3 654L409.3 659.1L416.3 664.7L423.5 671.5L429.6 678.5L435.3 686.1L446.9 705.5L394.3 705.5Z" fill="#ffba00"/>
<path d="M394.3 403.5L664.3 403.5L664.3 486.6L660.1 481.5L654.9 476.5L648.5 471.5L641.3 466.7L622.3 456.4L613.3 452.7L603.3 449.3L589.3 445.5L572.3 441.9L536.3 435.7L509.3 431.6L476.3 427.4L441.3 423.6L417.3 421.5L394.3 420.3ZM394.3 652.5L394.3 651.8L397.7 653.5L407.5 659.5L415.2 665.5L422.3 672.2L428.3 679L433.9 686.5L445.4 705.5L394.3 705.5Z" fill="#ffaf00"/>
<path d="M394.3 403.5L664.3 403.5L664.3 484.8L659.7 479.5L654.3 474.5L648.3 470L640.3 464.8L622.3 455.2L613.3 451.5L603.3 448.2L589.3 444.4L573.3 441.1L537.3 434.9L509.3 430.7L476.3 426.5L441.3 422.7L417.3 420.7L394.3 419.4ZM394.3 653.5L400.4 656.5L408.3 661.7L415.3 667.4L421.6 673.5L427.3 679.9L433 687.5L443.9 705.5L394.3 705.5Z" fill="#ffa400"/>
<path d="M394.3 403.5L664.3 403.5L664.3 483L659.3 477.5L653.6 472.5L646.7 467.5L638.3 462.3L621.3 453.5L612.3 450L602.3 446.8L588.3 443.2L571.3 439.8L534.3 433.5L507.3 429.5L441.3 421.9L418.3 419.9L394.3 418.6ZM394.3 655.5L394.3 654.7L406.3 662L413.4 667.5L420.3 674.1L426 680.5L431.3 687.5L442.4 705.5L394.3 705.5Z" fill="#ff9900"/>
<path d="M394.3 403.5L664.3 403.5L664.3 481.3L659.3 476L653.3 470.9L646.3 465.9L637.3 460.4L621.3 452.3L602.3 445.7L588.3 442.2L571.3 438.8L534.3 432.6L506.3 428.5L441.3 421L418.3 419.1L394.3 417.8ZM394.3 656.5L400.1 659.5L407.3 664.4L413.6 669.5L419.8 675.5L425.3 681.8L430.4 688.5L440.9 705.5L394.3 705.5Z" fill="#ff8e00"/>
<path d="M394.3 403.5L664.3 403.5L664.3 479.6L659.3 474.5L653.3 469.5L645.3 463.9L636.3 458.6L621.3 451.1L602.3 444.6L588.3 441.1L572.3 438L534.3 431.7L506.3 427.6L441.3 420.2L418.3 418.3L394.3 416.9ZM394.3 658.5L394.3 657.7L405.3 664.6L412.3 670.2L418.3 675.9L424.1 682.5L429.3 689.3L439.5 705.5L394.3 705.5Z" fill="#ff8400"/>
<path d="M394.3 403.5L664.3 403.5L664.3 478L658.7 472.5L652.5 467.5L644.3 462L635.3 456.7L620.3 449.5L602.1 443.5L588.3 440.1L571.3 436.8L533.3 430.6L505.3 426.6L441.3 419.3L418.3 417.4L394.3 416.1ZM394.3 659.5L399.3 662.2L406.3 667L412.3 672L417.9 677.5L428.3 690.2L438 705.5L394.3 705.5Z" fill="#ff7900"/>
<path d="M394.3 403.5L664.3 403.5L664.3 476.4L659.3 471.5L652.3 466L644.3 460.7L634.3 454.9L620.3 448.3L601.3 442.2L587.3 438.9L571.3 435.9L532.3 429.6L503.6 425.5L440.3 418.4L418.3 416.6L394.3 415.3ZM394.3 661.5L394.3 660.8L404.6 667.5L410.7 672.5L417 678.5L426.9 690.5L436.5 705.5L394.3 705.5Z" fill="#ff6e00"/>
<path d="M394.3 403.5L664.3 403.5L664.3 474.8L658.6 469.5L652.1 464.5L643.3 458.8L634 453.5L620.3 447.2L601.3 441.1L587.3 437.9L571.3 434.9L531.3 428.5L502.3 424.4L440.3 417.5L418.3 415.8L394.3 414.5ZM394.3 662.5L399.3 665.4L405.3 669.7L416.3 679.8L426 691.5L435 705.5L394.3 705.5Z" fill="#ff6300"/>
<path d="M394.3 403.5L664.3 403.5L664.3 473.3L658.3 467.8L651.3 462.6L633.3 451.9L618.8 445.5L600.3 439.8L586.3 436.6L570.3 433.8L529.3 427.3L499.3 423.2L439.3 416.6L394.3 413.6ZM394.3 664.5L394.3 663.9L404 670.5L415.1 680.5L424.3 691.5L433.5 705.5L394.3 705.5Z" fill="#ff5800"/>
<path d="M394.3 403.5L664.3 403.5L664.3 471.7L658.3 466.4L651.3 461.3L642.3 455.6L633.3 450.6L619.2 444.5L600.3 438.8L587.3 435.8L571.3 432.9L529.9 426.5L499.3 422.3L439.3 415.8L394.3 412.8ZM394.3 666.5L394.3 665.5L402.3 670.9L408.3 675.9L414.1 681.5L423.3 692.4L432 705.5L394.3 705.5Z" fill="#ff4e00"/>
<path d="M394.3 403.5L664.3 403.5L664.3 470.3L658.3 465.1L651.3 460L642.3 454.3L633.3 449.4L618.3 443.1L599.4 437.5L586.3 434.6L570.3 431.8L528.3 425.4L497.3 421.2L439.3 414.9L394.3 412ZM394.3 667.5L394.3 667.1L403.3 673.4L413.3 682.6L422.3 693.3L430.4 705.5L394.3 705.5Z" fill="#ff4300"/>
<path d="M394.3 403.5L664.3 403.5L664.3 468.8L658.3 463.7L651.3 458.7L642.3 453.1L633.3 448.2L618.3 441.9L599.3 436.4L586.3 433.6L570.3 430.9L528.3 424.5L496.3 420.2L439.3 414.1L394.3 411.2ZM394.3 669.5L394.3 668.7L401.3 673.6L412.2 683.5L420.8 693.5L428.9 705.5L394.3 705.5Z" fill="#ff3800"/>
<path d="M394.3 403.5L664.3 403.5L664.3 467.3L658.3 462.3L650.3 456.7L641.3 451.3L632.3 446.5L617.3 440.5L598.3 435.2L570.3 429.9L527.3 423.4L495.3 419.2L438.3 413.1L394.3 410.3ZM394.3 670.5L403.3 677L412.2 685.5L420.3 695.1L427.4 705.5L394.3 705.5Z" fill="#ff2d00"/>
<path d="M394.3 403.5L664.3 403.5L664.3 465.9L658.3 461L650.3 455.5L641.3 450L632.7 445.5L617.3 439.4L598.3 434.1L571.3 429.1L527.2 422.5L494.3 418.2L438.3 412.3L394.3 409.5ZM394.3 672.5L394.3 672L401.3 677.2L410.3 685.5L418.3 694.7L425.8 705.5L394.3 705.5Z" fill="#ff2200"/>
<path d="M394.3 403.5L664.3 403.5L664.3 464.5L657.3 458.9L649.3 453.5L632.3 444.2L616.3 438L597.3 432.9L571.3 428.1L526.3 421.5L492.3 417.1L438.3 411.5L394.3 408.7ZM394.3 674.5L394.3 673.7L399.5 677.5L409.3 686.4L417.2 695.5L424.3 705.5L394.3 705.5Z" fill="#ff1800"/>
<path d="M394.3 403.5L664.3 403.5L664.3 463L657.3 457.6L649.3 452.3L640.3 447L632.3 443L616.3 436.9L596.3 431.6L579.3 428.4L544.3 423.2L491.3 416.1L437.3 410.5L394.3 407.8ZM394.3 675.5L402.1 681.5L409.3 688.4L416.3 696.5L422.7 705.5L394.3 705.5Z" fill="#ff0d00"/>
<path d="M394.3 403.5L664.3 403.5L664.3 461.6L657.6 456.5L649.3 451L640.3 445.8L632.3 441.8L616.3 435.8L595.9 430.5L578.3 427.2L542.3 421.9L490.3 415.1L437.3 409.7L394.3 407ZM394.3 677.5L394.3 677.1L400.3 681.8L408.3 689.4L415.3 697.5L421.1 705.5L394.3 705.5Z" fill="#ff0200"/>
<path d="M394.3 403.5L664.3 403.5L664.3 460.3L657.3 455L648.9 449.5L640.3 444.6L632.3 440.7L615.5 434.5L595.3 429.4L578.3 426.3L540.3 420.7L489.3 414.1L437.3 408.9L394.3 406.2ZM394.3 679.5L394.3 678.8L400.3 683.6L406.5 689.5L413.3 697.1L419.5 705.5L394.3 705.5Z" fill="#ff0009"/>
<path d="M394.3 403.5L664.3 403.5L664.3 458.9L657 453.5L648.3 447.9L632.3 439.5L615.3 433.4L594.3 428.1L574.3 424.7L504.3 415L443.3 408.5L394.3 405.4ZM394.3 681.5L394.3 680.6L405.3 690.2L411.8 697.5L417.9 705.5L394.3 705.5Z" fill="#ff0013"/>
<path d="M394.3 403.5L664.3 403.5L664.3 457.5L648.3 446.7L632.3 438.4L615.3 432.3L593.3 426.9L578.3 424.3L540.3 418.9L496.3 413.2L440.3 407.4L394.3 404.5ZM394.3 682.5L399.3 686.5L405.6 692.5L410.9 698.5L416.2 705.5L394.3 705.5Z" fill="#ff001e"/>
<path d="M394.3 403.5L664.3 403.5L664.3 456.1L648.3 445.4L639.3 440.5L631.3 436.8L613.3 430.7L592.3 425.7L577.3 423.2L534.3 417.2L487.3 411.3L439.3 406.5ZM394.3 684.5L394.3 684.1L398.3 687.4L404.3 693.2L414.6 705.5L394.3 705.5Z" fill="#ff0029"/>
<path d="M406.7 403.5L664.3 403.5L664.3 454.8L648.3 444.2L632.3 436.1L615.3 430.2L594.3 425.1L574.3 421.8L493.3 411.1L445.3 406.2ZM394.3 686.5L394.3 685.9L402.7 693.5L412.9 705.5L394.3 705.5Z" fill="#ff0029"/>
</g>
<path d="M529.3 553.4L523 556.5L521.9 557.5L522.7 561.5L524.8 568.5L530.2 576.5L539 586.5L542.9 591.5L551.3 604.2L559.3 615.3L566.3 621.5L570.3 624.2L571.1 622.5L572.7 614.5L573.1 609.5L573 606.5L571.3 595.5L569.7 589.5L566.3 579.4L563.3 572.5L560.6 568.5L558.1 565.5L554.3 562.7L550.8 560.5L543.3 556.7L537.3 554.4L531.3 553.3ZM506.3 536.4L501.3 537.8L494 541.5L491.7 545.5L492 549.5L492.9 553.5L493.7 555.5L503.2 567.5L521.7 587.5L530.3 598.2L538.6 609.5L545.3 620.1L558.3 645.3L568.3 662.1L572.3 666.6L578.3 671.6L579.3 671.7L581.3 670.8L582.3 669.9L583.7 666.5L586.3 659.9L587.3 656L588.5 647.5L589 640.5L589.2 635.5L588.9 628.5L587.3 610.3L585.6 600.5L583.3 591.6L580.4 582.5L578.5 577.5L575.6 571.5L569.3 562.1L561.7 553.5L558.3 550.4L554.3 547.3L547.3 543.3L538.3 539.3L529.3 537.1L514.3 535.7ZM594.5 705.5L595.2 694.5L598.3 668.5L598.6 660.5L598.6 648.5L598.3 640.5L596.4 617.5L594.5 604.5L592.4 593.5L588.3 579.5L586 573.5L583.1 567.5L580.2 562.5L576.1 556.5L571.3 550.7L566.3 545.7L560.3 540.8L555.3 537.5L549.8 534.5L543.3 531.5L535.3 529L528.3 527.3L522.3 526.1L513.3 525L497.3 524.8L488.3 525.7L469 529.5L465.7 530.5L462.3 532L461.6 532.5L461.1 533.5L461 541.5L461.3 542.5L465.1 549.5L474.2 557.5L495.3 574.9L509.3 588L523.2 603.5L527.7 609.5L532.3 616.5L538.3 626.5L544.6 638.5L555.6 662.5L566.4 690.5L571.1 705.5M606.5 705.5L605.9 663.5L605.1 640.5L603.7 622.5L602.2 610.5L601.1 603.5L596.6 583.5L594 575.5L591.3 568.3L587.8 560.5L584.3 554.2L581.1 549.5L576.3 544.1L571.1 539.5L564.2 534.5L556.3 529.6L549.3 526.1L541.3 523L533.3 520.6L525.3 518.9L515.3 517.4L496.3 515.9L481.3 515.4L476.3 515.5L433.7 521.5L423.7 523.5L417.1 525.5L418.7 528.5L420.7 534.5L421.6 539.5L426.3 544.5L446.3 554.2L463 563.5L470.3 567.9L483.3 576.7L492.2 583.5L502.3 592.3L511.3 601.1L517.8 608.5L524.3 617.4L530.3 627.4L536.3 638.7L543.3 653.5L547.8 664.5L553.6 680.5L557.3 692.7L560.5 705.5M394.3 548.9L401.3 550.3L409.3 552.5L432.3 560.3L442.3 564.1L459.3 571.7L471.3 578.2L483.3 586.1L493.3 593.9L501.7 601.5L510.3 610.8L517.3 619.9L524.9 631.5L531.3 643.5L538.5 659.5L545 676.5L549 689.5L552.7 705.5M613.3 705.5L611.7 654.5L610.7 635.5L608 611.5L604.3 590L601.9 580.5L599.4 572.5L596.4 564.5L593.3 557.8L590.3 552.5L586.2 546.5L581.3 540.6L576.3 535.5L571.3 531.4L565.3 527.3L558.3 523.2L551.3 519.8L545.3 517.5L537.3 515.2L528.3 513L520.4 511.5L508.3 510L497.3 509.2L458.3 507.6L446.3 507.5L433.3 507.9L405.3 510L394.3 509.5M394.3 560.2L413.3 564.4L429.3 568.5L441.3 572.3L452.3 576.7L464.3 582.5L474.6 588.5L485.9 596.5L495.3 604.6L503.3 612.9L511.8 623.5L519.8 635.5L526.3 647.3L532.8 661.5L538.5 676.5L542.5 689.5L546.3 705.5M619.7 705.5L617.7 658.5L616 636.5L612.7 607.5L610.9 596.5L608.3 584L604 568.5L600.9 560.5L597.5 553.5L593.3 546.5L589.3 540.9L584.7 535.5L579.6 530.5L573.6 525.5L568.3 521.9L562.4 518.5L556.1 515.5L549.3 512.8L540.3 509.9L523.3 506.1L506.3 503.7L491.3 502.5L456.3 500.9L409.3 499.7L394.3 498.9M394.3 567.9L416.3 572.6L427.3 575.4L440.3 579.3L451.3 583.6L463.3 589.4L474.3 596L483.3 602.5L492.3 610.4L501 619.5L508.1 628.5L514.6 638.5L521.3 650.6L527.3 663.6L533.1 678.5L537.2 691.5L540.5 705.5M625.5 705.5L622.3 656.5L619.7 626.5L616.9 603.5L612.9 581.5L610.6 572.5L607.8 563.5L605.1 556.5L602.3 550.4L599 544.5L595 538.5L590.3 532.8L585.3 527.7L579.3 522.6L573.5 518.5L567.3 514.8L560.3 511.2L554.3 508.8L546.3 506.1L536.3 503.5L528.3 501.8L508.3 498.6L485.3 495.9L394.3 491.1M394.3 574.8L417.3 579.6L427.3 582L438.3 585.4L449.3 589.5L459.8 594.5L469.3 600L478.4 606.5L487.3 614L495.3 622.1L502.3 630.6L509 640.5L515.3 651.5L521.5 664.5L527.3 678.8L531.8 692.5L534.9 705.5M630.2 705.5L626.2 649.5L623.8 622.5L620.7 597.5L617.5 580.5L615.1 570.5L612.8 562.5L610 554.5L606.9 547.5L603.3 540.7L599.3 534.5L596.3 530.7L591.3 525.5L585.6 520.5L579.3 515.9L572.3 511.5L565.3 507.8L557.5 504.5L549.3 501.7L532.3 497.6L509.3 493.8L477.3 490.1L446.3 487.7L394.3 484.3M394.3 580.8L426.3 587.8L436.3 590.8L446.3 594.6L457.3 599.9L466.3 605.2L475.2 611.5L483.3 618.3L491.3 626.5L497.8 634.5L504.3 643.9L510.5 654.5L516.4 666.5L522.1 680.5L526.5 693.5L529.6 705.5M634.8 705.5L628.1 621.5L624.6 594.5L620.7 573.5L618.3 563.8L616 556.5L613.3 549.2L610.3 542.5L607 536.5L603.3 531.1L599.3 526.2L594.3 521L589.1 516.5L582.3 511.6L575.3 507.3L568.3 503.7L562.3 501.1L554.3 498.3L545.3 495.7L536.3 493.6L524.3 491.3L513.3 489.6L483.3 486.1L450.3 482.9L394.3 478.7M394.3 586.2L424.3 593L434.3 596.1L443.4 599.5L453.3 604.2L462.3 609.4L470.3 615L478.3 621.6L486.1 629.5L492.8 637.5L499.2 646.5L505.3 656.7L511.2 668.5L516.7 681.5L521.3 694.5L524.2 705.5M639.3 705.5L634.2 640.5L632.1 619.5L628.9 593.5L624.9 571.5L622.8 562.5L620.2 553.5L617.6 546.5L614.5 539.5L611.2 533.5L607.3 527.7L603 522.5L598.3 517.7L592.3 512.5L586.3 508.2L579.3 503.9L571.3 499.9L564.3 496.8L557.7 494.5L549.3 492.1L539.3 489.7L516.3 485.4L492.3 482.4L421.3 475.4L394.3 473.3M394.3 591.3L422.3 597.9L431.3 600.6L440.3 604.1L449.7 608.5L458.3 613.5L466.9 619.5L474.3 625.7L481.3 632.7L488.3 640.9L494.4 649.5L500.5 659.5L506.1 670.5L511.3 682.5L515.7 694.5L518.8 705.5M643.5 705.5L638.6 646.5L635.1 610.5L631.9 585.5L628.4 566.5L626.3 557.7L623.9 549.5L621.4 542.5L618.8 536.5L615.5 530.5L612.2 525.5L608.3 520.5L603.3 515.3L597.9 510.5L591.3 505.6L584.7 501.5L577.2 497.5L569.3 494L561.3 491.1L553.3 488.7L542.3 486L518.8 481.5L499.3 478.6L422.3 470.5L394.3 468.3M394.3 596.2L420.3 602.5L429.6 605.5L438.3 608.9L447.3 613.3L455.3 618.1L463.3 623.8L470.3 629.7L477.3 636.6L483.9 644.5L489.7 652.5L495.2 661.5L501 672.5L505.9 683.5L510 694.5L513.4 705.5M647.4 705.5L642 641.5L638.5 604.5L635.9 584.5L632.7 565.5L630.5 555.5L628.3 547.5L625.9 540.5L623.3 534.2L620.3 528.3L616.6 522.5L612.7 517.5L608 512.5L602.2 507.5L595.4 502.5L588.3 498.1L581.4 494.5L573.3 490.9L566.3 488.2L558.3 485.7L548.3 483.1L523.3 478.2L493.3 473.6L418.7 465.5L394.3 463.6M394.3 600.9L419.3 607.3L428.3 610.3L435.9 613.5L444.3 617.7L452.2 622.5L459.3 627.6L466.2 633.5L473.2 640.5L479.1 647.5L484.9 655.5L490.3 664.2L495.3 673.5L500.3 684.5L504.6 695.5L507.9 705.5M651.1 705.5L642.2 601.5L639.5 580.5L636.1 560.5L634.2 551.5L632 543.5L629.7 536.5L627.2 530.5L624.3 524.8L620.9 519.5L617 514.5L612.3 509.5L606.5 504.5L599.5 499.5L592.3 495.1L584.3 490.9L576.3 487.4L567.3 484.1L559.3 481.7L548.3 479L522.3 474L489.3 469.1L417.3 461L404.3 459.8L394.3 459.3M394.3 605.4L417.1 611.5L425.3 614.4L433.3 617.8L441.3 622L448.6 626.5L455.4 631.5L462.3 637.4L468.4 643.5L474.3 650.5L480.2 658.5L485.2 666.5L490.1 675.5L494.8 685.5L498.8 695.5L502.3 705.5M654.8 705.5L646.1 601.5L643.2 577.5L639.8 556.5L636.1 540.5L633.8 533.5L631.3 527.2L628.4 521.5L625.2 516.5L621.3 511.5L617.3 507.3L611.9 502.5L605.1 497.5L597.3 492.6L589.3 488.4L580.4 484.5L572.3 481.5L562.7 478.5L552.3 475.9L527.3 470.8L492.3 465.6L418.3 456.9L404.3 455.5L394.3 455M394.3 609.9L414.5 615.5L422.7 618.5L430.3 621.9L438.3 626.2L445.1 630.5L451.3 635.1L457.6 640.5L463.6 646.5L469.6 653.5L474.7 660.5L479.9 668.5L484.3 676.5L488.7 685.5L492.9 695.5L496.6 705.5M658.5 705.5L649.7 598.5L647 575.5L643.3 551.5L641.5 542.5L639.6 535.5L637.7 529.5L635.2 523.5L632.6 518.5L629.5 513.5L625.6 508.5L621.8 504.5L616.1 499.5L609.2 494.5L601 489.5L592.3 485L584.3 481.5L575.3 478.2L565.3 475.1L554.3 472.4L528.3 467L495.3 462L418.3 452.9L404.3 451.5L394.3 450.9M394.3 614.2L412.3 619.5L420 622.5L427.3 625.9L434.3 629.7L441.3 634.2L448.2 639.5L453.9 644.5L459.7 650.5L464.8 656.5L470 663.5L474.5 670.5L479.1 678.5L483.1 686.5L487 695.5L490.9 705.5M662.1 705.5L653.2 594.5L650.6 571.5L647.1 547.5L643.8 532.5L641.9 526.5L639.5 520.5L637 515.5L633.8 510.5L630.3 506L626.3 501.8L620.2 496.5L613.2 491.5L605 486.5L596.3 482L587.3 478.1L578.3 474.9L569.3 472.2L557.3 469.1L542.3 465.8L527.3 462.9L498.3 458.5L421.3 449.3L404.3 447.6L394.3 447M394.3 618.6L403.3 621.2L410.3 623.5L417.3 626.4L424.3 629.8L430.9 633.5L437.3 637.7L443.5 642.5L449.3 647.7L455 653.5L460.1 659.5L464.6 665.5L469.2 672.5L473.3 679.6L477.4 687.5L481.3 696L485.2 705.5M664.3 689.3L656.5 588.5L652.5 554.5L650.4 540.5L648.9 533.5L647.1 526.5L645 520.5L642.8 515.5L640.1 510.5L636.7 505.5L633.3 501.5L629.3 497.6L623 492.5L615.3 487.3L606.3 482.1L597.3 477.7L589.3 474.4L580.3 471.3L570.3 468.4L558.3 465.5L528.3 459.4L497.3 454.5L423.3 445.7L405.3 443.9L394.3 443.3M394.3 623L401.3 625L408.3 627.5L415.3 630.6L422.3 634.2L428.3 637.8L434.3 642L440 646.5L445.3 651.3L450.3 656.5L455.3 662.4L459.9 668.5L463.8 674.5L471.7 688.5L479.4 705.5M664.3 640.8L660.9 594.5L659.3 576.9L655.7 545.5L652.8 529.5L650.9 522.5L648.8 516.5L646.6 511.5L643.8 506.5L641 502.5L637.3 498.2L633.3 494.4L628.5 490.5L621.1 485.5L611.3 479.7L602.9 475.5L594.3 471.8L586.3 468.9L577.3 466.2L551.3 460.1L522.3 454.6L489.3 449.7L422.3 441.9L405.3 440.3L394.3 439.7M664.3 588.6L660.8 551.5L659 537.5L656.2 523.5L654.5 517.5L652.3 511.7L649.8 506.5L647.3 502.3L644.3 498.3L640.3 494L636.3 490.4L631.1 486.5L618.3 478.5L610.3 474.2L602.4 470.5L594.8 467.5L586.3 464.6L570.3 460.4L538.3 453.7L507.3 448.5L471.3 443.8L420.3 438.1L406.3 436.9L394.3 436.2M394.3 627.5L400.3 629.3L406.3 631.6L412.7 634.5L419.3 638.1L430.4 645.5L435.4 649.5L440.9 654.5L445.7 659.5L449.9 664.5L458.3 676.2L466 689.5L473.6 705.5M664.3 544.1L662.1 528.5L658.9 515.5L656.8 509.5L654.5 504.5L652.3 500.5L649.5 496.5L646.3 492.8L642.9 489.5L638.3 485.8L633.3 482.2L617.3 472.8L604 466.5L591.3 461.9L576.3 457.8L546.3 451.4L522.3 447.2L489.3 442.4L448.3 437.5L416.3 434.2L394.3 432.8M394.3 632.1L400.3 634.1L405.3 636.2L411.3 639.2L417.1 642.5L427.3 649.6L432.3 653.8L437.3 658.5L445.3 667.5L453.2 678.5L460.3 690.6L467.7 705.5M664.3 517.5L661.1 507.5L656.9 498.5L652.3 492L645.7 485.5L640.6 481.5L635.3 477.9L619.3 468.8L608.3 463.6L596.3 459.1L584.3 455.7L569.3 452.3L539.3 446.3L512.3 442L479.3 437.5L440.3 433.1L415.3 430.7L394.3 429.4M394.3 636.9L399.3 638.7L404.3 641L414.3 646.7L424.3 653.9L433.3 662.2L440.7 670.5L447.9 680.5L454.5 691.5L461.8 705.5M664.3 502.8L660.7 495.5L656.3 489.2L650.3 483.1L642.3 476.9L632.3 470.8L616.7 462.5L605.3 457.8L593.3 453.9L577.3 449.9L551.3 444.8L530.3 441.1L506.5 437.5L474.3 433.4L438.3 429.3L415.3 427.3L394.3 426.1M394.3 642.1L403.3 646.1L412.3 651.5L421.3 658.3L429.3 665.8L436.1 673.5L442.7 682.5L448.8 692.5L455.8 705.5M664.3 492.6L660 486.5L654.3 480.5L647.3 474.8L638.3 468.9L625.3 461.7L615.3 457L604.3 452.9L591.3 449.1L575.3 445.5L547.3 440.3L524.5 436.5L501.3 433.2L470.3 429.3L437.3 425.8L415.3 423.9L394.3 422.8M394.3 647.5L402.3 651.5L410.3 656.6L417.9 662.5L425.3 669.5L431.5 676.5L437.5 684.5L443.2 693.5L449.8 705.5M664.3 484.8L658.7 478.5L651.8 472.5L643.3 466.6L632.3 460.2L623.3 455.6L614.3 451.9L603.3 448.2L591.3 444.9L574.3 441.3L545.3 436.3L520.3 432.3L497.3 429.1L465.3 425.3L436.3 422.3L415.3 420.5L394.3 419.4M394.3 653.3L401.3 657.1L408.3 661.7L415.3 667.4L421.6 673.5L427.3 679.9L433 687.5L438.2 695.5L443.9 705.5M664.3 478L658.3 472.1L651.1 466.5L641.3 460.2L630.3 454L622.7 450.5L613.3 446.9L602.3 443.5L591.3 440.8L574.3 437.4L542.3 432.1L517.3 428.3L494.3 425.2L464.3 421.7L437.3 419L416.3 417.3L394.3 416.1M394.3 659.3L400.3 662.8L406.9 667.5L412.8 672.5L418.3 677.9L423.3 683.6L428.3 690.2L433.2 697.5L438 705.5M664.3 471.7L658.3 466.4L650.3 460.6L640.3 454.5L630.3 449.1L622.3 445.7L613.3 442.5L603.3 439.6L592.3 436.9L575.3 433.6L541.3 428.2L517.3 424.7L492.9 421.5L463.3 418.1L437.3 415.6L417.3 414L394.3 412.8M394.3 665.5L399.3 668.8L404.3 672.5L409.3 676.8L414.3 681.7L418.6 686.5L423.4 692.5L432 705.5M664.3 465.9L657.6 460.5L649.3 454.8L640.3 449.5L631.3 444.9L623.3 441.5L614.3 438.4L603.9 435.5L592.3 432.8L576.3 429.9L537.3 424L488.5 417.5L461.3 414.5L436.3 412.1L416.3 410.6L394.3 409.5M394.3 672L403.3 678.9L411.3 686.5L418.9 695.5L425.8 705.5M664.3 460.3L657.3 455L648.3 449.2L639.3 444.1L631.3 440.2L623.3 437.1L613.3 433.8L603.3 431.2L592.3 428.7L577.3 426.1L535.3 420L486.3 413.8L436.3 408.8L416.3 407.3L394.3 406.2M394.3 678.8L401.3 684.5L407.5 690.5L413.6 697.5L419.5 705.5M664.3 454.8L656.8 449.5L648.3 444.2L640.3 439.8L632.3 436.1L624.3 433.1L615.3 430.2L605.3 427.5L594.3 425.1L574.3 421.8L526.3 415.2L493.3 411.1L445.3 406.2L406.7 403.5M394.3 685.9L399.3 690.2L404.3 695.2L412.9 705.5M664.3 449.4L657 444.5L649.3 439.9L642.3 436.1L635.3 432.9L628.3 430.1L620.3 427.4L611.3 424.9L601.3 422.5L580.3 418.8L526.3 411.6L489.3 407.2L452.6 403.5M394.3 693.3L400.3 699.1L406 705.5M664.3 444.2L650.3 435.5L637.3 429.2L623.3 424.1L606.3 419.6L593.3 416.9L579.3 414.7L520.3 407.3L486.7 403.5M394.3 701L398.7 705.5M664.3 438.9L651.3 431.2L639.3 425.5L626.3 420.8L611.3 416.7L597.3 413.7L583.3 411.4L517.8 403.5M664.3 433.7L653.3 427.4L642.3 422.3L631.3 418.1L618.3 414.3L604.3 411.1L589.3 408.5L548 403.5" fill="none" stroke="#828282" stroke-width="1.55"/>
<path d="M431.5 407.5V700.7M496.7 407.5V700.7M561.8 407.5V700.7M627.0 407.5V700.7M398.3 667.8H659.4M398.3 635.2H659.4M398.3 602.5H659.4M398.3 569.9H659.4M398.3 537.2H659.4M398.3 504.5H659.4M398.3 471.9H659.4M398.3 439.2H659.4" fill="none" stroke="#000" stroke-width="0.9" stroke-dasharray="0.9 1.2" stroke-opacity="0.6"/>
</g>
<rect x="398.3" y="407.5" width="261.1" height="293.2" fill="none" stroke="#000" stroke-width="1.3"/>
<path d="M431.5 407.5V403.9M431.5 700.7V704.3M496.7 407.5V403.9M496.7 700.7V704.3M561.8 407.5V403.9M561.8 700.7V704.3M627.0 407.5V403.9M627.0 700.7V704.3M398.3 700.5H394.7M659.4 700.5H663.0M398.3 667.8H394.7M659.4 667.8H663.0M398.3 635.2H394.7M659.4 635.2H663.0M398.3 602.5H394.7M659.4 602.5H663.0M398.3 569.9H394.7M659.4 569.9H663.0M398.3 537.2H394.7M659.4 537.2H663.0M398.3 504.5H394.7M659.4 504.5H663.0M398.3 471.9H394.7M659.4 471.9H663.0M398.3 439.2H394.7M659.4 439.2H663.0" stroke="#000" stroke-width="1.2"/>
<text x="430.2" y="721.1" font-size="16" text-anchor="middle">−1.5</text>
<text x="495.4" y="721.1" font-size="16" text-anchor="middle">−1.0</text>
<text x="560.6" y="721.1" font-size="16" text-anchor="middle">−0.5</text>
<text x="627" y="721.1" font-size="16" text-anchor="middle">0.0</text>
<rect x="404.3" y="417.7" width="144.3" height="23" rx="4" ry="4" fill="#d3d3d3" fill-opacity="0.85" stroke="#000" stroke-width="1.3"/>
<text x="409.5" y="433.2" font-size="15" font-weight="bold">Template fit vs 21<tspan font-style="italic">μ</tspan>m</text>
<path d="M557.00 592.30L558.39 596.58L562.90 596.58L559.25 599.23L560.64 603.52L557.00 600.87L553.36 603.52L554.75 599.23L551.10 596.58L555.61 596.58Z" fill="#fff" stroke="#000" stroke-width="1.45" stroke-linejoin="miter"/>
<path d="M551.30 605.10L545.00 617.70L557.60 617.70Z" fill="#fff" stroke="#000" stroke-width="1.45" stroke-linejoin="miter"/>
<path d="M529.50 565.00L535.04 568.20L535.04 574.60L529.50 577.80L523.96 574.60L523.96 568.20Z" fill="#fff" stroke="#000" stroke-width="1.45" stroke-linejoin="miter"/>
<path d="M579.00 597.60L591.40 597.60L591.40 610.00L579.00 610.00Z" fill="#fff" stroke="#000" stroke-width="1.45" stroke-linejoin="miter"/>
<circle cx="552.7" cy="591.6" r="8.0" fill="#fff" stroke="#000" stroke-width="1.5"/>
<rect x="96.3" y="577.0" width="108.2" height="115.6" rx="4" ry="4" fill="#fff" fill-opacity="0.88" stroke="#000" stroke-width="1.2"/>
<circle cx="109.7" cy="589.8" r="8.3" fill="#fff" stroke="#000" stroke-width="1.5"/>
<path d="M109.70 606.20L103.20 619.20L116.20 619.20Z" fill="#fff" stroke="#000" stroke-width="1.45" stroke-linejoin="miter"/>
<path d="M109.70 628.90L111.18 633.46L115.98 633.46L112.10 636.28L113.58 640.84L109.70 638.02L105.82 640.84L107.30 636.28L103.42 633.46L108.22 633.46Z" fill="#fff" stroke="#000" stroke-width="1.45" stroke-linejoin="miter"/>
<path d="M109.70 651.10L115.33 654.35L115.33 660.85L109.70 664.10L104.07 660.85L104.07 654.35Z" fill="#fff" stroke="#000" stroke-width="1.45" stroke-linejoin="miter"/>
<path d="M103.70 674.10L115.70 674.10L115.70 686.10L103.70 686.10Z" fill="#fff" stroke="#000" stroke-width="1.45" stroke-linejoin="miter"/>
<text x="125.6" y="594.4" font-size="15">All galaxies</text>
<text x="125.6" y="616.6" font-size="15">IC 5332</text>
<text x="125.6" y="638.8" font-size="15">NGC 0628</text>
<text x="125.6" y="661" font-size="15">NGC 1365</text>
<text x="125.6" y="683.2" font-size="15">NGC 7496</text>
<text x="194.9" y="751" font-size="22">CO template scaling,</text>
<text x="384.3" y="751" font-size="22">log</text>
<text x="412.8" y="755.1" font-size="15">10</text>
<text x="430.6" y="751" font-size="22" font-style="italic">c</text>
<path d="M453.6 736.0H449.9V753.6H453.6" fill="none" stroke="#000" stroke-width="1.15"/>
<text x="457.7" y="740" font-size="15">MJy</text>
<text x="492.6" y="740" font-size="15">sr</text>
<path d="M505.5 731.0h7.2" stroke="#000" stroke-width="0.85"/><text x="514.6" y="733.9" font-size="10.6">1</text>
<path d="M455.8 744.7H522.5" stroke="#000" stroke-width="0.9"/>
<text x="456.4" y="758.8" font-size="15.5">K</text>
<text x="473.4" y="758.8" font-size="15.5">km</text>
<text x="500.3" y="758.8" font-size="15">s</text>
<path d="M507.3 751.1h7.2" stroke="#000" stroke-width="0.85"/><text x="516.7" y="754" font-size="10.6">1</text>
<path d="M524.9 736.0H528.4V753.6H524.9" fill="none" stroke="#000" stroke-width="1.15"/>
<g transform="translate(26.7 588.9) rotate(-90)"><text x="0" y="0" font-size="22">H<tspan font-style="italic">α</tspan> template scaling,</text><text x="190.3" y="0" font-size="22">log</text><text x="217.7" y="4.3" font-size="15">10</text><text x="234.3" y="0" font-size="22" font-style="italic">h</text><path d="M259.6 -14.2H255.8V3.2H259.6" fill="none" stroke="#000" stroke-width="1.15"/><text x="294.4" y="-10.4" font-size="15">MJy</text><text x="329" y="-10.4" font-size="15">sr</text><path d="M341.8 -19.6h7.2" stroke="#000" stroke-width="0.85"/><text x="350.7" y="-16.7" font-size="10.6">1</text><path d="M262.9 -5.7H387.6" stroke="#000" stroke-width="0.9"/><text x="263.8" y="9.1" font-size="15">erg</text><text x="289.5" y="9.1" font-size="15">s</text><path d="M298.1 0.7h7.2" stroke="#000" stroke-width="0.85"/><text x="305.7" y="3.6" font-size="10.6">1</text><text x="314.8" y="9.1" font-size="15">cm</text><path d="M339.4 0.7h7.2" stroke="#000" stroke-width="0.85"/><text x="347.6" y="3.6" font-size="10.6">2</text><text x="359.5" y="9.1" font-size="15">sr</text><path d="M375.5 0.7h7.2" stroke="#000" stroke-width="0.85"/><text x="383.1" y="3.6" font-size="10.6">1</text><path d="M390.3 -14.2H394.0V3.2H390.3" fill="none" stroke="#000" stroke-width="1.15"/></g>
</svg>
</body></html>
